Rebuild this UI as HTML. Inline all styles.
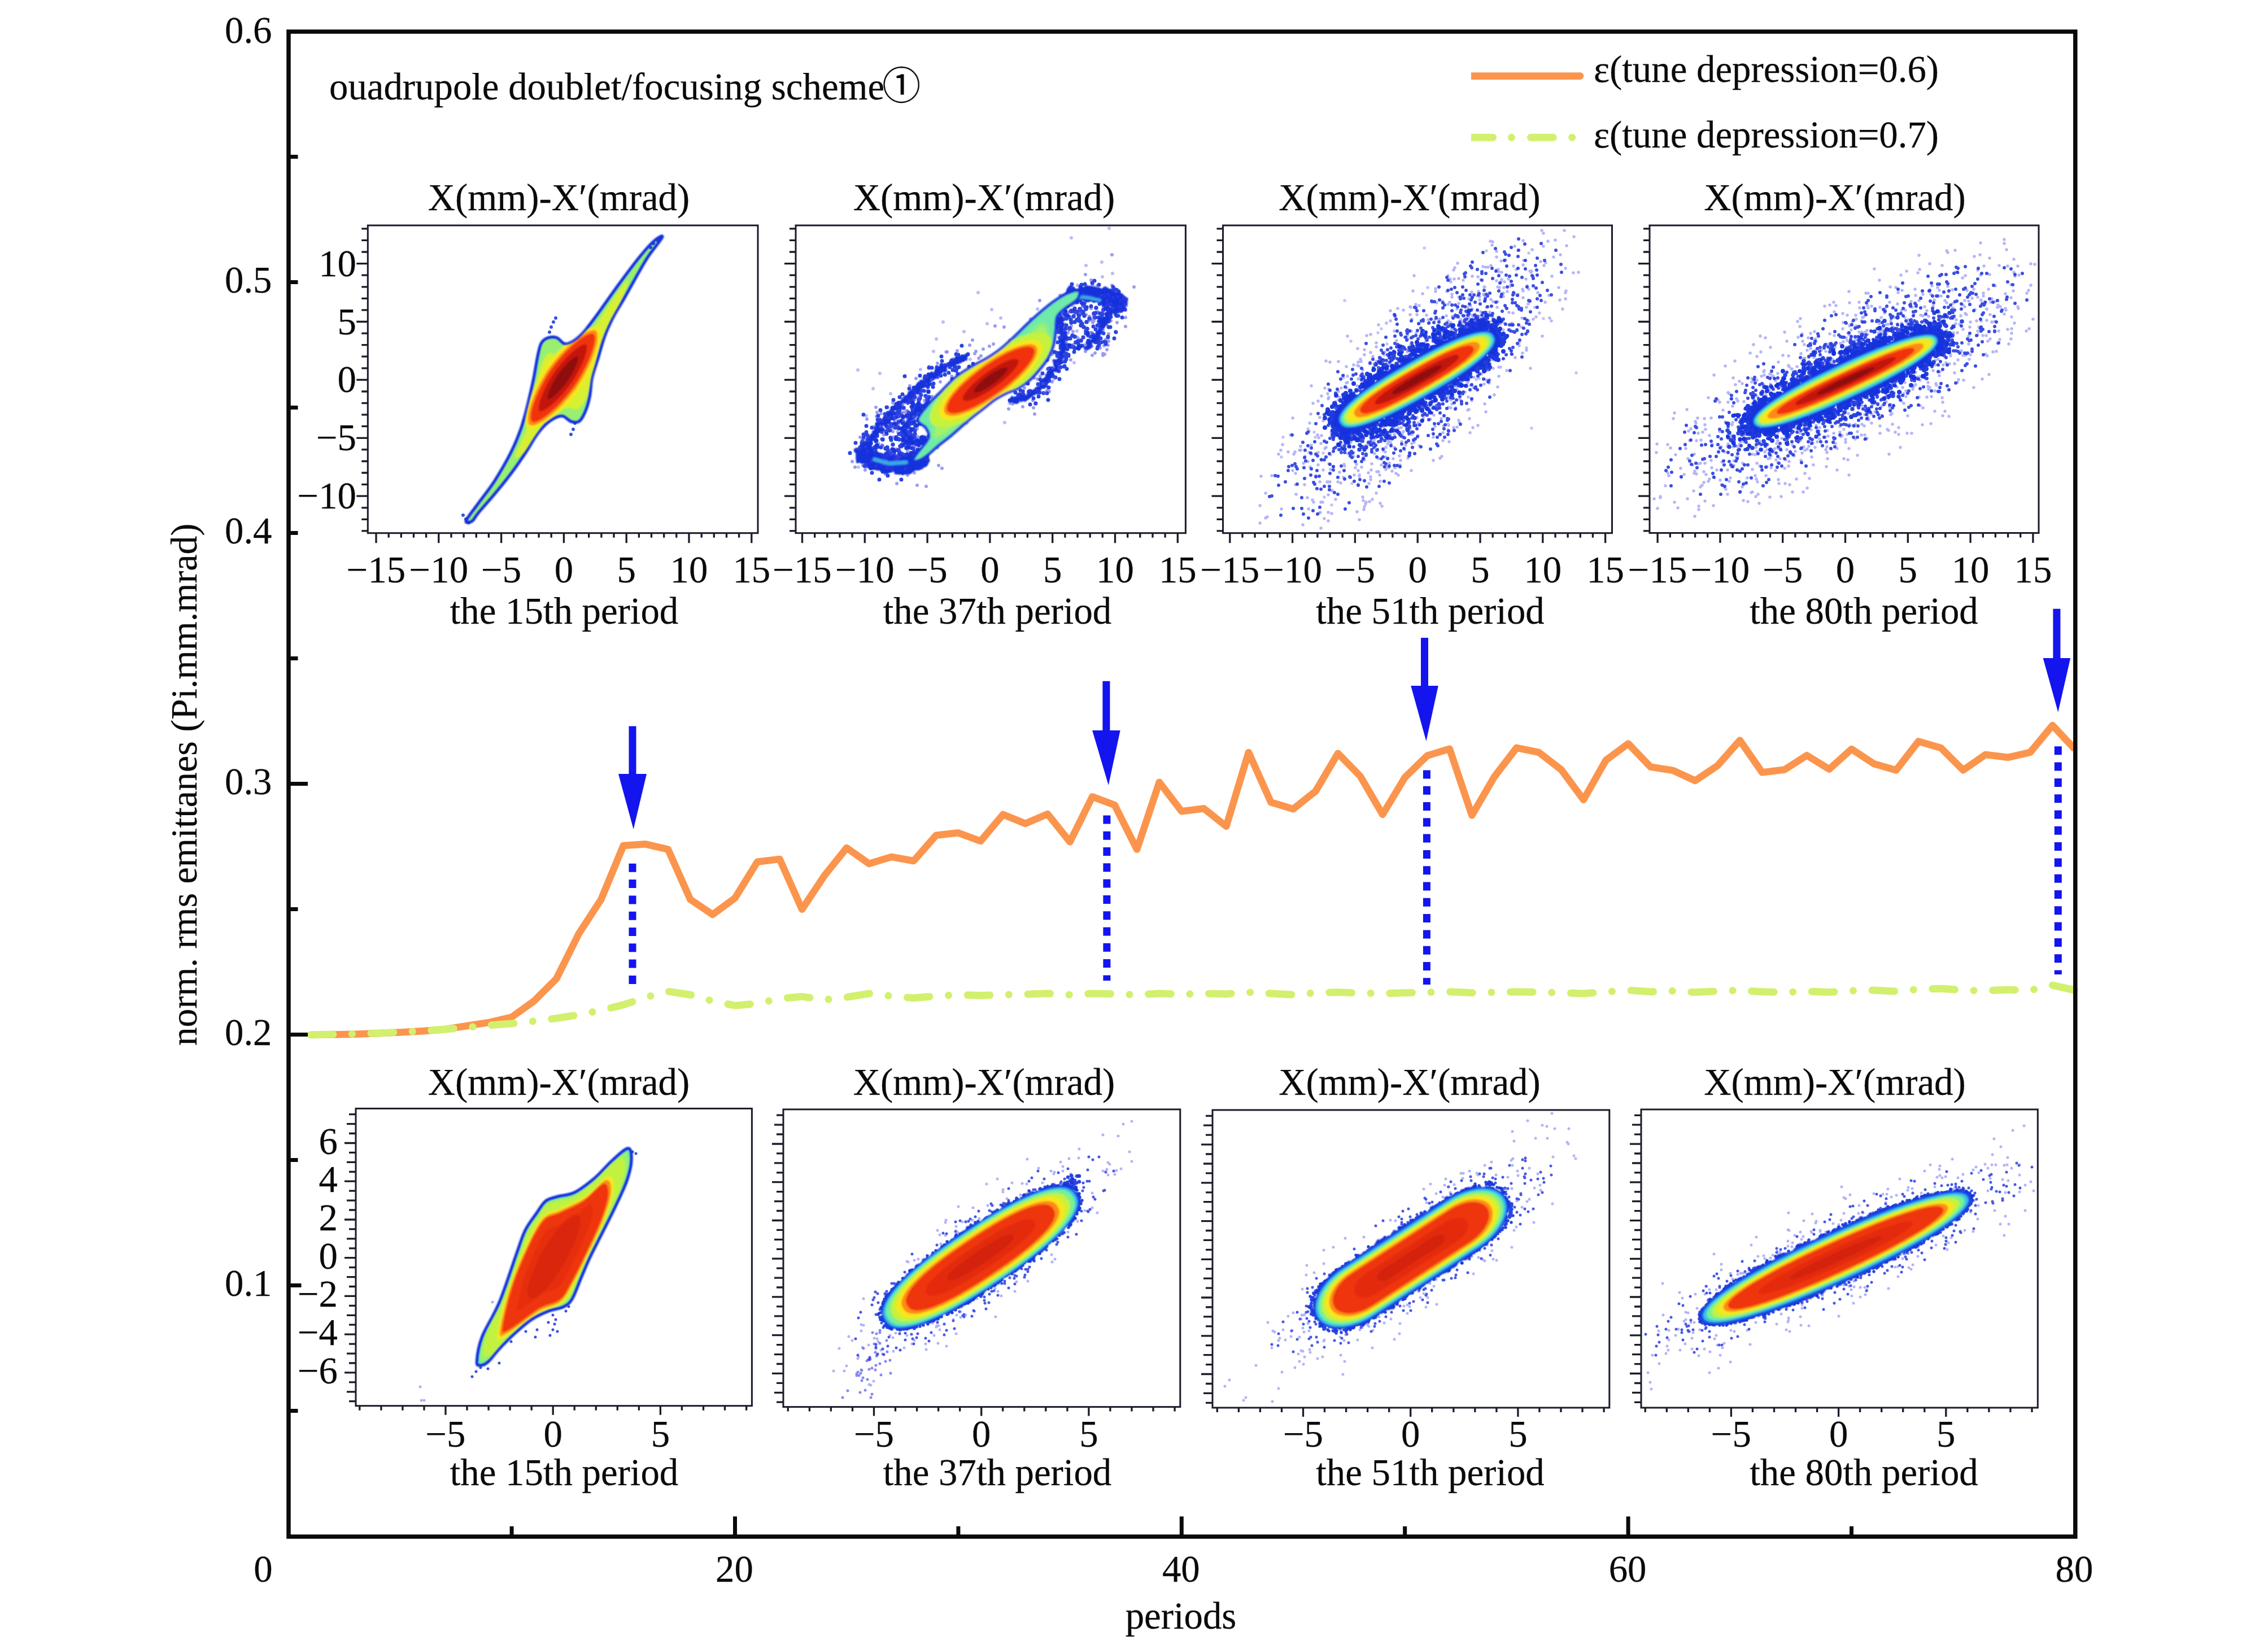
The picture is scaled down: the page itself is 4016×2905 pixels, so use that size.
<!DOCTYPE html>
<html><head><meta charset="utf-8"><title>emittance</title><style>html,body{margin:0;padding:0;background:#fff}svg{display:block}</style></head><body>
<svg width="4016" height="2905" viewBox="0 0 4016 2905" font-family="'Liberation Serif','Noto Sans CJK SC',serif" font-size="66.8" fill="#0a0a0a"><style>text{stroke:#0a0a0a;stroke-width:0.25px;stroke-linejoin:round}</style>
<defs>
<filter id="b1" x="-10%" y="-10%" width="120%" height="120%"><feGaussianBlur stdDeviation="1.5"/></filter>
<filter id="b0" x="-10%" y="-10%" width="120%" height="120%"><feGaussianBlur stdDeviation="1.1"/></filter>
<filter id="rg" x="-10%" y="-10%" width="120%" height="120%"><feTurbulence type="fractalNoise" baseFrequency="0.09" numOctaves="2" seed="3" result="n"/><feDisplacementMap in="SourceGraphic" in2="n" scale="14" xChannelSelector="R" yChannelSelector="G"/><feGaussianBlur stdDeviation="0.9"/></filter>
<filter id="rg2" x="-10%" y="-10%" width="120%" height="120%"><feTurbulence type="fractalNoise" baseFrequency="0.07" numOctaves="2" seed="5" result="n"/><feDisplacementMap in="SourceGraphic" in2="n" scale="30" xChannelSelector="R" yChannelSelector="G"/><feGaussianBlur stdDeviation="0.9"/></filter>
</defs>
<rect width="4016" height="2905" fill="#fff"/>
<polyline points="550.2,1832.0 589.8,1831.6 629.3,1830.7 668.9,1829.3 708.4,1827.6 747.9,1825.3 787.5,1822.2 827.0,1816.0 866.6,1809.8 906.1,1800.5 945.6,1772.1 985.2,1732.6 1024.7,1653.2 1064.3,1592.4 1103.8,1497.0 1143.3,1494.3 1182.9,1503.6 1222.4,1592.4 1262.0,1619.0 1301.5,1589.7 1341.0,1525.8 1380.6,1520.9 1420.1,1609.7 1459.7,1550.2 1499.2,1501.0 1538.7,1528.9 1578.3,1516.9 1617.8,1524.0 1657.4,1478.8 1696.9,1474.3 1736.4,1489.0 1776.0,1441.9 1815.5,1457.9 1855.1,1441.1 1894.6,1490.3 1934.1,1410.4 1973.7,1425.1 2013.2,1503.6 2052.8,1384.7 2092.3,1436.2 2131.8,1431.3 2171.4,1462.8 2210.9,1331.9 2250.5,1420.2 2290.0,1432.2 2329.5,1400.7 2369.1,1333.7 2408.6,1374.0 2448.2,1441.9 2487.7,1376.3 2527.2,1337.7 2566.8,1325.7 2606.3,1443.3 2645.9,1375.4 2685.4,1323.9 2724.9,1331.9 2764.5,1362.5 2804.0,1415.8 2843.6,1345.7 2883.1,1316.4 2922.6,1357.6 2962.2,1363.8 3001.7,1382.0 3041.3,1355.4 3080.8,1310.6 3120.3,1367.4 3159.9,1362.5 3199.4,1337.2 3239.0,1361.6 3278.5,1326.1 3318.0,1351.9 3357.6,1363.4 3397.1,1312.4 3436.7,1323.9 3476.2,1363.4 3515.7,1335.9 3555.3,1340.8 3594.8,1331.9 3634.4,1284.0 3673.9,1326.1" fill="none" stroke="#fb954d" stroke-width="12.5" stroke-linejoin="round" stroke-linecap="butt"/>
<polyline points="550.2,1832.0 589.8,1831.1 629.3,1830.2 668.9,1828.9 708.4,1827.1 747.9,1824.9 787.5,1822.2 827.0,1818.7 866.6,1815.1 906.1,1812.0 945.6,1807.6 985.2,1802.7 1024.7,1796.5 1064.3,1788.5 1103.8,1778.8 1143.3,1765.4 1182.9,1755.2 1222.4,1761.0 1262.0,1772.1 1301.5,1780.1 1341.0,1776.5 1380.6,1767.7 1420.1,1764.1 1459.7,1769.9 1499.2,1765.4 1538.7,1758.8 1578.3,1763.2 1617.8,1766.8 1657.4,1763.2 1696.9,1761.0 1736.4,1762.3 1776.0,1761.0 1815.5,1760.1 1855.1,1758.8 1894.6,1761.0 1934.1,1758.8 1973.7,1759.7 2013.2,1761.0 2052.8,1758.8 2092.3,1760.1 2131.8,1758.8 2171.4,1759.7 2210.9,1756.6 2250.5,1758.8 2290.0,1761.0 2329.5,1757.5 2369.1,1756.6 2408.6,1757.9 2448.2,1758.8 2487.7,1757.5 2527.2,1756.6 2566.8,1755.7 2606.3,1757.5 2645.9,1756.6 2685.4,1755.7 2724.9,1756.6 2764.5,1757.5 2804.0,1758.8 2843.6,1755.7 2883.1,1753.0 2922.6,1755.7 2962.2,1754.3 3001.7,1756.6 3041.3,1754.8 3080.8,1753.0 3120.3,1755.7 3159.9,1756.6 3199.4,1754.8 3239.0,1756.6 3278.5,1753.9 3318.0,1753.0 3357.6,1754.8 3397.1,1751.2 3436.7,1749.9 3476.2,1753.0 3515.7,1753.9 3555.3,1752.1 3594.8,1753.0 3634.4,1744.1 3673.9,1753.0" fill="none" stroke="#d2f06e" stroke-width="13" stroke-linejoin="round" stroke-linecap="round" stroke-dasharray="39.7 33.6 0.01 33.6"/>
<rect x="511.0" y="56.0" width="3163.8" height="2664.2" fill="none" stroke="#0a0a0a" stroke-width="7.5"/>
<path d="M511.0 277.5H527.5M511.0 499.5H527.5M511.0 721.5H527.5M511.0 943.5H527.5M511.0 1165.5H527.5M511.0 1609.5H527.5M511.0 2053.5H527.5M511.0 2497.5H527.5M511.0 1387.5H545M511.0 1831.5H545M511.0 2275.5H533.5M906.1 2720.2V2702M1696.9 2720.2V2702M2487.7 2720.2V2702M3278.5 2720.2V2702M1301.5 2720.2V2684.5M2092.3 2720.2V2684.5M2883.1 2720.2V2684.5" stroke="#0a0a0a" stroke-width="7" fill="none"/>
<text x="481.5" y="75.8" text-anchor="end">0.6</text>
<text x="481.5" y="518.3" text-anchor="end">0.5</text>
<text x="481.5" y="962.3" text-anchor="end">0.4</text>
<text x="481.5" y="1406.3" text-anchor="end">0.3</text>
<text x="481.5" y="1850.3" text-anchor="end">0.2</text>
<text x="481.5" y="2294.3" text-anchor="end">0.1</text>
<text x="466" y="2800" text-anchor="middle">0</text>
<text x="1300.5" y="2800" text-anchor="middle">20</text>
<text x="2091.3" y="2800" text-anchor="middle">40</text>
<text x="2882.1" y="2800" text-anchor="middle">60</text>
<text x="3672.9" y="2800" text-anchor="middle">80</text>
<text x="2091" y="2882.5" text-anchor="middle">periods</text>
<text transform="translate(348,1389) rotate(-90)" text-anchor="middle" font-size="65.8">norm. rms emittanes (Pi.mm.mrad)</text>
<text x="583" y="176">ouadrupole doublet/focusing scheme<tspan font-size="68" dx="-4" dy="0">①</tspan></text>
<path d="M2605 134.6H2798" stroke="#fb954d" stroke-width="12.7" fill="none"/><circle cx="2798" cy="134.6" r="6.35" fill="#fb954d"/>
<g fill="#d2f06e"><path d="M2605 236.8h38.5a6.5 6.5 0 0 1 0 13h-38.5z"/><circle cx="2676.5" cy="243.3" r="6.5"/><rect x="2704" y="236.8" width="52.7" height="13" rx="6.5"/><circle cx="2783.7" cy="243.3" r="6.5"/></g>
<text x="2822" y="145">ε(tune depression=0.6)</text>
<text x="2822" y="261">ε(tune depression=0.7)</text>
<path d="M1113.5 1285.5H1126.5V1370H1145.0L1121.7 1468L1095.0 1370H1113.5Z" fill="#1414ee"/>
<path d="M1952.4 1205.7H1965.4V1293H1983.65L1962.8 1390L1934.15 1293H1952.4Z" fill="#1414ee"/>
<path d="M2516.0 1129H2529.0V1214H2546.75L2525.4 1312L2498.25 1214H2516.0Z" fill="#1414ee"/>
<path d="M3635.4 1077.8H3648.4V1165H3666.15L3644.3 1260.7L3617.65 1165H3635.4Z" fill="#1414ee"/>
<path d="M1120 1528.8V1744" stroke="#1414ee" stroke-width="13" stroke-dasharray="15 13.3" fill="none"/>
<path d="M1959.9 1443.4V1736" stroke="#1414ee" stroke-width="13" stroke-dasharray="15 13.3" fill="none"/>
<path d="M2526.4 1363.4V1743" stroke="#1414ee" stroke-width="13" stroke-dasharray="15 13.3" fill="none"/>
<path d="M3644.3 1321.3V1725" stroke="#1414ee" stroke-width="13" stroke-dasharray="15 13.3" fill="none"/>
<rect x="649.3" y="397" width="694.7" height="548.7" fill="#fff"/>
<rect x="651.3" y="399" width="690.7" height="544.7" fill="none" stroke="#1b1b2b" stroke-width="3"/>
<path d="M666.0 943.7v17.5M688.2 943.7v8M710.3 943.7v8M732.5 943.7v8M754.6 943.7v8M776.8 943.7v17.5M799.0 943.7v8M821.1 943.7v8M843.3 943.7v8M865.4 943.7v8M887.6 943.7v17.5M909.8 943.7v8M931.9 943.7v8M954.1 943.7v8M976.2 943.7v8M998.4 943.7v17.5M1020.6 943.7v8M1042.7 943.7v8M1064.9 943.7v8M1087.0 943.7v8M1109.2 943.7v17.5M1131.4 943.7v8M1153.5 943.7v8M1175.7 943.7v8M1197.8 943.7v8M1220.0 943.7v17.5M1242.2 943.7v8M1264.3 943.7v8M1286.5 943.7v8M1308.6 943.7v8M1330.8 943.7v17.5M651.3 939.9h-11M651.3 919.4h-11M651.3 898.8h-11M651.3 878.2h-20M651.3 857.6h-11M651.3 837.0h-11M651.3 816.5h-11M651.3 795.9h-11M651.3 775.3h-20M651.3 754.7h-11M651.3 734.1h-11M651.3 713.6h-11M651.3 693.0h-11M651.3 672.4h-20M651.3 651.8h-11M651.3 631.2h-11M651.3 610.7h-11M651.3 590.1h-11M651.3 569.5h-20M651.3 548.9h-11M651.3 528.3h-11M651.3 507.8h-11M651.3 487.2h-11M651.3 466.6h-20M651.3 446.0h-11M651.3 425.4h-11M651.3 404.9h-11" stroke="#1b1b2b" stroke-width="3.3" fill="none"/>
<text x="666.0" y="1030.5" text-anchor="middle">−15</text>
<text x="776.8" y="1030.5" text-anchor="middle">−10</text>
<text x="887.6" y="1030.5" text-anchor="middle">−5</text>
<text x="998.4" y="1030.5" text-anchor="middle">0</text>
<text x="1109.2" y="1030.5" text-anchor="middle">5</text>
<text x="1220.0" y="1030.5" text-anchor="middle">10</text>
<text x="1330.8" y="1030.5" text-anchor="middle">15</text>
<text x="631" y="488.6" text-anchor="end">10</text>
<text x="631" y="591.5" text-anchor="end">5</text>
<text x="631" y="694.4" text-anchor="end">0</text>
<text x="631" y="797.3" text-anchor="end">−5</text>
<text x="631" y="900.2" text-anchor="end">−10</text>
<text x="989.5" y="371.5" text-anchor="middle">X(mm)-X′(mrad)</text>
<text x="999" y="1104" text-anchor="middle">the 15th period</text>
<rect x="1407" y="397" width="694.4000000000001" height="548.7" fill="#fff"/>
<rect x="1409" y="399" width="690.4" height="544.7" fill="none" stroke="#1b1b2b" stroke-width="3"/>
<path d="M1420.5 943.7v17.5M1442.7 943.7v8M1464.8 943.7v8M1487.0 943.7v8M1509.1 943.7v8M1531.3 943.7v17.5M1553.5 943.7v8M1575.6 943.7v8M1597.8 943.7v8M1619.9 943.7v8M1642.1 943.7v17.5M1664.3 943.7v8M1686.4 943.7v8M1708.6 943.7v8M1730.7 943.7v8M1752.9 943.7v17.5M1775.1 943.7v8M1797.2 943.7v8M1819.4 943.7v8M1841.5 943.7v8M1863.7 943.7v17.5M1885.9 943.7v8M1908.0 943.7v8M1930.2 943.7v8M1952.3 943.7v8M1974.5 943.7v17.5M1996.7 943.7v8M2018.8 943.7v8M2041.0 943.7v8M2063.1 943.7v8M2085.3 943.7v17.5M1409 939.9h-11M1409 919.4h-11M1409 898.8h-11M1409 878.2h-20M1409 857.6h-11M1409 837.0h-11M1409 816.5h-11M1409 795.9h-11M1409 775.3h-20M1409 754.7h-11M1409 734.1h-11M1409 713.6h-11M1409 693.0h-11M1409 672.4h-20M1409 651.8h-11M1409 631.2h-11M1409 610.7h-11M1409 590.1h-11M1409 569.5h-20M1409 548.9h-11M1409 528.3h-11M1409 507.8h-11M1409 487.2h-11M1409 466.6h-20M1409 446.0h-11M1409 425.4h-11M1409 404.9h-11" stroke="#1b1b2b" stroke-width="3.3" fill="none"/>
<text x="1420.5" y="1030.5" text-anchor="middle">−15</text>
<text x="1531.3" y="1030.5" text-anchor="middle">−10</text>
<text x="1642.1" y="1030.5" text-anchor="middle">−5</text>
<text x="1752.9" y="1030.5" text-anchor="middle">0</text>
<text x="1863.7" y="1030.5" text-anchor="middle">5</text>
<text x="1974.5" y="1030.5" text-anchor="middle">10</text>
<text x="2085.3" y="1030.5" text-anchor="middle">15</text>
<text x="1742.5" y="371.5" text-anchor="middle">X(mm)-X′(mrad)</text>
<text x="1766" y="1104" text-anchor="middle">the 37th period</text>
<rect x="2163.5" y="397" width="693.0" height="548.7" fill="#fff"/>
<rect x="2165.5" y="399" width="689.0" height="544.7" fill="none" stroke="#1b1b2b" stroke-width="3"/>
<path d="M2177.8 943.7v17.5M2200.0 943.7v8M2222.1 943.7v8M2244.3 943.7v8M2266.4 943.7v8M2288.6 943.7v17.5M2310.8 943.7v8M2332.9 943.7v8M2355.1 943.7v8M2377.2 943.7v8M2399.4 943.7v17.5M2421.6 943.7v8M2443.7 943.7v8M2465.9 943.7v8M2488.0 943.7v8M2510.2 943.7v17.5M2532.4 943.7v8M2554.5 943.7v8M2576.7 943.7v8M2598.8 943.7v8M2621.0 943.7v17.5M2643.2 943.7v8M2665.3 943.7v8M2687.5 943.7v8M2709.6 943.7v8M2731.8 943.7v17.5M2754.0 943.7v8M2776.1 943.7v8M2798.3 943.7v8M2820.4 943.7v8M2842.6 943.7v17.5M2165.5 939.9h-11M2165.5 919.4h-11M2165.5 898.8h-11M2165.5 878.2h-20M2165.5 857.6h-11M2165.5 837.0h-11M2165.5 816.5h-11M2165.5 795.9h-11M2165.5 775.3h-20M2165.5 754.7h-11M2165.5 734.1h-11M2165.5 713.6h-11M2165.5 693.0h-11M2165.5 672.4h-20M2165.5 651.8h-11M2165.5 631.2h-11M2165.5 610.7h-11M2165.5 590.1h-11M2165.5 569.5h-20M2165.5 548.9h-11M2165.5 528.3h-11M2165.5 507.8h-11M2165.5 487.2h-11M2165.5 466.6h-20M2165.5 446.0h-11M2165.5 425.4h-11M2165.5 404.9h-11" stroke="#1b1b2b" stroke-width="3.3" fill="none"/>
<text x="2177.8" y="1030.5" text-anchor="middle">−15</text>
<text x="2288.6" y="1030.5" text-anchor="middle">−10</text>
<text x="2399.4" y="1030.5" text-anchor="middle">−5</text>
<text x="2510.2" y="1030.5" text-anchor="middle">0</text>
<text x="2621.0" y="1030.5" text-anchor="middle">5</text>
<text x="2731.8" y="1030.5" text-anchor="middle">10</text>
<text x="2842.6" y="1030.5" text-anchor="middle">15</text>
<text x="2496" y="371.5" text-anchor="middle">X(mm)-X′(mrad)</text>
<text x="2532.5" y="1104" text-anchor="middle">the 51th period</text>
<rect x="2919" y="397" width="693" height="548.5" fill="#fff"/>
<rect x="2921" y="399" width="689.0" height="544.5" fill="none" stroke="#1b1b2b" stroke-width="3"/>
<path d="M2935.1 943.5v17.5M2957.3 943.5v8M2979.4 943.5v8M3001.6 943.5v8M3023.7 943.5v8M3045.9 943.5v17.5M3068.1 943.5v8M3090.2 943.5v8M3112.4 943.5v8M3134.5 943.5v8M3156.7 943.5v17.5M3178.9 943.5v8M3201.0 943.5v8M3223.2 943.5v8M3245.3 943.5v8M3267.5 943.5v17.5M3289.7 943.5v8M3311.8 943.5v8M3334.0 943.5v8M3356.1 943.5v8M3378.3 943.5v17.5M3400.5 943.5v8M3422.6 943.5v8M3444.8 943.5v8M3466.9 943.5v8M3489.1 943.5v17.5M3511.3 943.5v8M3533.4 943.5v8M3555.6 943.5v8M3577.7 943.5v8M3599.9 943.5v17.5M2921 939.9h-11M2921 919.4h-11M2921 898.8h-11M2921 878.2h-20M2921 857.6h-11M2921 837.0h-11M2921 816.5h-11M2921 795.9h-11M2921 775.3h-20M2921 754.7h-11M2921 734.1h-11M2921 713.6h-11M2921 693.0h-11M2921 672.4h-20M2921 651.8h-11M2921 631.2h-11M2921 610.7h-11M2921 590.1h-11M2921 569.5h-20M2921 548.9h-11M2921 528.3h-11M2921 507.8h-11M2921 487.2h-11M2921 466.6h-20M2921 446.0h-11M2921 425.4h-11M2921 404.9h-11" stroke="#1b1b2b" stroke-width="3.3" fill="none"/>
<text x="2935.1" y="1030.5" text-anchor="middle">−15</text>
<text x="3045.9" y="1030.5" text-anchor="middle">−10</text>
<text x="3156.7" y="1030.5" text-anchor="middle">−5</text>
<text x="3267.5" y="1030.5" text-anchor="middle">0</text>
<text x="3378.3" y="1030.5" text-anchor="middle">5</text>
<text x="3489.1" y="1030.5" text-anchor="middle">10</text>
<text x="3599.9" y="1030.5" text-anchor="middle">15</text>
<text x="3249" y="371.5" text-anchor="middle">X(mm)-X′(mrad)</text>
<text x="3300.5" y="1104" text-anchor="middle">the 80th period</text>
<rect x="628" y="1960.4" width="705.4000000000001" height="530.2999999999997" fill="#fff"/>
<rect x="630" y="1962.4" width="701.4" height="526.3" fill="none" stroke="#1b1b2b" stroke-width="3"/>
<path d="M636.8 2488.7v8M674.9 2488.7v8M712.9 2488.7v8M751.0 2488.7v8M789.0 2488.7v16M827.0 2488.7v8M865.1 2488.7v8M903.1 2488.7v8M941.2 2488.7v8M979.2 2488.7v16M1017.2 2488.7v8M1055.3 2488.7v8M1093.3 2488.7v8M1131.4 2488.7v8M1169.4 2488.7v16M1207.4 2488.7v8M1245.5 2488.7v8M1283.5 2488.7v8M1321.6 2488.7v8M630 2480.7h-12M630 2463.8h-16M630 2446.9h-12M630 2429.9h-20M630 2413.0h-12M630 2396.1h-16M630 2379.1h-12M630 2362.2h-20M630 2345.2h-12M630 2328.3h-16M630 2311.4h-12M630 2294.4h-20M630 2277.5h-12M630 2260.6h-16M630 2243.6h-12M630 2226.7h-20M630 2209.8h-12M630 2192.8h-16M630 2175.9h-12M630 2159.0h-20M630 2142.0h-12M630 2125.1h-16M630 2108.2h-12M630 2091.2h-20M630 2074.3h-12M630 2057.4h-16M630 2040.4h-12M630 2023.5h-20M630 2006.5h-12M630 1989.6h-16M630 1972.7h-12" stroke="#1b1b2b" stroke-width="3.3" fill="none"/>
<text x="789.0" y="2560.5" text-anchor="middle">−5</text>
<text x="979.2" y="2560.5" text-anchor="middle">0</text>
<text x="1169.4" y="2560.5" text-anchor="middle">5</text>
<text x="598" y="2042.5" text-anchor="end">6</text>
<text x="598" y="2110.2" text-anchor="end">4</text>
<text x="598" y="2178.0" text-anchor="end">2</text>
<text x="598" y="2245.7" text-anchor="end">0</text>
<text x="598" y="2313.4" text-anchor="end">−2</text>
<text x="598" y="2381.2" text-anchor="end">−4</text>
<text x="598" y="2448.9" text-anchor="end">−6</text>
<text x="989.5" y="1938" text-anchor="middle">X(mm)-X′(mrad)</text>
<text x="999" y="2629" text-anchor="middle">the 15th period</text>
<rect x="1385" y="1961.9" width="706.8000000000002" height="530.6999999999998" fill="#fff"/>
<rect x="1387" y="1963.9" width="702.8" height="526.7" fill="none" stroke="#1b1b2b" stroke-width="3"/>
<path d="M1395.3 2490.6v8M1433.4 2490.6v8M1471.4 2490.6v8M1509.5 2490.6v8M1547.5 2490.6v16M1585.5 2490.6v8M1623.6 2490.6v8M1661.6 2490.6v8M1699.7 2490.6v8M1737.7 2490.6v16M1775.7 2490.6v8M1813.8 2490.6v8M1851.8 2490.6v8M1889.9 2490.6v8M1927.9 2490.6v16M1965.9 2490.6v8M2004.0 2490.6v8M2042.0 2490.6v8M2080.1 2490.6v8M1387 2482.2h-12M1387 2465.3h-16M1387 2448.4h-12M1387 2431.4h-20M1387 2414.5h-12M1387 2397.6h-16M1387 2380.6h-12M1387 2363.7h-20M1387 2346.7h-12M1387 2329.8h-16M1387 2312.9h-12M1387 2295.9h-20M1387 2279.0h-12M1387 2262.1h-16M1387 2245.1h-12M1387 2228.2h-20M1387 2211.3h-12M1387 2194.3h-16M1387 2177.4h-12M1387 2160.5h-20M1387 2143.5h-12M1387 2126.6h-16M1387 2109.7h-12M1387 2092.7h-20M1387 2075.8h-12M1387 2058.9h-16M1387 2041.9h-12M1387 2025.0h-20M1387 2008.0h-12M1387 1991.1h-16M1387 1974.2h-12" stroke="#1b1b2b" stroke-width="3.3" fill="none"/>
<text x="1547.5" y="2560.5" text-anchor="middle">−5</text>
<text x="1737.7" y="2560.5" text-anchor="middle">0</text>
<text x="1927.9" y="2560.5" text-anchor="middle">5</text>
<text x="1742.5" y="1938" text-anchor="middle">X(mm)-X′(mrad)</text>
<text x="1766" y="2629" text-anchor="middle">the 37th period</text>
<rect x="2145" y="1963" width="706.8000000000002" height="531" fill="#fff"/>
<rect x="2147" y="1965" width="702.8" height="527.0" fill="none" stroke="#1b1b2b" stroke-width="3"/>
<path d="M2155.3 2492v8M2193.4 2492v8M2231.4 2492v8M2269.5 2492v8M2307.5 2492v16M2345.5 2492v8M2383.6 2492v8M2421.6 2492v8M2459.7 2492v8M2497.7 2492v16M2535.7 2492v8M2573.8 2492v8M2611.8 2492v8M2649.9 2492v8M2687.9 2492v16M2725.9 2492v8M2764.0 2492v8M2802.0 2492v8M2840.1 2492v8M2147 2483.3h-12M2147 2466.4h-16M2147 2449.5h-12M2147 2432.5h-20M2147 2415.6h-12M2147 2398.7h-16M2147 2381.7h-12M2147 2364.8h-20M2147 2347.8h-12M2147 2330.9h-16M2147 2314.0h-12M2147 2297.0h-20M2147 2280.1h-12M2147 2263.2h-16M2147 2246.2h-12M2147 2229.3h-20M2147 2212.4h-12M2147 2195.4h-16M2147 2178.5h-12M2147 2161.6h-20M2147 2144.6h-12M2147 2127.7h-16M2147 2110.8h-12M2147 2093.8h-20M2147 2076.9h-12M2147 2060.0h-16M2147 2043.0h-12M2147 2026.1h-20M2147 2009.1h-12M2147 1992.2h-16M2147 1975.3h-12" stroke="#1b1b2b" stroke-width="3.3" fill="none"/>
<text x="2307.5" y="2560.5" text-anchor="middle">−5</text>
<text x="2497.7" y="2560.5" text-anchor="middle">0</text>
<text x="2687.9" y="2560.5" text-anchor="middle">5</text>
<text x="2496" y="1938" text-anchor="middle">X(mm)-X′(mrad)</text>
<text x="2532.5" y="2629" text-anchor="middle">the 51th period</text>
<rect x="2904" y="1962" width="706.3000000000002" height="532" fill="#fff"/>
<rect x="2906" y="1964" width="702.3" height="528.0" fill="none" stroke="#1b1b2b" stroke-width="3"/>
<path d="M2913.2 2492v8M2951.3 2492v8M2989.3 2492v8M3027.4 2492v8M3065.4 2492v16M3103.4 2492v8M3141.5 2492v8M3179.5 2492v8M3217.6 2492v8M3255.6 2492v16M3293.6 2492v8M3331.7 2492v8M3369.7 2492v8M3407.8 2492v8M3445.8 2492v16M3483.8 2492v8M3521.9 2492v8M3559.9 2492v8M3598.0 2492v8M2906 2482.3h-12M2906 2465.4h-16M2906 2448.5h-12M2906 2431.5h-20M2906 2414.6h-12M2906 2397.7h-16M2906 2380.7h-12M2906 2363.8h-20M2906 2346.8h-12M2906 2329.9h-16M2906 2313.0h-12M2906 2296.0h-20M2906 2279.1h-12M2906 2262.2h-16M2906 2245.2h-12M2906 2228.3h-20M2906 2211.4h-12M2906 2194.4h-16M2906 2177.5h-12M2906 2160.6h-20M2906 2143.6h-12M2906 2126.7h-16M2906 2109.8h-12M2906 2092.8h-20M2906 2075.9h-12M2906 2059.0h-16M2906 2042.0h-12M2906 2025.1h-20M2906 2008.1h-12M2906 1991.2h-16M2906 1974.3h-12" stroke="#1b1b2b" stroke-width="3.3" fill="none"/>
<text x="3065.4" y="2560.5" text-anchor="middle">−5</text>
<text x="3255.6" y="2560.5" text-anchor="middle">0</text>
<text x="3445.8" y="2560.5" text-anchor="middle">5</text>
<text x="3249" y="1938" text-anchor="middle">X(mm)-X′(mrad)</text>
<text x="3300.5" y="2629" text-anchor="middle">the 80th period</text>
<clipPath id="c1"><rect x="653.3" y="401" width="686.7" height="540.7"/></clipPath><g clip-path="url(#c1)">
<g filter="url(#b1)">
<clipPath id="c1b"><path d="M825.4 921.8C827.3 916.6 838.2 903.5 846.6 891.8C855.1 880.1 866.1 866.8 875.9 851.6C885.6 836.3 897.2 816.2 905.1 800.4C913.1 784.6 918.5 770.5 923.4 756.5C928.3 742.5 930.9 730.3 934.4 716.3C937.9 702.3 941.7 686.5 944.6 672.5C947.5 658.4 949.7 642.9 951.9 632.2C954.2 621.6 955.3 614.1 958.1 608.5C961.0 602.9 964.5 600.4 969.1 598.6C973.7 596.8 980.4 596.2 985.6 597.9C990.7 599.6 995.0 608.0 1000.2 608.8C1005.4 609.7 1010.8 606.7 1016.6 603.0C1022.4 599.3 1027.9 594.5 1034.9 586.5C1041.9 578.6 1048.6 569.2 1058.7 555.5C1068.7 541.8 1083.0 520.9 1095.2 504.3C1107.4 487.7 1121.4 468.8 1131.8 456.0C1142.1 443.2 1150.6 433.6 1157.4 427.5C1164.2 421.4 1174.3 415.2 1172.7 419.5C1171.2 423.7 1155.1 442.9 1148.2 453.1C1141.4 463.3 1138.8 468.3 1131.8 480.5C1124.8 492.7 1114.0 512.5 1106.2 526.2C1098.4 539.9 1091.0 551.2 1085.0 562.8C1079.0 574.4 1074.6 584.1 1070.4 595.7C1066.1 607.3 1063.1 620.1 1059.4 632.2C1055.8 644.4 1051.0 657.2 1048.4 668.8C1045.9 680.4 1046.0 691.9 1044.1 701.7C1042.1 711.4 1039.8 720.0 1036.7 727.3C1033.7 734.6 1029.9 742.4 1025.8 745.6C1021.6 748.7 1016.8 747.8 1011.9 746.3C1007.0 744.8 1001.5 737.5 996.5 736.4C991.5 735.4 987.4 737.2 981.9 740.1C976.4 742.9 969.1 748.3 963.6 753.6C958.1 758.9 954.5 764.0 949.0 771.9C943.5 779.8 938.0 790.2 930.7 801.1C923.4 812.1 914.3 825.5 905.1 837.7C896.0 849.9 885.5 862.7 875.9 874.2C866.3 885.8 854.1 899.1 847.4 907.1C840.7 915.2 839.3 920.1 835.7 922.5C832.0 924.9 823.6 926.9 825.4 921.8Z"/></clipPath>
<path d="M825.4 921.8C827.3 916.6 838.2 903.5 846.6 891.8C855.1 880.1 866.1 866.8 875.9 851.6C885.6 836.3 897.2 816.2 905.1 800.4C913.1 784.6 918.5 770.5 923.4 756.5C928.3 742.5 930.9 730.3 934.4 716.3C937.9 702.3 941.7 686.5 944.6 672.5C947.5 658.4 949.7 642.9 951.9 632.2C954.2 621.6 955.3 614.1 958.1 608.5C961.0 602.9 964.5 600.4 969.1 598.6C973.7 596.8 980.4 596.2 985.6 597.9C990.7 599.6 995.0 608.0 1000.2 608.8C1005.4 609.7 1010.8 606.7 1016.6 603.0C1022.4 599.3 1027.9 594.5 1034.9 586.5C1041.9 578.6 1048.6 569.2 1058.7 555.5C1068.7 541.8 1083.0 520.9 1095.2 504.3C1107.4 487.7 1121.4 468.8 1131.8 456.0C1142.1 443.2 1150.6 433.6 1157.4 427.5C1164.2 421.4 1174.3 415.2 1172.7 419.5C1171.2 423.7 1155.1 442.9 1148.2 453.1C1141.4 463.3 1138.8 468.3 1131.8 480.5C1124.8 492.7 1114.0 512.5 1106.2 526.2C1098.4 539.9 1091.0 551.2 1085.0 562.8C1079.0 574.4 1074.6 584.1 1070.4 595.7C1066.1 607.3 1063.1 620.1 1059.4 632.2C1055.8 644.4 1051.0 657.2 1048.4 668.8C1045.9 680.4 1046.0 691.9 1044.1 701.7C1042.1 711.4 1039.8 720.0 1036.7 727.3C1033.7 734.6 1029.9 742.4 1025.8 745.6C1021.6 748.7 1016.8 747.8 1011.9 746.3C1007.0 744.8 1001.5 737.5 996.5 736.4C991.5 735.4 987.4 737.2 981.9 740.1C976.4 742.9 969.1 748.3 963.6 753.6C958.1 758.9 954.5 764.0 949.0 771.9C943.5 779.8 938.0 790.2 930.7 801.1C923.4 812.1 914.3 825.5 905.1 837.7C896.0 849.9 885.5 862.7 875.9 874.2C866.3 885.8 854.1 899.1 847.4 907.1C840.7 915.2 839.3 920.1 835.7 922.5C832.0 924.9 823.6 926.9 825.4 921.8Z" fill="#98f070" stroke="#1432dc" stroke-width="5"/>
<g clip-path="url(#c1b)">
<path d="M912.5 807.7C913.1 801.0 928.0 774.2 932.9 760.2C937.8 746.2 938.9 736.4 941.7 723.6C944.5 710.8 946.8 696.5 949.7 683.4C952.7 670.3 955.4 654.8 959.2 645.0C963.1 635.3 967.8 627.1 972.8 624.9C977.8 622.8 983.4 633.2 989.2 632.2C995.0 631.3 1000.2 624.9 1007.5 619.4C1014.8 614.0 1024.6 607.6 1033.1 599.3C1041.6 591.1 1049.5 582.3 1058.7 570.1C1067.8 557.9 1079.1 538.4 1087.9 526.2C1096.8 514.0 1109.7 495.8 1111.7 497.0C1113.6 498.2 1105.4 520.1 1099.6 533.5C1093.8 546.9 1083.2 564.0 1077.0 577.4C1070.7 590.8 1066.6 600.6 1062.3 614.0C1058.1 627.4 1055.0 643.5 1051.4 657.8C1047.7 672.1 1045.0 688.9 1040.4 699.9C1035.8 710.8 1029.4 720.0 1023.9 723.6C1018.5 727.3 1013.3 721.2 1007.5 721.8C1001.7 722.4 995.9 723.3 989.2 727.3C982.5 731.2 974.0 738.3 967.3 745.6C960.6 752.9 955.4 762.0 949.0 771.2C942.6 780.3 935.0 794.3 928.9 800.4C922.8 806.5 911.8 814.4 912.5 807.7Z" fill="#d8f032"/>
<path d="M1058.4 580.3L1060.0 582.0L1061.4 584.7L1062.3 588.2L1062.8 592.5L1062.9 597.5L1062.4 603.1L1061.4 609.3L1060.0 616.0L1058.0 623.2L1055.6 630.6L1052.8 638.4L1049.6 646.2L1046.0 654.2L1042.1 662.1L1038.1 669.8L1033.8 677.1L1029.7 683.9L1026.0 689.4L1022.0 694.8L1017.1 701.0L1011.6 707.5L1005.8 714.0L999.7 720.3L993.5 726.4L987.2 732.1L980.9 737.4L974.7 742.2L968.6 746.5L962.8 750.2L957.3 753.2L952.2 755.6L947.5 757.3L943.3 758.2L939.6 758.5L936.6 758.2L934.6 757.3L933.0 755.6L931.6 752.9L930.7 749.4L930.2 745.1L930.1 740.1L930.6 734.5L931.6 728.3L933.0 721.6L935.0 714.4L937.4 707.0L940.2 699.2L943.4 691.4L947.0 683.4L950.9 675.5L954.9 667.8L959.2 660.5L963.3 653.7L967.0 648.2L971.0 642.8L975.9 636.6L981.4 630.1L987.2 623.6L993.3 617.3L999.5 611.2L1005.8 605.5L1012.1 600.2L1018.3 595.4L1024.4 591.1L1030.2 587.4L1035.7 584.4L1040.8 582.0L1045.5 580.3L1049.7 579.4L1053.4 579.1L1056.4 579.4Z" fill="#f8e61e" />
<path d="M1055.0 585.2L1056.2 586.7L1057.3 589.0L1057.9 592.1L1058.1 595.9L1057.8 600.5L1057.1 605.6L1055.9 611.2L1054.2 617.4L1052.1 624.0L1049.6 630.9L1046.7 638.0L1043.5 645.3L1040.0 652.7L1036.2 660.0L1032.2 667.2L1028.2 674.1L1024.2 680.5L1020.7 685.7L1017.0 690.8L1012.3 696.7L1007.2 702.9L1001.8 709.1L996.2 715.1L990.5 721.0L984.7 726.5L979.0 731.7L973.4 736.4L967.9 740.6L962.7 744.3L957.8 747.4L953.2 749.8L949.1 751.6L945.4 752.7L942.3 753.2L939.7 753.0L938.0 752.4L936.8 750.9L935.7 748.6L935.1 745.5L934.9 741.7L935.2 737.1L935.9 732.0L937.1 726.4L938.8 720.2L940.9 713.6L943.4 706.7L946.3 699.6L949.5 692.3L953.0 684.9L956.8 677.6L960.8 670.4L964.8 663.5L968.8 657.1L972.3 651.9L976.0 646.8L980.7 640.9L985.8 634.7L991.2 628.5L996.8 622.5L1002.5 616.6L1008.3 611.1L1014.0 605.9L1019.6 601.2L1025.1 597.0L1030.3 593.3L1035.2 590.2L1039.8 587.8L1043.9 586.0L1047.6 584.9L1050.7 584.4L1053.3 584.6Z" fill="#ff8a14" />
<path d="M1051.0 591.0L1052.0 592.2L1052.9 594.3L1053.3 597.1L1053.3 600.6L1053.0 604.7L1052.1 609.4L1050.9 614.6L1049.2 620.2L1047.2 626.2L1044.7 632.6L1041.9 639.2L1038.8 645.9L1035.4 652.7L1031.8 659.5L1028.1 666.2L1024.3 672.6L1020.5 678.5L1017.3 683.4L1013.8 688.1L1009.6 693.6L1004.8 699.4L999.9 705.2L994.7 710.9L989.5 716.4L984.2 721.6L978.9 726.5L973.8 731.0L968.9 735.0L964.1 738.5L959.7 741.4L955.6 743.8L951.8 745.5L948.6 746.7L945.8 747.2L943.5 747.2L942.0 746.6L941.0 745.4L940.1 743.3L939.7 740.5L939.7 737.0L940.0 732.9L940.9 728.2L942.1 723.0L943.8 717.4L945.8 711.4L948.3 705.0L951.1 698.4L954.2 691.7L957.6 684.9L961.2 678.1L964.9 671.4L968.7 665.0L972.5 659.1L975.7 654.2L979.2 649.5L983.4 644.0L988.2 638.2L993.1 632.4L998.3 626.7L1003.5 621.2L1008.8 616.0L1014.1 611.1L1019.2 606.6L1024.1 602.6L1028.9 599.1L1033.3 596.2L1037.4 593.8L1041.2 592.1L1044.4 590.9L1047.2 590.4L1049.5 590.4Z" fill="#f2300e" />
<path d="M1037.8 609.8L1038.5 610.7L1039.0 612.2L1039.3 614.3L1039.2 616.8L1038.8 619.9L1038.1 623.4L1037.1 627.2L1035.7 631.4L1034.0 635.9L1032.1 640.7L1029.9 645.6L1027.5 650.7L1024.9 655.8L1022.1 661.0L1019.2 666.0L1016.3 670.8L1013.5 675.3L1011.0 679.0L1008.4 682.5L1005.2 686.8L1001.6 691.1L997.9 695.6L994.0 699.9L990.1 704.1L986.2 708.1L982.3 711.9L978.5 715.3L974.8 718.4L971.3 721.1L968.0 723.4L965.0 725.3L962.3 726.7L959.9 727.7L957.9 728.1L956.3 728.1L955.2 727.8L954.5 726.9L954.0 725.4L953.7 723.3L953.8 720.8L954.2 717.7L954.9 714.2L955.9 710.4L957.3 706.2L959.0 701.7L960.9 696.9L963.1 692.0L965.5 686.9L968.1 681.8L970.9 676.6L973.8 671.6L976.7 666.8L979.5 662.3L982.0 658.6L984.6 655.1L987.8 650.8L991.4 646.5L995.1 642.0L999.0 637.7L1002.9 633.5L1006.8 629.5L1010.7 625.7L1014.5 622.3L1018.2 619.2L1021.7 616.5L1025.0 614.2L1028.0 612.3L1030.7 610.9L1033.1 609.9L1035.1 609.5L1036.7 609.5Z" fill="#c21408" />
<path d="M1022.9 631.1L1023.3 631.6L1023.5 632.6L1023.6 633.8L1023.5 635.4L1023.1 637.3L1022.6 639.4L1021.9 641.8L1020.9 644.5L1019.8 647.3L1018.5 650.3L1017.0 653.4L1015.4 656.6L1013.7 659.9L1011.9 663.1L1010.0 666.3L1008.1 669.4L1006.3 672.2L1004.7 674.6L1003.1 676.8L1001.0 679.5L998.8 682.4L996.4 685.2L994.0 688.0L991.5 690.7L989.1 693.3L986.6 695.8L984.3 698.0L982.0 700.1L979.8 701.8L977.8 703.4L976.0 704.6L974.3 705.6L972.9 706.2L971.7 706.6L970.7 706.7L970.1 706.5L969.7 706.0L969.5 705.0L969.4 703.8L969.5 702.2L969.9 700.3L970.4 698.2L971.1 695.8L972.1 693.1L973.2 690.3L974.5 687.3L976.0 684.2L977.6 681.0L979.3 677.7L981.1 674.5L983.0 671.3L984.9 668.2L986.7 665.4L988.3 663.0L989.9 660.8L992.0 658.1L994.2 655.2L996.6 652.4L999.0 649.6L1001.5 646.9L1003.9 644.3L1006.4 641.8L1008.7 639.6L1011.0 637.5L1013.2 635.8L1015.2 634.2L1017.0 633.0L1018.7 632.0L1020.1 631.4L1021.3 631.0L1022.3 630.9Z" fill="#8e0c0a" />
</g>
</g>
<path d="M825.4 921.8C827.3 916.6 838.2 903.5 846.6 891.8C855.1 880.1 866.1 866.8 875.9 851.6C885.6 836.3 897.2 816.2 905.1 800.4C913.1 784.6 918.5 770.5 923.4 756.5C928.3 742.5 930.9 730.3 934.4 716.3C937.9 702.3 941.7 686.5 944.6 672.5C947.5 658.4 949.7 642.9 951.9 632.2C954.2 621.6 955.3 614.1 958.1 608.5C961.0 602.9 964.5 600.4 969.1 598.6C973.7 596.8 980.4 596.2 985.6 597.9C990.7 599.6 995.0 608.0 1000.2 608.8C1005.4 609.7 1010.8 606.7 1016.6 603.0C1022.4 599.3 1027.9 594.5 1034.9 586.5C1041.9 578.6 1048.6 569.2 1058.7 555.5C1068.7 541.8 1083.0 520.9 1095.2 504.3C1107.4 487.7 1121.4 468.8 1131.8 456.0C1142.1 443.2 1150.6 433.6 1157.4 427.5C1164.2 421.4 1174.3 415.2 1172.7 419.5C1171.2 423.7 1155.1 442.9 1148.2 453.1C1141.4 463.3 1138.8 468.3 1131.8 480.5C1124.8 492.7 1114.0 512.5 1106.2 526.2C1098.4 539.9 1091.0 551.2 1085.0 562.8C1079.0 574.4 1074.6 584.1 1070.4 595.7C1066.1 607.3 1063.1 620.1 1059.4 632.2C1055.8 644.4 1051.0 657.2 1048.4 668.8C1045.9 680.4 1046.0 691.9 1044.1 701.7C1042.1 711.4 1039.8 720.0 1036.7 727.3C1033.7 734.6 1029.9 742.4 1025.8 745.6C1021.6 748.7 1016.8 747.8 1011.9 746.3C1007.0 744.8 1001.5 737.5 996.5 736.4C991.5 735.4 987.4 737.2 981.9 740.1C976.4 742.9 969.1 748.3 963.6 753.6C958.1 758.9 954.5 764.0 949.0 771.9C943.5 779.8 938.0 790.2 930.7 801.1C923.4 812.1 914.3 825.5 905.1 837.7C896.0 849.9 885.5 862.7 875.9 874.2C866.3 885.8 854.1 899.1 847.4 907.1C840.7 915.2 839.3 920.1 835.7 922.5C832.0 924.9 823.6 926.9 825.4 921.8Z" fill="none" stroke="#1432dc" stroke-width="3" filter="url(#b0)"/>
<path d="M820 912h0M825 919h0M830 925h0M1157 431h0M1165 426h0M1152 438h0M980 570h0M984 563h0M976 579h0M973 588h0M1018 749h0M1015 760h0M1011 769h0" stroke="#1432dc" stroke-width="6" stroke-linecap="round" fill="none" opacity="0.85"/>
</g>
<clipPath id="c2"><rect x="1411" y="401" width="686.4" height="540.7"/></clipPath><g clip-path="url(#c2)">
<g filter="url(#rg)" fill="none" stroke="#1432dc" stroke-linecap="round" stroke-linejoin="round">
<path d="M1893.6 525.1L1916.8 520.5L1944.5 521.2L1967.7 525.8L1982.8 533.7" stroke-width="28"/><path d="M1982.8 533.7L1978.1 547.1L1963.1 556.4L1953.8 574.9L1939.9 600.4L1924.9 615.4" stroke-width="11" stroke-dasharray="14 5"/>
<path d="M1875.1 556.4L1879.7 584.2L1884.3 607.3L1879.7 630.5L1863.5 658.3L1842.7 683.8L1819.5 702.3L1791.7 709.2" stroke-width="12" stroke-dasharray="16 6"/>
<path d="M1629.7 813.4L1601.9 822.2L1569.5 820.8L1544.0 813.4L1528.9 803.0" stroke-width="32"/><path d="M1528.9 803.0L1533.6 789.1L1548.6 768.3L1574.1 734.7L1604.2 706.9L1629.7 683.8L1662.1 657.1L1687.5 642.1L1708.4 632.8" stroke-width="12" stroke-dasharray="15 6"/>
<path d="M1638.9 778.7L1620.4 785.6L1604.2 778.7L1601.9 757.8L1615.8 734.7L1643.6 711.5" stroke-width="11" stroke-dasharray="14 6"/>
</g>
<path d="M1594 735h0M1582 796h0M1605 812h0M1599 739h0M1644 693h0M1631 725h0M1568 794h0M1554 764h0M1606 736h0M1611 743h0M1569 764h0M1624 779h0M1561 763h0M1593 802h0M1616 725h0M1645 703h0M1581 787h0M1620 762h0M1633 728h0M1612 765h0M1599 747h0M1587 774h0M1540 779h0M1627 725h0M1577 775h0M1540 788h0M1578 802h0M1596 803h0M1574 803h0M1642 707h0M1600 722h0M1575 762h0M1592 768h0M1578 740h0M1586 751h0M1627 708h0M1631 779h0M1552 789h0M1594 790h0M1626 784h0M1559 755h0M1563 778h0M1604 806h0M1629 750h0M1608 792h0M1619 750h0M1554 791h0M1571 792h0M1579 812h0M1616 709h0M1550 796h0M1573 759h0M1593 810h0M1583 802h0M1627 715h0M1561 764h0M1548 807h0M1574 747h0M1600 806h0M1581 808h0M1590 757h0M1616 760h0M1570 755h0M1596 790h0M1621 754h0M1597 787h0M1637 745h0M1603 754h0M1592 778h0M1585 757h0M1588 811h0M1613 802h0M1640 721h0M1597 811h0M1629 705h0M1551 781h0M1558 812h0M1579 751h0M1592 732h0M1596 745h0M1604 754h0M1538 790h0M1581 807h0M1626 721h0M1550 808h0M1598 779h0M1612 743h0M1605 793h0M1543 800h0M1541 801h0M1585 732h0M1596 809h0M1620 725h0M1617 760h0M1639 701h0M1626 744h0M1590 797h0M1578 754h0M1572 797h0M1614 771h0M1579 733h0M1542 785h0M1543 798h0M1632 775h0M1567 748h0M1563 814h0M1561 814h0M1587 753h0M1600 757h0M1619 774h0M1615 803h0M1616 772h0M1538 797h0M1617 794h0M1591 797h0M1625 796h0M1600 805h0M1611 778h0M1545 797h0M1597 770h0M1605 777h0M1624 786h0M1591 758h0M1617 720h0M1616 714h0M1590 737h0M1588 777h0M1620 768h0M1618 727h0M1610 778h0M1940 554h0M1924 570h0M1920 537h0M1962 545h0M1875 570h0M1918 552h0M1894 581h0M1888 576h0M1968 539h0M1954 575h0M1896 612h0M1921 529h0M1918 555h0M1887 559h0M1905 606h0M1956 538h0M1962 554h0M1910 564h0M1909 567h0M1902 615h0M1898 551h0M1924 544h0M1910 617h0M1945 531h0M1946 569h0M1965 538h0M1920 559h0M1903 596h0M1938 555h0M1929 564h0M1890 542h0M1894 612h0M1923 547h0M1918 539h0M1907 535h0M1897 551h0M1948 565h0M1914 576h0M1911 558h0M1923 586h0M1959 547h0M1900 550h0M1913 569h0M1912 614h0M1925 591h0M1919 579h0M1896 614h0M1937 555h0M1886 550h0M1936 593h0M1925 582h0M1912 547h0M1903 570h0M1897 550h0M1923 590h0M1915 551h0M1907 566h0M1941 545h0M1923 546h0M1954 548h0M1895 599h0M1903 617h0M1922 544h0M1896 566h0M1888 564h0M1879 564h0M1965 558h0M1939 562h0M1910 558h0M1901 560h0M1969 546h0M1909 604h0M1955 567h0M1878 571h0M1910 614h0M1893 561h0M1914 603h0M1949 530h0M1964 551h0M1907 552h0M1899 594h0M1905 552h0M1897 571h0M1912 550h0M1916 573h0" stroke="#1432dc" stroke-width="7.5" stroke-linecap="round" fill="none" opacity="0.9"/>
<path d="M1639 711h0M1624 784h0M1627 789h0M1602 730h0M1556 786h0M1570 816h0M1614 746h0M1604 776h0M1618 799h0M1629 726h0M1598 736h0M1617 713h0M1551 803h0M1599 730h0M1625 773h0M1587 795h0M1639 736h0M1632 746h0M1563 789h0M1641 701h0M1601 769h0M1562 766h0M1607 714h0M1610 711h0M1624 759h0M1578 759h0M1552 779h0M1568 813h0M1569 762h0M1574 742h0M1616 714h0M1582 795h0M1580 803h0M1606 807h0M1576 753h0M1593 809h0M1638 738h0M1627 708h0M1623 716h0M1579 798h0M1628 711h0M1592 738h0M1616 805h0M1629 703h0M1601 759h0M1605 727h0M1581 764h0M1582 774h0M1584 745h0M1620 790h0M1617 789h0M1591 737h0M1641 705h0M1617 794h0M1589 813h0M1637 709h0M1619 708h0M1635 723h0M1626 706h0M1590 808h0M1894 551h0M1923 557h0M1890 601h0M1885 577h0M1936 560h0M1936 564h0M1952 551h0M1909 599h0M1917 543h0M1947 531h0M1954 550h0M1931 589h0M1934 567h0M1887 548h0M1884 560h0M1896 582h0M1932 546h0M1935 571h0M1898 540h0M1883 587h0M1913 551h0M1929 560h0M1937 568h0M1898 612h0M1878 577h0M1914 549h0M1966 540h0M1893 584h0M1924 587h0M1954 543h0M1904 555h0M1947 570h0M1947 569h0M1896 536h0M1907 597h0M1944 552h0M1928 568h0M1951 576h0M1900 587h0M1969 547h0" stroke="#4a4ae8" stroke-width="6" stroke-linecap="round" fill="none" opacity="0.55"/>
<path d="M1949 599h0M1938 497h0M1944 594h0M1958 545h0M1959 542h0M1909 616h0M1964 559h0M1948 568h0M1932 518h0M1939 605h0M1922 517h0M1924 521h0M1948 555h0M1966 579h0M1971 508h0M1958 609h0M1941 602h0M1935 523h0M1949 580h0M1940 583h0M1926 531h0M1929 530h0M1897 532h0M1950 577h0M1910 610h0M1976 557h0M1978 521h0M1950 567h0M1958 606h0M1933 521h0M1953 578h0M1964 538h0M1920 521h0M1944 614h0M1952 537h0M1992 548h0M1913 507h0M1943 576h0M1954 540h0M1912 520h0M1932 542h0M1966 553h0M1927 524h0M1953 563h0M1958 530h0M1936 578h0M1910 527h0M1980 559h0M1941 606h0M1946 504h0M1927 527h0M1951 523h0M1967 549h0M1976 588h0M1892 540h0M1948 573h0M1928 517h0M1931 523h0M1974 512h0M1973 531h0M1913 514h0M1963 569h0M1973 540h0M1934 501h0M1945 562h0M1952 556h0M1951 520h0M1977 513h0M1964 566h0M1972 525h0M1965 561h0M1963 550h0M1984 537h0M1987 562h0M1928 607h0M1958 546h0M1968 527h0M1959 556h0M1930 512h0M1973 599h0M1970 528h0M1981 528h0M1971 520h0M1947 538h0M1926 606h0M1943 589h0M1921 503h0M1951 559h0M1946 519h0M1971 540h0M1979 545h0M1922 512h0M1943 603h0M1937 524h0M1893 517h0M1937 532h0M1966 519h0M1981 516h0M1915 504h0M1962 597h0M1965 556h0M1927 603h0M1918 527h0M1947 586h0M1940 596h0M1926 589h0M1974 551h0M1950 606h0M1978 534h0M1933 596h0M1946 530h0M1899 524h0M1969 537h0M1962 596h0M1968 528h0M1937 599h0M1943 617h0M1977 559h0M1967 561h0M1916 612h0M1955 605h0M1954 572h0M1952 527h0M1954 590h0M1957 523h0M1955 513h0M1979 551h0M1918 597h0M1954 531h0M1960 538h0M1898 503h0M1986 550h0M1903 546h0M1958 539h0M1927 594h0M1960 543h0M1963 579h0M1981 528h0M1945 525h0M1931 596h0M1949 576h0M1940 531h0M1942 529h0M1946 611h0M1915 536h0M1983 545h0M1886 533h0M1945 605h0M1984 537h0M1936 522h0M1626 809h0M1716 649h0M1602 823h0M1544 807h0M1615 802h0M1662 652h0M1598 698h0M1686 671h0M1626 689h0M1609 700h0M1530 792h0M1660 656h0M1529 775h0M1626 714h0M1529 769h0M1536 778h0M1693 627h0M1558 815h0M1625 683h0M1615 713h0M1590 727h0M1661 663h0M1610 704h0M1541 806h0M1534 754h0M1693 656h0M1660 656h0M1548 792h0M1624 691h0M1582 816h0M1560 792h0M1535 804h0M1563 760h0M1637 669h0M1606 804h0M1528 803h0M1659 650h0M1593 726h0M1563 810h0M1573 733h0M1614 832h0M1553 788h0M1652 685h0M1533 787h0M1640 816h0M1558 743h0M1618 686h0M1650 651h0M1549 813h0M1569 822h0M1591 718h0M1694 638h0M1588 721h0M1694 653h0M1620 703h0M1539 775h0M1705 637h0M1616 828h0M1694 636h0M1617 802h0M1609 705h0M1580 795h0M1609 712h0M1643 685h0M1550 820h0M1571 827h0M1631 699h0M1586 824h0M1573 807h0M1680 660h0M1615 813h0M1591 713h0M1638 666h0M1581 825h0M1618 687h0M1666 665h0M1572 842h0M1540 801h0M1536 793h0M1723 644h0M1614 712h0M1532 813h0M1578 779h0M1691 649h0M1692 656h0M1532 803h0M1646 673h0M1636 802h0M1542 829h0M1548 814h0M1569 803h0M1565 821h0M1587 715h0M1545 806h0M1644 663h0M1606 809h0M1644 694h0M1545 771h0M1591 747h0M1569 743h0M1570 810h0M1562 832h0M1616 812h0M1584 750h0M1658 658h0M1609 702h0M1628 800h0M1554 743h0M1605 736h0M1554 820h0M1544 810h0M1594 815h0M1612 807h0M1572 731h0M1666 651h0M1574 822h0M1542 814h0M1564 809h0M1562 813h0M1584 798h0M1526 784h0M1553 751h0M1636 682h0M1505 802h0M1666 658h0M1673 663h0M1702 636h0M1544 757h0M1586 739h0M1575 742h0M1703 612h0M1610 688h0M1687 655h0M1534 801h0M1592 724h0M1531 811h0M1690 649h0M1617 715h0M1685 638h0M1555 751h0M1593 828h0M1546 777h0M1579 816h0M1582 708h0M1556 806h0M1570 721h0M1531 806h0M1560 749h0M1612 832h0M1534 810h0M1542 805h0M1642 679h0M1664 655h0M1527 781h0M1596 849h0M1636 692h0M1530 771h0M1667 646h0M1629 665h0M1567 733h0M1696 662h0M1630 799h0M1582 740h0M1555 744h0M1587 723h0M1558 745h0M1535 770h0M1537 774h0M1562 745h0M1539 812h0M1610 734h0M1544 776h0M1698 650h0M1683 647h0M1559 726h0M1602 666h0M1555 736h0M1535 786h0M1552 780h0M1582 741h0M1534 765h0M1682 650h0M1529 734h0M1515 784h0M1557 849h0M1649 663h0M1667 631h0M1714 627h0M1572 834h0M1572 747h0M1593 703h0M1704 631h0M1551 758h0M1627 695h0M1645 651h0M1547 819h0M1530 798h0M1697 628h0M1598 837h0M1598 826h0M1580 722h0M1651 669h0M1631 692h0M1541 792h0M1607 814h0M1526 789h0M1622 810h0M1681 644h0M1567 820h0M1653 679h0M1647 680h0M1668 639h0M1531 825h0M1544 837h0M1567 739h0M1564 826h0M1695 651h0M1579 819h0M1553 772h0M1649 670h0M1561 827h0M1613 809h0M1574 816h0M1540 804h0M1566 741h0M1563 835h0M1549 776h0M1684 640h0M1570 768h0M1551 802h0M1880 641h0M1886 595h0M1859 652h0M1823 701h0M1857 671h0M1886 589h0M1880 615h0M1854 670h0M1890 618h0M1893 611h0M1867 623h0M1845 680h0M1879 584h0M1842 672h0M1869 624h0M1889 598h0M1854 676h0M1807 691h0M1882 566h0M1879 604h0M1872 576h0M1887 582h0M1841 695h0M1845 681h0M1824 692h0M1884 555h0M1877 570h0M1834 714h0M1848 696h0M1878 616h0M1902 623h0M1888 632h0M1844 677h0M1885 648h0M1854 637h0M1879 579h0M1846 677h0M1875 657h0M1863 662h0M1875 629h0M1892 628h0M1848 685h0M1846 661h0M1875 643h0M1872 581h0M1811 693h0M1875 579h0M1873 628h0M1877 587h0M1889 600h0M1879 586h0M1874 588h0M1882 630h0M1890 558h0M1873 548h0M1869 668h0M1878 650h0M1887 552h0M1865 666h0M1884 610h0M1879 545h0M1888 626h0M1826 699h0M1838 680h0M1888 636h0M1874 627h0M1883 623h0M1865 559h0M1820 679h0M1792 707h0M1877 599h0M1876 567h0M1877 641h0M1871 566h0M1857 686h0M1822 693h0M1878 603h0M1870 646h0M1857 660h0M1878 598h0M1857 667h0M1873 582h0M1812 698h0M1809 705h0M1839 702h0M1852 680h0M1788 709h0M1872 630h0M1881 574h0M1884 649h0M1872 625h0M1856 653h0M1887 596h0M1876 671h0M1893 612h0M1873 606h0M1879 599h0M1863 652h0M1886 640h0M1805 698h0M1856 708h0M1854 696h0M1889 653h0M1862 657h0M1838 695h0M1892 630h0M1878 612h0M1885 630h0M1798 695h0M1824 716h0M1882 610h0M1830 705h0M1852 683h0M1873 562h0M1864 655h0M1803 699h0M1865 600h0M1860 666h0M1880 573h0M1858 674h0M1615 784h0M1599 737h0M1647 716h0M1603 785h0M1630 728h0M1623 718h0M1611 773h0M1612 759h0M1627 787h0M1631 718h0M1613 793h0M1602 753h0M1631 775h0M1611 786h0M1642 791h0M1607 791h0M1599 776h0M1642 715h0M1609 731h0M1614 720h0M1600 788h0M1644 716h0M1606 764h0M1598 749h0M1604 752h0M1592 799h0M1597 763h0M1610 786h0M1645 772h0M1595 759h0M1627 788h0M1603 767h0M1627 734h0M1613 750h0M1617 747h0M1606 737h0M1612 783h0M1608 782h0M1619 800h0M1609 787h0M1618 735h0M1614 761h0M1624 753h0M1629 725h0M1600 780h0M1617 738h0M1604 763h0M1599 760h0M1630 783h0M1606 752h0M1609 756h0M1648 774h0M1654 717h0M1616 737h0M1631 797h0M1632 774h0M1596 746h0M1606 735h0M1619 746h0M1623 722h0M1632 728h0M1586 777h0M1634 785h0M1614 731h0M1645 727h0M1633 783h0M1621 781h0M1626 782h0M1628 798h0M1637 720h0" stroke="#1432dc" stroke-width="7" stroke-linecap="round" fill="none" opacity="0.9"/>
<path d="M1953 629h0M1971 527h0M1934 589h0M1960 619h0M1896 509h0M1963 604h0M2008 508h0M1967 568h0M1933 526h0M1934 497h0M1963 522h0M1993 578h0M1939 625h0M1943 604h0M1990 530h0M1944 554h0M1981 543h0M1922 622h0M1956 627h0M1924 618h0M1917 521h0M1953 626h0M1925 544h0M1891 554h0M1991 538h0M1903 554h0M1978 571h0M1931 524h0M1912 524h0M1955 612h0M1910 525h0M1975 587h0M1993 549h0M1995 530h0M1970 514h0M1953 584h0M1949 523h0M1962 552h0M1989 527h0M1941 554h0M1993 562h0M1944 580h0M1990 526h0M1960 531h0M1948 616h0M1934 629h0M1967 537h0M1932 496h0M1962 611h0M1943 506h0M1955 523h0M1966 559h0M1983 552h0M1963 539h0M1940 583h0M1960 541h0M1953 552h0M1963 591h0M1979 514h0M1984 544h0M1915 602h0M1984 532h0M1935 504h0M1979 525h0M1958 601h0M1949 582h0M1923 529h0M1969 505h0M1994 541h0M1919 598h0M1572 721h0M1570 806h0M1574 753h0M1532 791h0M1554 815h0M1564 807h0M1534 826h0M1576 797h0M1532 832h0M1595 716h0M1538 779h0M1509 817h0M1640 680h0M1598 717h0M1695 621h0M1608 707h0M1620 694h0M1591 727h0M1605 806h0M1569 738h0M1577 738h0M1535 742h0M1611 683h0M1607 798h0M1640 668h0M1580 831h0M1619 837h0M1608 734h0M1617 691h0M1598 706h0M1722 602h0M1568 839h0M1641 813h0M1534 822h0M1645 649h0M1565 770h0M1677 623h0M1542 816h0M1563 746h0M1552 737h0M1659 705h0M1596 732h0M1557 745h0M1528 824h0M1523 774h0M1553 730h0M1561 754h0M1550 757h0M1685 666h0M1586 810h0M1622 670h0M1610 710h0M1681 691h0M1563 822h0M1660 668h0M1607 740h0M1619 701h0M1650 702h0M1532 826h0M1522 792h0M1665 676h0M1591 776h0M1561 777h0M1608 728h0M1571 828h0M1549 755h0M1683 690h0M1726 626h0M1514 827h0M1574 740h0M1580 729h0M1586 736h0M1562 788h0M1554 813h0M1608 714h0M1687 636h0M1521 795h0M1644 710h0M1549 812h0M1568 812h0M1588 719h0M1591 753h0M1570 814h0M1536 770h0M1584 815h0M1672 646h0M1607 841h0M1568 822h0M1579 824h0M1560 732h0M1551 825h0M1588 856h0M1571 740h0M1660 643h0M1581 713h0M1641 692h0M1603 830h0M1536 799h0M1590 745h0M1641 667h0M1849 579h0M1859 549h0M1811 720h0M1873 644h0M1790 714h0M1879 598h0M1854 691h0M1883 594h0M1933 613h0M1812 697h0M1852 679h0M1858 693h0M1823 695h0M1836 692h0M1787 686h0M1896 552h0M1809 676h0M1814 687h0M1831 669h0M1901 610h0M1832 733h0M1830 722h0M1889 618h0M1851 604h0M1842 666h0M1837 671h0M1810 693h0M1862 550h0M1858 607h0M1847 695h0M1897 577h0M1863 627h0M1885 636h0M1812 692h0M1875 597h0M1859 618h0M1877 576h0M1829 709h0M1793 715h0M1789 684h0M1841 633h0M1877 652h0M1833 715h0M1891 589h0M1876 633h0M1896 637h0M1804 701h0M1823 692h0M1866 560h0M1786 724h0M1673 689h0M1610 768h0M1825 565h0M1640 861h0M1932 543h0M1674 664h0M1621 798h0M1841 532h0M1745 652h0M1742 694h0M1922 486h0M1854 629h0M1723 677h0M1660 792h0M1689 680h0M1737 630h0M1652 729h0M1879 543h0M1762 577h0M1624 859h0M1679 644h0M1758 686h0M1577 762h0M1752 613h0M1847 629h0M1781 614h0M1732 645h0M1748 679h0M1750 711h0M1969 451h0M1803 659h0M1803 605h0M1734 725h0M1820 628h0M1696 739h0M1818 595h0M1863 676h0M1600 818h0M1614 707h0M1745 694h0M1728 622h0M1610 751h0M1733 634h0M1662 824h0M1674 718h0M1689 684h0M1748 648h0M1778 579h0M1668 829h0M1764 688h0M1871 588h0M1717 611h0M1634 809h0M1826 626h0M1551 721h0M1629 704h0M1741 618h0M1877 523h0M1723 728h0M1759 609h0" stroke="#3a3ae6" stroke-width="6" stroke-linecap="round" fill="none" opacity="0.5"/>
<path d="M1902 642h0M1600 745h0M1558 661h0M1839 610h0M1868 566h0M1520 827h0M1630 654h0M1648 775h0M1779 748h0M1732 518h0M1888 607h0M1707 587h0M1897 421h0M1670 570h0M1546 688h0M1907 586h0M1653 622h0M1751 661h0M1534 736h0M1758 678h0M1769 651h0M1519 655h0M1748 573h0M1718 636h0M1772 563h0M1908 505h0M1826 616h0M1875 559h0M1527 779h0M1970 484h0M1824 606h0M1650 672h0M1712 749h0M1847 679h0M1866 671h0M1756 548h0M1952 490h0M1886 536h0M1714 678h0M1577 697h0M1627 702h0M1589 764h0M1850 695h0M1951 464h0M1837 547h0M1788 602h0M1687 694h0M1593 798h0M1675 623h0M1724 697h0M1685 724h0M1864 651h0M1618 738h0M1855 654h0M1801 646h0M1559 755h0M1923 470h0M1964 404h0M1658 600h0M1826 591h0" stroke="#6a6af0" stroke-width="6" stroke-linecap="round" fill="none" opacity="0.45"/>
<g filter="url(#b1)" fill="none" stroke="#46cfe6" stroke-linecap="round" stroke-linejoin="round" opacity=".75"><path d="M1902.9 526.3L1923.7 526.3L1946.9 531.4" stroke-width="7"/><path d="M1548.6 813.4L1574.1 820.4L1604.2 818.5" stroke-width="8"/></g>
<g filter="url(#b1)">
<clipPath id="c2b"><path d="M1625.0 742.8C1625.8 736.0 1636.6 724.5 1643.6 716.2C1650.5 707.9 1658.6 701.0 1666.7 693.0C1674.8 685.0 1683.3 675.3 1692.2 668.0C1701.0 660.8 1710.3 655.3 1720.0 649.5C1729.6 643.6 1741.2 638.3 1750.1 632.8C1758.9 627.3 1765.5 622.8 1773.2 616.6C1780.9 610.4 1788.6 603.0 1796.4 595.8C1804.1 588.5 1811.8 580.3 1819.5 573.1C1827.2 565.8 1835.0 558.8 1842.7 552.2C1850.4 545.7 1858.1 539.1 1865.8 533.7C1873.5 528.3 1881.6 523.0 1889.0 519.8C1896.3 516.7 1906.7 513.1 1909.8 514.7C1912.9 516.4 1911.7 524.4 1907.5 529.8C1903.3 535.2 1890.3 541.9 1884.3 547.1C1878.4 552.4 1874.1 554.9 1871.6 561.0C1869.1 567.2 1870.3 576.1 1869.3 584.2C1868.3 592.3 1867.9 601.6 1865.8 609.7C1863.7 617.8 1860.4 625.8 1856.6 632.8C1852.7 639.8 1848.1 645.2 1842.7 651.8C1837.3 658.4 1831.1 666.1 1824.1 672.2C1817.2 678.3 1807.9 684.4 1801.0 688.4C1794.0 692.3 1789.0 692.6 1782.5 695.8C1775.9 699.0 1768.6 702.7 1761.6 707.4C1754.7 712.0 1747.7 718.2 1740.8 723.6C1733.9 729.0 1726.9 734.1 1720.0 739.8C1713.0 745.5 1705.7 752.1 1699.1 757.8C1692.6 763.6 1686.8 769.0 1680.6 774.0C1674.4 779.1 1668.2 783.3 1662.1 788.4C1655.9 793.5 1649.0 800.4 1643.6 804.6C1638.1 808.9 1634.1 811.9 1629.7 813.9C1625.2 815.8 1618.1 817.8 1616.9 816.2C1615.8 814.6 1618.7 810.0 1622.7 804.1C1626.8 798.3 1637.6 786.8 1641.2 781.0C1644.9 775.2 1645.1 773.5 1644.7 769.4C1644.3 765.4 1642.2 761.1 1638.9 756.7C1635.6 752.2 1624.3 749.5 1625.0 742.8Z"/></clipPath>
<path d="M1625.0 742.8C1625.8 736.0 1636.6 724.5 1643.6 716.2C1650.5 707.9 1658.6 701.0 1666.7 693.0C1674.8 685.0 1683.3 675.3 1692.2 668.0C1701.0 660.8 1710.3 655.3 1720.0 649.5C1729.6 643.6 1741.2 638.3 1750.1 632.8C1758.9 627.3 1765.5 622.8 1773.2 616.6C1780.9 610.4 1788.6 603.0 1796.4 595.8C1804.1 588.5 1811.8 580.3 1819.5 573.1C1827.2 565.8 1835.0 558.8 1842.7 552.2C1850.4 545.7 1858.1 539.1 1865.8 533.7C1873.5 528.3 1881.6 523.0 1889.0 519.8C1896.3 516.7 1906.7 513.1 1909.8 514.7C1912.9 516.4 1911.7 524.4 1907.5 529.8C1903.3 535.2 1890.3 541.9 1884.3 547.1C1878.4 552.4 1874.1 554.9 1871.6 561.0C1869.1 567.2 1870.3 576.1 1869.3 584.2C1868.3 592.3 1867.9 601.6 1865.8 609.7C1863.7 617.8 1860.4 625.8 1856.6 632.8C1852.7 639.8 1848.1 645.2 1842.7 651.8C1837.3 658.4 1831.1 666.1 1824.1 672.2C1817.2 678.3 1807.9 684.4 1801.0 688.4C1794.0 692.3 1789.0 692.6 1782.5 695.8C1775.9 699.0 1768.6 702.7 1761.6 707.4C1754.7 712.0 1747.7 718.2 1740.8 723.6C1733.9 729.0 1726.9 734.1 1720.0 739.8C1713.0 745.5 1705.7 752.1 1699.1 757.8C1692.6 763.6 1686.8 769.0 1680.6 774.0C1674.4 779.1 1668.2 783.3 1662.1 788.4C1655.9 793.5 1649.0 800.4 1643.6 804.6C1638.1 808.9 1634.1 811.9 1629.7 813.9C1625.2 815.8 1618.1 817.8 1616.9 816.2C1615.8 814.6 1618.7 810.0 1622.7 804.1C1626.8 798.3 1637.6 786.8 1641.2 781.0C1644.9 775.2 1645.1 773.5 1644.7 769.4C1644.3 765.4 1642.2 761.1 1638.9 756.7C1635.6 752.2 1624.3 749.5 1625.0 742.8Z" fill="#70eaa8" stroke="#1432dc" stroke-width="5"/>
<g clip-path="url(#c2b)">
<path d="M1652.8 774.0C1650.5 769.4 1655.9 751.3 1659.8 741.6C1663.6 732.0 1669.4 725.0 1676.0 716.2C1682.5 707.3 1690.6 696.9 1699.1 688.4C1707.6 679.9 1717.6 672.2 1726.9 665.2C1736.2 658.3 1745.4 652.9 1754.7 646.7C1763.9 640.5 1774.0 634.7 1782.5 628.2C1791.0 621.6 1797.9 614.7 1805.6 607.3C1813.3 600.0 1821.8 590.0 1828.8 584.2C1835.7 578.4 1842.7 571.8 1847.3 572.6C1851.9 573.4 1855.8 581.1 1856.6 588.8C1857.3 596.5 1855.8 609.3 1851.9 618.9C1848.1 628.6 1840.4 638.2 1833.4 646.7C1826.5 655.2 1818.7 663.3 1810.3 669.9C1801.8 676.4 1791.0 681.0 1782.5 686.1C1774.0 691.1 1767.0 694.6 1759.3 700.0C1751.6 705.4 1743.5 712.7 1736.2 718.5C1728.8 724.3 1722.3 728.9 1715.3 734.7C1708.4 740.5 1701.4 747.4 1694.5 753.2C1687.5 759.0 1680.6 765.9 1673.7 769.4C1666.7 772.9 1655.1 778.7 1652.8 774.0Z" fill="#a4f268" stroke="#84ee8c" stroke-width="6"/>
<ellipse cx="1754.2" cy="672.6" rx="130.0" ry="42.0" transform="rotate(-36 1754.2 672.6)" fill="#c6f23e" />
<ellipse cx="1754.2" cy="672.6" rx="110.0" ry="34.8" transform="rotate(-36 1754.2 672.6)" fill="#f8e61e" />
<ellipse cx="1754.2" cy="672.6" rx="100.0" ry="29.0" transform="rotate(-36 1754.2 672.6)" fill="#ff8a14" />
<ellipse cx="1754.2" cy="672.6" rx="94.0" ry="25.5" transform="rotate(-36 1754.2 672.6)" fill="#f2300e" />
<ellipse cx="1754.2" cy="672.6" rx="60.0" ry="14.5" transform="rotate(-36 1754.2 672.6)" fill="#c21408" />
<ellipse cx="1754.2" cy="672.6" rx="36.0" ry="8.1" transform="rotate(-36 1754.2 672.6)" fill="#8e0c0a" />
</g>
<path d="M1625.0 742.8C1625.8 736.0 1636.6 724.5 1643.6 716.2C1650.5 707.9 1658.6 701.0 1666.7 693.0C1674.8 685.0 1683.3 675.3 1692.2 668.0C1701.0 660.8 1710.3 655.3 1720.0 649.5C1729.6 643.6 1741.2 638.3 1750.1 632.8C1758.9 627.3 1765.5 622.8 1773.2 616.6C1780.9 610.4 1788.6 603.0 1796.4 595.8C1804.1 588.5 1811.8 580.3 1819.5 573.1C1827.2 565.8 1835.0 558.8 1842.7 552.2C1850.4 545.7 1858.1 539.1 1865.8 533.7C1873.5 528.3 1881.6 523.0 1889.0 519.8C1896.3 516.7 1906.7 513.1 1909.8 514.7C1912.9 516.4 1911.7 524.4 1907.5 529.8C1903.3 535.2 1890.3 541.9 1884.3 547.1C1878.4 552.4 1874.1 554.9 1871.6 561.0C1869.1 567.2 1870.3 576.1 1869.3 584.2C1868.3 592.3 1867.9 601.6 1865.8 609.7C1863.7 617.8 1860.4 625.8 1856.6 632.8C1852.7 639.8 1848.1 645.2 1842.7 651.8C1837.3 658.4 1831.1 666.1 1824.1 672.2C1817.2 678.3 1807.9 684.4 1801.0 688.4C1794.0 692.3 1789.0 692.6 1782.5 695.8C1775.9 699.0 1768.6 702.7 1761.6 707.4C1754.7 712.0 1747.7 718.2 1740.8 723.6C1733.9 729.0 1726.9 734.1 1720.0 739.8C1713.0 745.5 1705.7 752.1 1699.1 757.8C1692.6 763.6 1686.8 769.0 1680.6 774.0C1674.4 779.1 1668.2 783.3 1662.1 788.4C1655.9 793.5 1649.0 800.4 1643.6 804.6C1638.1 808.9 1634.1 811.9 1629.7 813.9C1625.2 815.8 1618.1 817.8 1616.9 816.2C1615.8 814.6 1618.7 810.0 1622.7 804.1C1626.8 798.3 1637.6 786.8 1641.2 781.0C1644.9 775.2 1645.1 773.5 1644.7 769.4C1644.3 765.4 1642.2 761.1 1638.9 756.7C1635.6 752.2 1624.3 749.5 1625.0 742.8Z" fill="none" stroke="#1432dc" stroke-width="4"/>
</g>
</g>
<clipPath id="c3"><rect x="2167.5" y="401" width="685.0" height="540.7"/></clipPath><g clip-path="url(#c3)">
<path d="M2737 465h0M2426 641h0M2538 720h0M2639 644h0M2602 578h0M2430 884h0M2508 589h0M2676 626h0M2640 470h0M2315 881h0M2368 771h0M2560 682h0M2763 451h0M2348 639h0M2622 552h0M2457 643h0M2519 520h0M2594 694h0M2542 516h0M2583 537h0M2285 770h0M2356 831h0M2561 680h0M2578 561h0M2660 592h0M2381 825h0M2347 733h0M2406 787h0M2370 693h0M2578 722h0M2422 671h0M2731 595h0M2564 699h0M2485 549h0M2337 739h0M2697 469h0M2617 753h0M2600 703h0M2629 508h0M2570 583h0M2671 494h0M2654 666h0M2620 647h0M2707 568h0M2643 428h0M2728 463h0M2289 833h0M2353 821h0M2303 790h0M2542 511h0M2469 728h0M2640 530h0M2494 716h0M2404 617h0M2524 627h0M2471 760h0M2491 644h0M2405 671h0M2381 784h0M2411 827h0M2289 740h0M2416 619h0M2650 455h0M2346 687h0M2336 908h0M2710 652h0M2369 853h0M2541 709h0M2481 757h0M2663 509h0M2653 477h0M2478 637h0M2551 715h0M2593 599h0M2639 427h0M2479 823h0M2462 550h0M2499 586h0M2720 561h0M2500 785h0M2453 800h0M2568 604h0M2339 813h0M2231 895h0M2352 922h0M2538 815h0M2598 591h0M2601 660h0M2386 677h0M2437 607h0M2541 703h0M2688 521h0M2561 682h0M2652 508h0M2340 771h0M2333 770h0M2486 728h0M2664 499h0M2549 770h0M2511 749h0M2424 673h0M2587 566h0M2522 609h0M2575 494h0M2550 606h0M2384 703h0M2614 562h0M2383 708h0M2734 470h0M2441 835h0M2690 606h0M2546 713h0M2583 744h0M2523 735h0M2488 635h0M2455 775h0M2394 712h0M2334 710h0M2465 729h0M2355 853h0M2444 741h0M2567 703h0M2463 786h0M2620 525h0M2452 623h0M2528 624h0M2620 531h0M2538 693h0M2539 601h0M2599 544h0M2426 773h0M2612 687h0M2488 723h0M2632 544h0M2393 705h0M2640 559h0M2451 628h0M2569 708h0M2345 758h0M2690 612h0M2659 482h0M2546 576h0M2552 601h0M2585 707h0M2460 736h0M2638 672h0M2233 843h0M2407 841h0M2787 419h0M2568 706h0M2231 926h0M2523 611h0M2632 553h0M2496 758h0M2467 812h0M2621 575h0M2683 633h0M2662 525h0M2547 724h0M2322 804h0M2356 805h0M2540 691h0M2358 909h0M2325 714h0M2586 581h0M2601 554h0M2772 475h0M2519 727h0M2713 442h0M2413 813h0M2567 497h0M2393 705h0M2383 704h0M2502 515h0M2574 597h0M2760 509h0M2450 671h0M2556 703h0M2334 823h0M2703 544h0M2351 697h0M2638 553h0M2375 687h0M2680 471h0M2564 704h0M2575 594h0M2557 591h0M2461 642h0M2352 706h0M2559 686h0M2436 790h0M2664 572h0M2627 521h0M2451 827h0M2455 744h0M2455 572h0M2365 722h0M2637 678h0M2511 728h0M2526 558h0M2576 474h0M2651 544h0M2464 652h0M2644 652h0M2590 595h0M2556 754h0M2767 547h0M2567 608h0M2482 782h0M2497 759h0M2428 759h0M2343 745h0M2564 761h0M2459 647h0M2438 743h0M2616 524h0M2433 671h0M2464 659h0M2498 544h0M2662 584h0M2631 672h0M2507 539h0M2390 698h0M2545 722h0M2320 827h0M2697 515h0M2559 690h0M2352 728h0M2271 787h0M2569 680h0M2462 568h0M2502 612h0M2497 802h0M2672 553h0M2682 436h0M2443 748h0M2399 768h0M2432 650h0M2428 757h0M2498 766h0M2397 646h0M2457 786h0M2372 836h0M2741 427h0M2706 538h0M2482 613h0M2494 643h0M2622 648h0M2522 617h0M2657 650h0M2435 776h0M2564 751h0M2642 434h0M2350 853h0M2715 565h0M2490 742h0M2550 723h0M2541 585h0M2654 650h0M2492 732h0M2365 884h0M2564 539h0M2702 494h0M2268 797h0M2593 569h0M2568 494h0M2537 722h0M2462 770h0M2484 724h0M2631 729h0M2405 833h0M2607 489h0M2608 757h0M2416 628h0M2513 611h0M2523 622h0M2402 757h0M2520 595h0M2564 488h0M2538 614h0M2654 481h0M2385 687h0M2748 489h0M2378 772h0M2465 834h0M2475 546h0M2568 687h0M2504 621h0M2478 648h0M2409 788h0M2504 488h0M2504 783h0M2580 547h0M2617 490h0M2499 833h0M2291 804h0M2376 789h0M2352 907h0M2469 769h0M2659 495h0M2747 568h0M2666 544h0M2374 855h0M2294 858h0M2498 610h0M2606 709h0M2507 620h0M2425 785h0M2355 641h0M2570 678h0M2480 815h0M2610 668h0M2343 832h0M2652 534h0M2504 627h0M2601 529h0M2441 575h0M2415 902h0M2269 901h0M2244 915h0M2319 749h0M2400 828h0M2536 710h0M2415 809h0M2612 575h0M2405 641h0M2547 697h0M2264 804h0M2604 682h0M2409 636h0M2406 648h0M2555 780h0M2607 547h0M2500 565h0M2621 633h0M2470 828h0M2538 698h0M2605 650h0M2500 769h0M2603 666h0M2441 747h0M2445 777h0M2433 779h0M2431 672h0M2703 616h0M2562 516h0M2458 811h0M2588 556h0M2437 769h0M2334 801h0M2386 595h0M2569 499h0M2335 775h0M2447 896h0M2389 763h0M2626 472h0M2612 584h0M2386 803h0M2419 889h0M2469 792h0M2628 508h0M2415 773h0M2429 821h0M2498 622h0M2462 775h0M2416 897h0M2472 838h0M2652 638h0M2723 518h0M2427 624h0M2241 873h0M2773 515h0M2453 748h0M2427 592h0M2591 496h0M2413 655h0M2623 662h0M2423 787h0M2537 704h0M2454 831h0M2655 567h0M2352 876h0M2380 756h0M2583 526h0M2485 764h0M2688 443h0M2606 526h0M2423 837h0M2712 480h0M2492 594h0M2711 482h0M2398 841h0M2318 801h0M2730 408h0M2468 756h0M2631 473h0M2485 549h0M2675 504h0M2493 811h0M2552 741h0M2696 625h0M2422 761h0M2650 478h0M2676 621h0M2252 842h0M2561 559h0M2466 652h0M2431 631h0M2468 657h0M2403 906h0M2402 822h0M2513 541h0M2317 901h0M2486 649h0M2644 534h0M2584 748h0M2643 562h0M2736 535h0M2397 801h0M2410 640h0M2444 891h0M2513 631h0M2604 668h0M2495 727h0M2604 541h0M2498 623h0M2561 592h0M2606 517h0M2685 477h0M2379 725h0M2548 565h0M2762 531h0M2509 557h0M2477 644h0M2324 885h0M2733 413h0M2651 638h0M2388 761h0M2390 804h0M2535 723h0M2308 820h0M2564 568h0M2644 624h0M2608 560h0M2373 728h0M2650 497h0M2407 920h0M2378 723h0M2571 521h0M2454 809h0M2544 536h0M2322 683h0M2674 507h0M2634 577h0M2597 573h0M2345 918h0M2293 800h0M2668 656h0M2772 529h0M2566 782h0M2407 763h0M2612 556h0M2694 579h0M2524 703h0M2446 823h0M2662 519h0M2437 640h0M2425 888h0M2529 697h0M2301 797h0M2620 645h0M2358 771h0M2416 814h0M2450 756h0M2483 638h0M2519 608h0M2456 771h0M2488 635h0M2340 701h0M2397 808h0M2618 516h0M2677 572h0M2440 771h0M2241 917h0M2535 694h0M2509 739h0M2622 495h0M2459 741h0M2554 533h0M2643 637h0M2650 570h0M2499 714h0M2437 614h0M2414 689h0M2568 695h0M2492 743h0M2407 843h0M2460 739h0M2657 573h0M2754 425h0M2438 745h0M2405 690h0M2511 607h0M2666 460h0M2384 678h0M2697 527h0M2507 636h0M2322 788h0M2460 820h0M2438 835h0M2695 563h0M2571 526h0M2703 620h0M2428 832h0M2437 873h0M2606 577h0M2635 473h0M2567 535h0M2655 509h0M2629 523h0M2599 677h0M2412 773h0M2450 798h0M2533 742h0M2392 783h0M2415 750h0M2469 586h0M2487 597h0M2603 766h0M2398 773h0M2520 740h0M2384 649h0M2337 853h0M2580 689h0M2476 758h0M2443 841h0M2474 651h0M2599 726h0M2365 711h0M2349 733h0M2630 532h0M2509 618h0M2498 716h0M2497 557h0M2405 778h0M2539 735h0M2370 640h0M2574 478h0M2416 793h0M2550 811h0M2540 584h0M2581 466h0M2455 747h0M2486 617h0M2744 563h0M2420 788h0M2624 571h0M2427 849h0M2478 807h0M2682 520h0M2652 685h0M2562 590h0M2357 765h0M2487 796h0M2504 754h0M2418 892h0M2602 741h0M2569 722h0M2497 543h0M2555 766h0M2625 586h0M2587 709h0M2470 557h0M2392 761h0M2565 753h0M2460 782h0M2415 759h0M2423 663h0M2574 604h0M2376 794h0M2413 880h0M2646 699h0M2474 762h0M2367 741h0M2601 562h0M2670 594h0M2404 759h0M2476 841h0M2483 768h0M2600 563h0M2469 739h0M2372 703h0M2415 790h0M2601 725h0M2326 889h0M2427 844h0M2658 498h0M2408 685h0M2441 747h0M2635 653h0M2450 670h0M2410 763h0M2361 826h0M2403 683h0M2318 763h0M2339 889h0M2311 808h0M2462 783h0M2698 461h0M2465 651h0M2528 612h0M2529 566h0M2751 455h0M2342 889h0M2411 674h0M2537 604h0M2569 571h0M2615 582h0M2553 808h0M2650 445h0M2626 553h0M2503 615h0M2658 462h0M2471 651h0M2772 518h0M2346 794h0M2532 616h0M2427 665h0M2493 600h0M2538 774h0M2524 605h0M2433 669h0M2549 689h0M2600 562h0M2375 796h0M2704 506h0M2420 594h0M2483 740h0M2459 828h0M2412 696h0M2597 543h0M2310 858h0M2628 680h0M2444 852h0M2390 717h0M2441 812h0M2575 693h0M2709 480h0M2580 756h0M2348 792h0M2492 623h0M2583 493h0M2353 689h0M2379 845h0M2570 597h0M2629 715h0M2476 734h0M2617 664h0M2598 671h0M2382 774h0M2295 875h0M2774 435h0M2473 603h0M2494 619h0M2469 653h0M2339 785h0M2454 792h0M2679 554h0M2316 817h0M2726 554h0M2427 756h0M2513 753h0M2424 856h0M2500 714h0M2379 664h0M2585 598h0M2707 512h0M2339 935h0M2456 767h0M2795 482h0M2386 784h0M2359 869h0M2531 571h0M2596 662h0M2572 560h0M2389 700h0M2380 822h0M2565 721h0M2414 886h0M2358 736h0M2541 566h0M2404 647h0M2609 686h0M2370 708h0M2634 563h0M2489 788h0M2497 720h0M2500 614h0M2294 838h0M2687 586h0M2786 483h0M2696 512h0M2480 737h0M2434 803h0M2470 730h0M2411 757h0M2608 560h0M2447 755h0M2598 572h0M2321 733h0M2405 857h0M2638 570h0M2542 601h0M2358 868h0M2521 706h0M2387 779h0M2697 426h0M2571 715h0M2307 929h0M2511 771h0M2548 617h0M2513 789h0M2621 573h0M2521 585h0M2538 704h0M2602 554h0M2281 800h0M2407 670h0M2461 655h0M2438 742h0M2438 766h0M2541 755h0M2718 544h0M2429 750h0M2330 842h0M2458 781h0M2558 584h0M2733 436h0M2770 408h0M2574 757h0M2669 516h0M2513 572h0M2743 523h0M2352 853h0M2678 576h0M2359 718h0M2607 558h0M2431 783h0M2386 666h0M2367 768h0" stroke="#5a5aee" stroke-width="5.5" stroke-linecap="round" fill="none" opacity="0.45"/>
<path d="M2673 489h0M2624 558h0M2529 611h0M2449 625h0M2668 471h0M2551 596h0M2500 607h0M2500 740h0M2509 550h0M2555 545h0M2646 627h0M2606 706h0M2469 824h0M2507 724h0M2428 776h0M2721 478h0M2576 596h0M2673 575h0M2382 756h0M2538 698h0M2602 570h0M2722 457h0M2698 581h0M2679 522h0M2520 566h0M2309 828h0M2617 637h0M2532 717h0M2617 666h0M2321 802h0M2649 480h0M2585 570h0M2369 658h0M2376 722h0M2654 488h0M2412 791h0M2485 637h0M2650 595h0M2514 620h0M2355 691h0M2416 764h0M2354 861h0M2569 607h0M2632 562h0M2369 875h0M2491 602h0M2544 695h0M2406 775h0M2487 775h0M2579 604h0M2363 872h0M2543 563h0M2466 748h0M2403 758h0M2405 776h0M2677 575h0M2510 585h0M2586 529h0M2544 786h0M2548 508h0M2555 715h0M2465 753h0M2473 614h0M2481 772h0M2612 535h0M2602 538h0M2391 807h0M2603 586h0M2349 730h0M2549 698h0M2585 702h0M2361 799h0M2485 774h0M2667 487h0M2577 592h0M2403 768h0M2452 826h0M2608 653h0M2469 557h0M2594 596h0M2268 912h0M2667 628h0M2429 800h0M2497 718h0M2425 669h0M2686 584h0M2536 534h0M2638 703h0M2515 622h0M2719 470h0M2470 595h0M2330 750h0M2599 580h0M2562 491h0M2494 780h0M2368 689h0M2549 717h0M2695 592h0M2553 598h0M2411 672h0M2680 587h0M2490 634h0M2488 618h0M2516 630h0M2541 614h0M2690 547h0M2666 574h0M2341 718h0M2433 785h0M2608 588h0M2577 724h0M2411 652h0M2340 814h0M2513 721h0M2494 734h0M2571 540h0M2412 774h0M2689 423h0M2394 810h0M2542 601h0M2330 844h0M2626 554h0M2405 859h0M2568 575h0M2648 604h0M2419 608h0M2421 752h0M2411 792h0M2664 446h0M2598 552h0M2618 522h0M2559 574h0M2570 512h0M2416 851h0M2603 690h0M2411 781h0M2627 671h0M2579 598h0M2457 771h0M2282 826h0M2632 521h0M2640 579h0M2612 565h0M2473 763h0M2695 632h0M2377 755h0M2450 752h0M2496 756h0M2454 821h0M2552 599h0M2495 615h0M2374 783h0M2386 702h0M2389 890h0M2521 609h0M2647 573h0M2635 571h0M2687 523h0M2446 750h0M2521 593h0M2458 661h0M2516 581h0M2654 515h0M2354 803h0M2597 714h0M2625 566h0M2590 508h0M2464 660h0M2579 708h0M2510 773h0M2451 819h0M2310 810h0M2607 571h0M2400 758h0M2492 631h0M2613 685h0M2325 815h0M2496 639h0M2550 731h0M2475 610h0M2369 845h0M2362 794h0M2502 736h0M2448 644h0M2636 646h0M2675 586h0M2548 715h0M2550 769h0M2578 585h0M2457 619h0M2605 585h0M2499 722h0M2337 898h0M2715 493h0M2561 591h0M2504 753h0M2481 593h0M2442 861h0M2502 596h0M2421 766h0M2705 586h0M2672 452h0M2678 530h0M2560 705h0M2531 597h0M2355 822h0M2605 667h0M2620 662h0M2314 767h0M2483 623h0M2583 576h0M2549 605h0M2248 879h0M2703 572h0M2480 590h0M2492 584h0M2490 783h0M2391 845h0M2764 468h0M2408 849h0M2332 865h0M2507 753h0M2634 563h0M2722 529h0M2429 686h0M2410 665h0M2592 559h0M2316 789h0M2570 588h0M2678 505h0M2603 522h0M2618 568h0M2555 536h0M2678 536h0M2390 791h0M2562 572h0M2526 705h0M2375 825h0M2281 833h0M2381 789h0M2580 600h0M2605 586h0M2596 551h0M2590 522h0M2431 636h0M2506 777h0M2586 679h0M2328 782h0M2540 534h0M2426 643h0M2354 728h0M2371 796h0M2619 520h0M2395 709h0M2336 843h0M2427 782h0M2405 808h0M2467 763h0M2433 774h0M2680 518h0M2441 782h0M2626 447h0M2519 735h0M2624 481h0M2539 694h0M2393 671h0M2414 776h0M2588 715h0M2594 490h0M2669 508h0M2686 541h0M2707 532h0M2648 440h0M2586 751h0M2552 691h0M2354 867h0M2627 655h0M2589 577h0M2411 817h0M2502 765h0M2587 549h0M2549 722h0M2537 760h0M2325 904h0M2486 752h0M2482 631h0M2411 777h0M2472 565h0M2333 910h0M2345 814h0M2466 750h0M2705 587h0M2446 812h0M2395 802h0M2471 795h0M2447 663h0M2616 690h0M2537 700h0M2521 721h0M2499 568h0M2374 671h0M2543 721h0M2530 572h0M2449 751h0M2676 498h0M2586 592h0M2558 589h0M2371 726h0M2518 715h0M2660 551h0M2487 728h0M2317 917h0M2369 737h0M2388 783h0M2333 807h0M2578 559h0M2715 506h0M2603 588h0M2633 624h0M2516 791h0M2382 685h0M2469 732h0M2475 725h0M2438 797h0M2398 758h0M2460 855h0M2607 464h0M2480 617h0M2499 598h0M2722 544h0M2493 749h0M2401 662h0M2505 544h0M2502 713h0M2470 608h0M2465 759h0M2673 617h0M2339 866h0M2485 745h0M2332 833h0M2560 581h0M2440 675h0M2580 518h0M2545 774h0M2510 617h0M2518 587h0M2373 776h0M2419 804h0M2747 522h0M2397 696h0M2517 568h0M2587 600h0M2322 830h0M2614 639h0M2617 503h0M2436 788h0M2492 590h0M2503 779h0M2328 857h0M2420 862h0M2430 681h0M2312 816h0M2735 461h0M2444 659h0M2528 623h0M2468 802h0M2525 599h0M2658 525h0M2649 577h0M2497 730h0M2642 475h0M2390 760h0M2500 765h0M2656 501h0M2701 476h0M2574 597h0M2417 751h0M2409 692h0M2443 634h0M2446 659h0M2432 759h0M2631 572h0M2593 485h0M2576 509h0M2540 750h0M2608 579h0M2463 789h0M2704 567h0M2451 852h0M2491 739h0M2311 797h0M2646 572h0M2577 589h0M2258 842h0M2688 454h0M2563 744h0M2621 572h0M2575 590h0M2449 795h0M2575 713h0M2448 673h0M2695 491h0M2345 861h0M2729 431h0M2441 640h0M2539 586h0M2297 830h0M2636 674h0M2643 555h0M2591 559h0M2583 663h0M2563 741h0M2595 483h0M2468 622h0M2449 750h0M2563 690h0M2598 580h0M2496 754h0M2508 632h0M2655 587h0M2308 910h0M2679 575h0M2641 610h0M2477 627h0M2361 832h0M2589 664h0M2276 853h0M2641 542h0M2495 727h0M2353 743h0M2562 723h0M2613 571h0M2599 558h0M2334 732h0M2566 676h0M2504 748h0M2457 628h0M2628 514h0M2625 576h0M2642 558h0M2549 580h0M2596 572h0M2552 746h0M2589 596h0M2479 826h0M2509 759h0M2495 620h0M2396 771h0M2676 438h0M2443 633h0M2541 554h0M2558 774h0M2483 749h0M2631 484h0M2618 568h0M2672 584h0M2521 550h0M2564 514h0M2613 564h0M2474 586h0M2470 559h0M2485 647h0M2493 742h0M2630 553h0M2433 668h0M2489 631h0M2390 844h0M2378 665h0M2496 806h0M2455 638h0M2419 806h0M2683 536h0M2446 641h0M2606 681h0M2534 565h0M2571 698h0M2460 752h0M2687 608h0M2288 770h0M2506 753h0M2290 900h0M2355 776h0M2322 793h0M2685 487h0M2584 696h0M2536 711h0M2529 702h0M2491 751h0M2473 752h0M2714 489h0M2461 641h0M2585 599h0M2581 559h0M2622 682h0M2540 621h0M2375 801h0M2360 748h0M2375 734h0M2713 488h0M2604 471h0M2694 546h0M2635 676h0M2535 533h0M2382 901h0M2544 725h0M2508 632h0M2378 725h0M2297 857h0M2487 647h0M2592 528h0M2361 778h0M2694 549h0M2562 710h0M2410 756h0M2597 565h0M2413 803h0M2484 614h0M2432 654h0M2490 644h0M2392 755h0M2588 711h0M2590 697h0M2402 780h0M2412 662h0M2509 622h0M2416 694h0M2601 556h0M2390 802h0M2470 774h0M2401 764h0M2520 722h0M2486 794h0M2326 854h0M2567 678h0M2445 772h0M2611 558h0M2386 721h0M2527 602h0M2365 792h0M2689 543h0M2438 809h0M2533 795h0M2472 747h0M2553 601h0M2531 727h0M2612 687h0M2491 586h0M2564 578h0M2521 591h0M2577 558h0M2677 627h0M2293 821h0M2564 769h0M2449 651h0M2307 783h0M2630 529h0M2731 500h0M2443 655h0M2496 802h0M2700 432h0M2445 781h0M2557 736h0M2546 616h0M2573 563h0M2321 841h0M2474 635h0M2564 597h0M2546 603h0M2600 574h0M2376 793h0M2646 590h0M2431 767h0M2542 551h0M2701 461h0M2682 588h0M2480 624h0M2649 535h0M2641 612h0M2316 765h0M2585 590h0M2557 759h0M2689 575h0M2590 542h0M2368 751h0M2486 615h0M2507 594h0M2295 826h0M2460 772h0M2355 838h0M2637 558h0M2495 768h0M2525 588h0M2544 718h0M2482 620h0M2480 740h0M2564 496h0M2572 592h0M2662 565h0M2722 487h0M2380 833h0M2496 586h0M2665 541h0M2263 843h0M2264 859h0M2393 799h0M2523 732h0M2605 549h0M2607 578h0M2600 672h0M2388 784h0M2643 493h0M2423 669h0M2629 573h0M2543 562h0M2594 543h0M2637 638h0M2664 461h0M2345 734h0M2516 609h0M2691 602h0M2648 571h0M2634 524h0M2496 717h0M2386 711h0M2624 496h0M2727 523h0M2252 878h0M2634 543h0M2586 553h0M2482 786h0M2444 663h0M2526 724h0M2547 750h0M2305 881h0M2423 666h0M2361 826h0M2495 807h0M2379 764h0M2441 662h0M2439 796h0M2609 584h0M2610 522h0M2676 621h0M2529 771h0M2389 714h0M2478 649h0M2539 571h0M2454 597h0M2540 710h0M2586 526h0M2381 801h0M2449 809h0M2381 779h0M2529 700h0M2689 443h0M2586 587h0M2485 632h0M2546 789h0M2720 510h0M2638 519h0M2447 777h0M2606 474h0M2489 597h0M2740 514h0M2460 776h0M2573 603h0M2330 804h0M2653 627h0M2688 475h0M2441 656h0M2540 534h0M2366 738h0M2474 824h0M2499 628h0M2469 762h0M2555 562h0M2527 735h0M2509 605h0M2765 482h0M2702 591h0M2668 546h0M2381 848h0M2423 783h0M2429 796h0M2407 752h0M2576 583h0M2438 765h0M2392 808h0M2432 652h0M2559 597h0M2646 619h0M2520 568h0M2400 817h0M2593 569h0M2474 574h0M2462 764h0M2428 746h0M2424 680h0M2577 540h0M2465 731h0M2708 574h0M2288 824h0M2514 752h0M2538 768h0M2594 683h0M2633 589h0M2310 847h0M2501 792h0M2573 705h0M2440 664h0M2594 566h0M2395 758h0M2581 543h0M2482 742h0M2674 656h0M2537 591h0M2389 712h0M2659 521h0M2616 549h0M2537 580h0M2564 685h0M2652 574h0M2591 694h0M2628 648h0M2352 753h0M2584 583h0M2435 682h0M2624 484h0M2476 614h0M2565 763h0M2460 825h0M2365 696h0M2511 600h0M2398 852h0M2401 707h0M2628 563h0M2710 552h0M2729 532h0M2463 616h0M2414 812h0M2377 795h0M2413 781h0M2352 680h0M2477 620h0M2640 591h0M2616 477h0M2630 656h0M2515 595h0M2535 614h0M2479 770h0M2456 651h0M2505 803h0M2446 776h0M2567 692h0M2452 666h0M2519 744h0M2572 600h0M2679 615h0M2532 729h0M2582 561h0M2569 704h0M2458 629h0M2605 531h0M2396 664h0M2622 589h0M2522 733h0M2571 550h0M2446 620h0M2530 743h0M2452 780h0M2348 809h0M2662 635h0M2457 812h0M2527 620h0M2666 450h0M2376 768h0M2481 613h0M2548 570h0M2441 673h0M2441 651h0M2459 662h0M2397 791h0M2427 748h0M2568 576h0M2596 514h0M2535 731h0M2755 443h0M2383 784h0M2607 527h0M2709 533h0M2557 588h0M2395 654h0M2528 610h0M2512 573h0M2305 900h0M2629 533h0M2445 635h0M2433 792h0M2559 752h0M2558 540h0M2425 679h0M2349 783h0M2623 565h0M2574 600h0M2565 742h0M2704 508h0M2507 545h0M2575 762h0M2456 776h0M2621 538h0M2592 594h0M2700 564h0M2458 664h0M2549 531h0M2345 781h0M2495 715h0M2480 798h0M2554 704h0M2540 620h0M2449 611h0" stroke="#1a30dc" stroke-width="6" stroke-linecap="round" fill="none" opacity="0.85"/>
<path d="M2496 732h0M2611 589h0M2501 721h0M2493 742h0M2572 578h0M2469 652h0M2381 729h0M2497 618h0M2525 718h0M2457 741h0M2646 619h0M2531 704h0M2639 617h0M2519 586h0M2601 651h0M2561 588h0M2444 667h0M2501 627h0M2486 636h0M2518 716h0M2393 759h0M2558 598h0M2502 614h0M2500 716h0M2630 576h0M2452 765h0M2513 633h0M2622 645h0M2399 774h0M2656 569h0M2609 581h0M2514 712h0M2625 569h0M2524 594h0M2506 622h0M2511 633h0M2470 652h0M2552 584h0M2605 655h0M2539 722h0M2456 649h0M2411 698h0M2654 563h0M2554 612h0M2592 579h0M2378 767h0M2489 725h0M2381 795h0M2468 629h0M2602 585h0M2414 684h0M2443 657h0M2384 775h0M2427 767h0M2374 773h0M2545 688h0M2424 766h0M2505 725h0M2620 575h0M2435 751h0M2458 750h0M2382 768h0M2524 595h0M2445 768h0M2569 682h0M2375 722h0M2577 602h0M2500 618h0M2575 671h0M2447 744h0M2555 612h0M2558 594h0M2467 659h0M2540 704h0M2492 760h0M2486 728h0M2587 683h0M2386 775h0M2587 582h0M2452 665h0M2630 583h0M2475 741h0M2465 776h0M2524 589h0M2450 746h0M2561 677h0M2532 730h0M2493 762h0M2473 644h0M2488 640h0M2574 678h0M2497 629h0M2494 743h0M2485 645h0M2542 592h0M2597 589h0M2513 632h0M2597 577h0M2597 585h0M2478 638h0M2483 645h0M2563 588h0M2469 624h0M2442 742h0M2505 740h0M2424 670h0M2478 613h0M2461 746h0M2454 650h0M2416 796h0M2360 769h0M2639 624h0M2491 643h0M2374 766h0M2477 746h0M2482 651h0M2465 745h0M2371 788h0M2443 763h0M2387 766h0M2454 752h0M2478 749h0M2523 716h0M2451 669h0M2480 635h0M2387 775h0M2526 617h0M2432 747h0M2444 666h0M2509 727h0M2456 766h0M2429 764h0M2585 574h0M2461 633h0M2477 766h0M2446 742h0M2495 747h0M2539 614h0M2408 788h0M2626 567h0M2432 655h0M2454 773h0M2429 677h0M2540 584h0M2417 751h0M2515 620h0M2464 637h0M2474 763h0M2452 762h0M2616 561h0M2471 729h0M2427 760h0M2567 591h0M2628 578h0M2450 647h0M2470 740h0M2498 638h0M2503 628h0M2566 596h0M2392 699h0M2553 611h0M2449 638h0M2475 733h0M2477 726h0M2407 796h0M2507 620h0M2461 744h0M2549 591h0M2418 764h0M2469 747h0M2570 674h0M2485 650h0M2468 632h0M2539 603h0M2365 748h0M2636 634h0M2524 713h0M2511 711h0M2481 632h0M2419 792h0M2505 717h0M2483 731h0M2457 773h0M2515 723h0M2416 693h0M2505 712h0M2508 631h0M2596 683h0M2504 723h0M2372 772h0M2453 646h0M2606 569h0M2386 783h0M2542 619h0M2389 790h0M2433 654h0M2532 705h0M2649 571h0M2546 599h0M2467 634h0M2589 662h0M2601 660h0M2543 619h0M2489 638h0M2601 550h0M2436 749h0M2535 617h0M2506 618h0M2518 745h0M2434 666h0M2428 668h0M2648 615h0M2479 650h0M2367 730h0M2440 669h0M2518 591h0M2383 713h0M2588 664h0M2517 715h0M2466 650h0M2482 639h0M2428 787h0M2547 582h0M2430 751h0M2583 682h0M2513 622h0M2451 766h0M2570 682h0M2538 598h0M2423 746h0M2647 616h0M2651 601h0M2495 731h0M2486 639h0M2451 769h0M2501 613h0M2472 749h0M2361 773h0M2490 753h0M2471 658h0" stroke="#1432dc" stroke-width="7.5" stroke-linecap="round" fill="none" opacity="0.9"/>
<path d="M2614 649h0M2353 733h0M2480 638h0M2429 676h0M2550 607h0M2464 762h0M2655 565h0M2610 573h0M2526 612h0M2367 722h0M2546 589h0M2572 690h0M2364 746h0M2483 733h0M2663 605h0M2404 764h0M2540 597h0M2647 621h0M2449 750h0M2583 594h0M2630 644h0M2414 683h0M2601 576h0M2658 568h0M2397 776h0M2494 723h0M2450 764h0M2641 626h0M2612 580h0M2394 771h0M2410 770h0M2379 768h0M2449 662h0M2653 598h0M2637 578h0M2393 777h0M2564 695h0M2380 718h0M2658 608h0M2604 588h0M2491 640h0M2390 770h0M2445 666h0M2360 754h0M2554 707h0M2362 753h0M2657 609h0M2557 699h0M2407 767h0M2595 666h0M2606 567h0M2649 625h0M2358 736h0M2389 706h0M2605 586h0M2581 675h0M2606 574h0M2406 768h0M2454 746h0M2627 572h0M2616 657h0M2624 572h0M2376 759h0M2394 699h0M2450 746h0M2596 671h0M2504 719h0M2629 568h0M2388 777h0M2521 716h0M2447 653h0M2651 602h0M2555 687h0M2608 576h0M2547 578h0M2655 591h0M2402 762h0M2598 589h0M2621 651h0M2413 760h0M2376 759h0M2409 685h0M2366 700h0M2650 631h0M2559 687h0M2363 760h0M2621 574h0M2382 706h0M2519 716h0M2610 578h0M2522 619h0M2429 752h0M2558 595h0M2394 700h0M2660 603h0M2646 634h0M2393 765h0M2361 744h0M2436 759h0M2438 751h0M2634 571h0M2367 769h0M2419 770h0M2419 679h0M2507 729h0M2630 568h0M2351 731h0M2439 772h0M2428 670h0M2564 588h0M2625 645h0M2571 590h0M2472 746h0M2505 622h0M2648 589h0M2515 617h0M2421 662h0M2405 779h0M2412 683h0M2386 763h0M2608 587h0M2570 590h0M2547 604h0M2657 597h0M2379 714h0M2429 769h0M2392 773h0M2653 637h0M2376 759h0M2382 764h0M2649 593h0M2616 577h0M2373 759h0M2370 728h0M2383 696h0M2651 584h0M2641 628h0M2483 728h0M2550 607h0M2497 721h0M2538 593h0M2668 595h0M2384 701h0M2363 714h0M2359 743h0M2431 762h0M2589 666h0M2412 681h0M2662 591h0M2401 759h0M2364 752h0M2418 675h0M2652 597h0M2437 665h0M2355 748h0M2444 642h0M2478 626h0M2600 583h0M2411 772h0M2437 669h0M2642 576h0M2376 775h0M2616 650h0M2616 575h0M2636 653h0M2634 638h0M2383 764h0M2580 674h0M2414 668h0M2636 645h0M2647 619h0M2436 645h0M2559 597h0M2402 691h0M2484 739h0M2652 611h0M2379 699h0M2346 757h0M2415 762h0M2637 649h0M2614 581h0M2650 585h0M2369 755h0M2360 762h0M2533 714h0M2643 585h0M2569 592h0M2548 693h0M2395 767h0M2376 758h0M2645 567h0M2627 583h0M2384 762h0M2462 626h0M2652 585h0M2426 680h0M2658 612h0M2407 758h0M2598 670h0M2355 742h0M2643 632h0M2388 762h0M2385 778h0M2380 765h0M2379 765h0M2648 585h0M2391 692h0M2445 753h0M2570 592h0M2368 734h0M2426 664h0M2407 763h0M2453 750h0M2652 597h0M2364 765h0M2439 666h0M2453 661h0M2659 603h0M2648 579h0M2591 584h0M2385 765h0M2510 611h0M2650 588h0M2480 626h0M2370 754h0M2351 725h0M2656 582h0M2367 730h0M2369 731h0M2628 583h0M2528 724h0M2449 662h0M2517 610h0M2657 601h0M2542 708h0M2469 752h0M2600 664h0M2648 615h0M2396 774h0M2508 630h0M2367 721h0M2628 650h0M2551 701h0M2397 679h0M2346 740h0M2627 581h0M2465 648h0M2374 709h0M2501 622h0M2419 679h0M2632 558h0M2370 787h0M2437 764h0M2586 668h0M2629 650h0M2544 694h0M2383 713h0M2399 761h0M2368 762h0M2584 695h0M2423 755h0M2480 739h0M2364 740h0M2638 650h0M2564 590h0M2559 598h0M2653 608h0M2632 641h0M2419 765h0M2448 663h0M2388 773h0M2620 643h0M2543 605h0M2502 622h0M2578 678h0M2623 644h0M2360 733h0M2422 754h0M2505 625h0M2381 771h0M2628 657h0M2557 695h0M2520 611h0M2665 598h0M2570 592h0M2391 764h0M2511 714h0M2599 585h0M2573 576h0M2628 577h0M2572 590h0M2464 736h0M2365 742h0M2367 736h0M2387 702h0M2603 661h0M2383 780h0M2632 641h0M2639 629h0M2441 661h0M2533 703h0M2455 652h0M2371 723h0M2570 694h0M2470 737h0M2380 716h0M2630 634h0M2393 767h0M2367 720h0M2380 704h0M2514 617h0M2649 636h0M2359 720h0M2567 590h0M2610 654h0M2370 759h0M2618 568h0M2358 749h0M2654 597h0M2381 776h0M2551 695h0M2652 600h0M2586 587h0M2362 731h0M2515 616h0M2560 688h0M2615 647h0M2372 720h0M2632 572h0M2588 682h0M2433 753h0M2399 776h0M2490 739h0M2427 671h0M2622 581h0M2519 710h0M2435 667h0M2431 673h0M2375 719h0M2443 761h0M2653 591h0M2659 605h0M2662 622h0M2571 699h0M2467 745h0M2651 569h0M2661 609h0M2364 715h0M2623 582h0M2430 773h0M2500 726h0M2515 620h0M2407 761h0M2509 606h0M2382 770h0M2380 763h0M2602 582h0M2518 727h0M2360 730h0M2473 738h0M2567 602h0M2644 579h0M2632 582h0M2376 774h0M2560 586h0M2422 682h0M2596 666h0M2511 718h0M2462 751h0M2571 686h0M2655 591h0M2652 595h0M2369 734h0M2665 596h0M2365 740h0M2576 692h0M2554 581h0M2635 575h0M2366 738h0M2396 761h0" stroke="#1432dc" stroke-width="8" stroke-linecap="round" fill="none" opacity="0.95"/>
<path d="M2438 752h0M2394 771h0M2446 582h0M2733 564h0M2528 509h0M2329 774h0M2791 660h0M2365 723h0M2416 666h0M2304 797h0M2272 774h0M2629 523h0M2635 655h0M2591 571h0M2522 439h0M2632 444h0M2433 644h0M2316 759h0M2626 631h0M2614 672h0M2523 618h0M2327 765h0M2429 783h0M2358 894h0M2618 559h0M2707 448h0M2712 758h0M2449 641h0M2550 565h0M2338 907h0M2518 720h0M2593 671h0M2440 589h0M2345 880h0M2619 670h0M2380 758h0M2570 679h0M2392 604h0M2543 719h0M2456 609h0M2598 579h0M2269 809h0M2521 588h0M2455 825h0M2379 669h0M2353 703h0M2493 620h0M2394 856h0M2381 532h0M2343 802h0" stroke="#7a7af0" stroke-width="5.5" stroke-linecap="round" fill="none" opacity="0.45"/>
<g filter="url(#rg2)"><path d="M2651.6 591.0L2653.8 595.9L2654.4 600.2L2654.0 604.7L2652.6 609.5L2650.1 614.5L2646.7 619.9L2642.3 625.6L2637.0 631.5L2630.8 637.7L2623.7 644.2L2615.7 650.8L2606.8 657.8L2597.0 664.9L2586.3 672.3L2574.7 679.9L2561.9 687.9L2547.6 696.5L2529.0 707.2L2510.3 717.7L2495.6 725.6L2482.2 732.5L2469.7 738.6L2457.9 744.0L2446.7 748.7L2436.2 752.8L2426.4 756.3L2417.2 759.1L2408.6 761.2L2400.8 762.8L2393.7 763.6L2387.4 763.8L2381.8 763.3L2376.9 762.1L2372.9 760.2L2369.5 757.4L2366.4 753.0L2364.2 748.1L2363.6 743.8L2364.0 739.3L2365.4 734.5L2367.9 729.5L2371.3 724.1L2375.7 718.4L2381.0 712.5L2387.2 706.3L2394.3 699.8L2402.3 693.2L2411.2 686.2L2421.0 679.1L2431.7 671.7L2443.3 664.1L2456.1 656.1L2470.4 647.5L2489.0 636.8L2507.7 626.3L2522.4 618.4L2535.8 611.5L2548.3 605.4L2560.1 600.0L2571.3 595.3L2581.8 591.2L2591.6 587.7L2600.8 584.9L2609.4 582.8L2617.2 581.2L2624.3 580.4L2630.6 580.2L2636.2 580.7L2641.1 581.9L2645.1 583.8L2648.5 586.6Z" fill="#1432dc" /></g>
<g filter="url(#b1)">
<path d="M2646.4 594.0L2648.1 598.0L2648.5 601.7L2647.8 605.6L2646.2 609.8L2643.6 614.3L2640.1 619.1L2635.8 624.2L2630.5 629.7L2624.3 635.4L2617.3 641.3L2609.5 647.6L2600.8 654.0L2591.3 660.8L2580.9 667.7L2569.6 675.0L2557.3 682.6L2543.5 690.8L2525.5 701.1L2507.5 711.3L2493.4 718.9L2480.5 725.6L2468.5 731.6L2457.2 736.9L2446.6 741.6L2436.6 745.8L2427.2 749.3L2418.5 752.3L2410.4 754.7L2403.1 756.4L2396.4 757.6L2390.5 758.1L2385.3 758.0L2380.9 757.3L2377.2 755.8L2374.2 753.6L2371.6 750.0L2369.9 746.0L2369.5 742.3L2370.2 738.4L2371.8 734.2L2374.4 729.7L2377.9 724.9L2382.2 719.8L2387.5 714.3L2393.7 708.6L2400.7 702.7L2408.5 696.4L2417.2 690.0L2426.7 683.2L2437.1 676.3L2448.4 669.0L2460.7 661.4L2474.5 653.2L2492.5 642.9L2510.5 632.7L2524.6 625.1L2537.5 618.4L2549.5 612.4L2560.8 607.1L2571.4 602.4L2581.4 598.2L2590.8 594.7L2599.5 591.7L2607.6 589.3L2614.9 587.6L2621.6 586.4L2627.5 585.9L2632.7 586.0L2637.1 586.7L2640.8 588.2L2643.8 590.4Z" fill="#1e50e0" />
<path d="M2644.2 595.2L2645.8 599.0L2646.1 602.5L2645.4 606.3L2643.7 610.3L2641.2 614.6L2637.7 619.2L2633.3 624.2L2628.0 629.4L2621.9 635.0L2615.0 640.8L2607.3 646.9L2598.7 653.2L2589.3 659.8L2579.1 666.6L2568.0 673.7L2555.8 681.2L2542.2 689.2L2524.6 699.4L2506.8 709.4L2492.9 716.9L2480.3 723.5L2468.5 729.4L2457.4 734.7L2446.9 739.4L2437.1 743.5L2427.9 747.1L2419.4 750.1L2411.5 752.5L2404.3 754.3L2397.8 755.5L2392.0 756.1L2387.0 756.1L2382.7 755.5L2379.1 754.2L2376.3 752.1L2373.8 748.8L2372.2 745.0L2371.9 741.5L2372.6 737.7L2374.3 733.7L2376.8 729.4L2380.3 724.8L2384.7 719.8L2390.0 714.6L2396.1 709.0L2403.0 703.2L2410.7 697.1L2419.3 690.8L2428.7 684.2L2438.9 677.4L2450.0 670.3L2462.2 662.8L2475.8 654.8L2493.4 644.6L2511.2 634.6L2525.1 627.1L2537.7 620.5L2549.5 614.6L2560.6 609.3L2571.1 604.6L2580.9 600.5L2590.1 596.9L2598.6 593.9L2606.5 591.5L2613.7 589.7L2620.2 588.5L2626.0 587.9L2631.0 587.9L2635.3 588.5L2638.9 589.8L2641.7 591.9Z" fill="#35c4ea" />
<path d="M2640.3 597.4L2641.7 600.8L2641.8 603.9L2641.0 607.3L2639.2 611.0L2636.6 615.0L2633.1 619.3L2628.7 623.9L2623.5 628.8L2617.5 634.0L2610.7 639.5L2603.1 645.3L2594.7 651.4L2585.6 657.6L2575.6 664.2L2564.8 671.0L2552.9 678.3L2539.7 686.1L2522.6 695.9L2505.4 705.6L2491.9 712.9L2479.6 719.4L2468.2 725.2L2457.5 730.4L2447.4 735.1L2437.9 739.2L2429.0 742.8L2420.8 745.8L2413.3 748.3L2406.4 750.2L2400.2 751.6L2394.7 752.4L2389.9 752.6L2385.8 752.2L2382.5 751.2L2379.9 749.5L2377.7 746.6L2376.3 743.2L2376.2 740.1L2377.0 736.7L2378.8 733.0L2381.4 729.0L2384.9 724.7L2389.3 720.1L2394.5 715.2L2400.5 710.0L2407.3 704.5L2414.9 698.7L2423.3 692.6L2432.4 686.4L2442.4 679.8L2453.2 673.0L2465.1 665.7L2478.3 657.9L2495.4 648.1L2512.6 638.4L2526.1 631.1L2538.4 624.6L2549.8 618.8L2560.5 613.6L2570.6 608.9L2580.1 604.8L2589.0 601.2L2597.2 598.2L2604.7 595.7L2611.6 593.8L2617.8 592.4L2623.3 591.6L2628.1 591.4L2632.2 591.8L2635.5 592.8L2638.1 594.5Z" fill="#7af090" />
<path d="M2635.9 599.9L2637.2 603.0L2637.2 605.9L2636.4 609.0L2634.6 612.5L2632.0 616.3L2628.6 620.3L2624.3 624.7L2619.3 629.4L2613.4 634.4L2606.8 639.6L2599.4 645.2L2591.3 651.0L2582.4 657.0L2572.7 663.3L2562.3 669.9L2550.8 676.9L2538.0 684.4L2521.4 693.9L2504.8 703.3L2491.8 710.4L2479.9 716.7L2468.9 722.3L2458.5 727.4L2448.8 731.9L2439.7 735.9L2431.1 739.4L2423.2 742.4L2415.9 744.9L2409.3 746.9L2403.4 748.3L2398.1 749.1L2393.6 749.4L2389.7 749.2L2386.6 748.3L2384.1 746.8L2382.1 744.1L2380.8 741.0L2380.8 738.1L2381.6 735.0L2383.4 731.5L2386.0 727.7L2389.4 723.7L2393.7 719.3L2398.7 714.6L2404.6 709.6L2411.2 704.4L2418.6 698.8L2426.7 693.0L2435.6 687.0L2445.3 680.7L2455.7 674.1L2467.2 667.1L2480.0 659.6L2496.6 650.1L2513.2 640.7L2526.2 633.6L2538.1 627.3L2549.1 621.7L2559.5 616.6L2569.2 612.1L2578.3 608.1L2586.9 604.6L2594.8 601.6L2602.1 599.1L2608.7 597.1L2614.6 595.7L2619.9 594.9L2624.4 594.6L2628.3 594.8L2631.4 595.7L2633.9 597.2Z" fill="#c6f23e" />
<path d="M2630.7 602.8L2631.9 605.7L2631.9 608.5L2631.0 611.4L2629.3 614.7L2626.8 618.3L2623.5 622.1L2619.4 626.3L2614.5 630.8L2608.9 635.5L2602.5 640.5L2595.4 645.8L2587.6 651.3L2579.1 657.1L2569.8 663.1L2559.7 669.4L2548.8 676.1L2536.5 683.3L2520.6 692.4L2504.6 701.4L2492.2 708.3L2480.8 714.3L2470.2 719.7L2460.3 724.6L2451.0 728.9L2442.2 732.8L2434.1 736.2L2426.5 739.1L2419.5 741.5L2413.2 743.4L2407.5 744.8L2402.5 745.7L2398.2 746.0L2394.5 745.8L2391.5 745.0L2389.2 743.6L2387.3 741.2L2386.1 738.3L2386.1 735.5L2387.0 732.6L2388.7 729.3L2391.2 725.7L2394.5 721.9L2398.6 717.7L2403.5 713.2L2409.1 708.5L2415.5 703.5L2422.6 698.2L2430.4 692.7L2438.9 686.9L2448.2 680.9L2458.3 674.6L2469.2 667.9L2481.5 660.7L2497.4 651.6L2513.4 642.6L2525.8 635.7L2537.2 629.7L2547.8 624.3L2557.7 619.4L2567.0 615.1L2575.8 611.2L2583.9 607.8L2591.5 604.9L2598.5 602.5L2604.8 600.6L2610.5 599.2L2615.5 598.3L2619.8 598.0L2623.5 598.2L2626.5 599.0L2628.8 600.4Z" fill="#f8e61e" />
<path d="M2619.4 609.3L2620.4 611.8L2620.4 614.2L2619.5 616.8L2617.9 619.7L2615.6 622.8L2612.6 626.3L2608.8 630.0L2604.4 634.0L2599.2 638.2L2593.4 642.7L2587.0 647.5L2579.9 652.5L2572.1 657.7L2563.7 663.1L2554.5 668.8L2544.6 674.8L2533.4 681.4L2519.0 689.7L2504.5 697.8L2493.2 704.0L2482.9 709.5L2473.4 714.4L2464.4 718.9L2455.9 722.9L2448.0 726.4L2440.6 729.5L2433.8 732.2L2427.5 734.5L2421.8 736.2L2416.7 737.6L2412.2 738.4L2408.3 738.8L2405.0 738.7L2402.3 738.0L2400.2 736.8L2398.6 734.7L2397.6 732.2L2397.6 729.8L2398.5 727.2L2400.1 724.3L2402.4 721.2L2405.4 717.7L2409.2 714.0L2413.6 710.0L2418.8 705.8L2424.6 701.3L2431.0 696.5L2438.1 691.5L2445.9 686.3L2454.3 680.9L2463.5 675.2L2473.4 669.2L2484.6 662.6L2499.0 654.3L2513.5 646.2L2524.8 640.0L2535.1 634.5L2544.6 629.6L2553.6 625.1L2562.1 621.1L2570.0 617.6L2577.4 614.5L2584.2 611.8L2590.5 609.5L2596.2 607.8L2601.3 606.4L2605.8 605.6L2609.7 605.2L2613.0 605.3L2615.7 606.0L2617.8 607.2Z" fill="#ff8a14" />
<path d="M2609.0 615.2L2609.8 617.4L2609.7 619.5L2609.0 621.8L2607.5 624.3L2605.4 627.1L2602.6 630.2L2599.1 633.5L2595.1 637.1L2590.4 640.9L2585.1 645.0L2579.3 649.2L2572.8 653.7L2565.8 658.4L2558.1 663.3L2549.9 668.5L2540.8 673.9L2530.8 679.8L2517.7 687.3L2504.6 694.7L2494.3 700.3L2485.0 705.3L2476.4 709.8L2468.2 713.8L2460.6 717.5L2453.4 720.7L2446.8 723.6L2440.6 726.0L2434.9 728.1L2429.8 729.7L2425.2 731.0L2421.1 731.8L2417.6 732.2L2414.7 732.1L2412.3 731.6L2410.5 730.6L2409.0 728.8L2408.2 726.6L2408.3 724.5L2409.0 722.2L2410.5 719.7L2412.6 716.9L2415.4 713.8L2418.9 710.5L2422.9 706.9L2427.6 703.1L2432.9 699.0L2438.7 694.8L2445.2 690.3L2452.2 685.6L2459.9 680.7L2468.1 675.5L2477.2 670.1L2487.2 664.2L2500.3 656.7L2513.4 649.3L2523.7 643.7L2533.0 638.7L2541.6 634.2L2549.8 630.2L2557.4 626.5L2564.6 623.3L2571.2 620.4L2577.4 618.0L2583.1 615.9L2588.2 614.3L2592.8 613.0L2596.9 612.2L2600.4 611.8L2603.3 611.9L2605.7 612.4L2607.5 613.4Z" fill="#f2300e" />
<path d="M2582.9 630.0L2583.4 631.4L2583.2 632.8L2582.6 634.3L2581.4 636.0L2579.7 638.0L2577.6 640.1L2575.0 642.5L2571.9 645.0L2568.4 647.7L2564.5 650.6L2560.1 653.7L2555.3 656.9L2550.1 660.3L2544.4 663.9L2538.2 667.7L2531.5 671.7L2524.1 676.0L2514.4 681.6L2504.7 687.0L2497.2 691.2L2490.3 694.9L2483.9 698.3L2477.9 701.3L2472.3 704.0L2467.1 706.5L2462.2 708.7L2457.7 710.6L2453.6 712.2L2449.8 713.6L2446.5 714.6L2443.6 715.3L2441.0 715.8L2439.0 715.9L2437.3 715.7L2436.0 715.1L2435.1 714.0L2434.6 712.6L2434.8 711.2L2435.4 709.7L2436.6 708.0L2438.3 706.0L2440.4 703.9L2443.0 701.5L2446.1 699.0L2449.6 696.3L2453.5 693.4L2457.9 690.3L2462.7 687.1L2467.9 683.7L2473.6 680.1L2479.8 676.3L2486.5 672.3L2493.9 668.0L2503.6 662.4L2513.3 657.0L2520.8 652.8L2527.7 649.1L2534.1 645.7L2540.1 642.7L2545.7 640.0L2550.9 637.5L2555.8 635.3L2560.3 633.4L2564.4 631.8L2568.2 630.4L2571.5 629.4L2574.4 628.7L2577.0 628.2L2579.0 628.1L2580.7 628.3L2582.0 628.9Z" fill="#c21408" />
<path d="M2552.5 647.3L2552.7 648.1L2552.6 648.8L2552.2 649.7L2551.5 650.7L2550.5 651.8L2549.2 653.0L2547.7 654.4L2545.9 655.8L2543.8 657.4L2541.5 659.1L2538.9 660.9L2536.0 662.8L2532.9 664.8L2529.6 666.9L2526.0 669.1L2522.0 671.4L2517.6 674.0L2512.0 677.2L2506.3 680.4L2501.8 682.9L2497.8 685.1L2494.0 687.1L2490.5 688.9L2487.2 690.5L2484.2 692.0L2481.3 693.3L2478.7 694.4L2476.2 695.4L2474.0 696.2L2472.1 696.8L2470.4 697.3L2468.9 697.6L2467.7 697.7L2466.8 697.6L2466.1 697.3L2465.5 696.7L2465.3 695.9L2465.4 695.2L2465.8 694.3L2466.5 693.3L2467.5 692.2L2468.8 691.0L2470.3 689.6L2472.1 688.2L2474.2 686.6L2476.5 684.9L2479.1 683.1L2482.0 681.2L2485.1 679.2L2488.4 677.1L2492.0 674.9L2496.0 672.6L2500.4 670.0L2506.0 666.8L2511.7 663.6L2516.2 661.1L2520.2 658.9L2524.0 656.9L2527.5 655.1L2530.8 653.5L2533.8 652.0L2536.7 650.7L2539.3 649.6L2541.8 648.6L2544.0 647.8L2545.9 647.2L2547.6 646.7L2549.1 646.4L2550.3 646.3L2551.2 646.4L2551.9 646.7Z" fill="#8e0c0a" />
</g>
</g>
<clipPath id="c4"><rect x="2923" y="401" width="685.0" height="540.5"/></clipPath><g clip-path="url(#c4)">
<path d="M3328 573h0M3326 590h0M3275 577h0M3329 723h0M3395 588h0M3264 571h0M3272 590h0M3366 599h0M3275 751h0M3371 714h0M3137 699h0M3338 704h0M3431 585h0M3140 800h0M3316 614h0M2965 731h0M3447 557h0M3308 694h0M3568 489h0M3408 576h0M3306 730h0M3240 540h0M3104 743h0M3008 902h0M3134 811h0M3285 599h0M3354 695h0M3090 755h0M3442 600h0M3235 801h0M3145 814h0M3193 655h0M3215 600h0M3207 780h0M3136 668h0M3120 692h0M3459 591h0M2999 869h0M3105 768h0M3003 749h0M3332 599h0M3373 584h0M3589 519h0M2929 883h0M3111 631h0M3124 664h0M3314 701h0M3006 740h0M3303 588h0M3289 764h0M3116 781h0M2967 805h0M3021 840h0M3291 735h0M3059 875h0M3428 679h0M3382 570h0M3384 587h0M3523 486h0M3185 755h0M3078 796h0M3109 879h0M3206 617h0M3290 608h0M3198 671h0M3555 583h0M3065 706h0M3368 514h0M2977 845h0M3118 759h0M3103 753h0M3231 542h0M3516 535h0M3027 771h0M3184 680h0M3127 842h0M3189 626h0M3507 487h0M3222 757h0M3438 584h0M3513 471h0M3486 533h0M3307 592h0M3408 663h0M3188 564h0M3492 528h0M3086 741h0M3353 671h0M3398 576h0M3194 674h0M3259 627h0M3158 676h0M3015 765h0M3371 658h0M3276 575h0M3134 880h0M3149 641h0M3388 589h0M3060 712h0M3369 675h0M3376 599h0M3307 541h0M3196 634h0M3152 793h0M3297 751h0M3105 717h0M3551 546h0M3144 674h0M3237 772h0M3234 826h0M3092 776h0M3274 794h0M3392 523h0M3306 776h0M3475 492h0M3370 594h0M3360 602h0M3406 648h0M3523 457h0M3419 626h0M3101 872h0M3120 697h0M3512 519h0M3203 633h0M3182 759h0M3019 887h0M3172 653h0M3309 743h0M3521 512h0M3236 633h0M3603 468h0M3328 496h0M3265 740h0M3314 621h0M3265 812h0M3447 536h0M3137 687h0M3285 708h0M3201 670h0M3212 654h0M3274 592h0M3113 875h0M3305 617h0M3296 770h0M3335 592h0M3446 559h0M3480 488h0M3329 767h0M3486 609h0M3252 729h0M3258 755h0M3194 634h0M3194 791h0M2997 823h0M3064 846h0M3370 594h0M3176 677h0M3262 771h0M3549 424h0M3068 719h0M3155 759h0M3315 587h0M3202 759h0M3596 467h0M3075 706h0M3473 622h0M3470 574h0M3422 594h0M3280 753h0M3561 527h0M3167 764h0M3080 787h0M3483 514h0M3340 700h0M3076 790h0M3415 560h0M3466 589h0M3268 778h0M3371 670h0M3207 607h0M3502 526h0M3233 742h0M3214 744h0M3288 733h0M3142 703h0M3206 590h0M3055 648h0M3232 774h0M3399 477h0M3067 752h0M3119 666h0M3457 513h0M3181 848h0M3273 626h0M3312 619h0M3352 694h0M3087 886h0M3237 732h0M3366 597h0M3252 735h0M3156 756h0M3301 589h0M3245 636h0M3441 646h0M3380 660h0M3129 826h0M3438 609h0M3348 716h0M3426 692h0M3517 594h0M3459 589h0M3089 724h0M3221 748h0M3103 871h0M3401 648h0M3416 621h0M3398 532h0M3060 786h0M3247 535h0M3329 544h0M3011 862h0M3350 603h0M3110 848h0M3060 775h0M3340 613h0M3182 668h0M3235 609h0M3367 550h0M3174 871h0M3367 572h0M3167 825h0M3101 759h0M3285 777h0M3322 684h0M3154 761h0M3454 630h0M3070 824h0M3508 532h0M3566 459h0M3305 619h0M3219 643h0M3363 668h0M3356 765h0M3191 591h0M3466 677h0M3100 760h0M3025 704h0M3183 569h0M3055 865h0M3561 504h0M3120 796h0M3135 680h0M3416 640h0M3273 732h0M3111 820h0M3173 653h0M3034 895h0M3136 807h0M3068 748h0M3124 656h0M3401 577h0M3561 600h0M3286 558h0M3019 820h0M3141 796h0M3555 471h0M3189 815h0M3385 655h0M3327 682h0M3174 788h0M3273 707h0M3007 767h0M3144 833h0M3520 604h0M3371 595h0M3011 820h0M3349 733h0M3108 773h0M3208 809h0M3210 784h0M3549 556h0M3314 733h0M3388 685h0M3417 467h0M3419 750h0M3070 816h0M3164 796h0M3199 676h0M3102 670h0M3205 735h0M3032 787h0M3004 839h0M3473 621h0M3253 639h0M3123 658h0M3479 532h0M3332 719h0M3424 631h0M3094 846h0M3109 792h0M2953 787h0M3175 757h0M3285 618h0M3292 535h0M3596 505h0M3165 695h0M3235 741h0M3342 760h0M3353 719h0M3049 818h0M3302 698h0M3126 695h0M3434 514h0M3312 612h0M2971 899h0M3269 618h0M3212 622h0M3293 545h0M3427 638h0M3426 616h0M3045 712h0M3573 543h0M3376 480h0M3328 573h0M3072 639h0M3440 736h0M3449 447h0M3140 666h0M3553 442h0M3001 914h0M3213 587h0M3379 566h0M3287 602h0M3502 478h0M3435 565h0M3000 804h0M3086 820h0M3454 628h0M3002 746h0M3158 751h0M3405 559h0M3095 888h0M3007 821h0M3401 642h0M3426 728h0M3467 483h0M3253 832h0M3533 534h0M3408 650h0M3401 576h0M3455 553h0M3188 780h0M3374 549h0M3352 596h0M3371 697h0M3405 521h0M3072 734h0M3153 795h0M3549 431h0M3446 642h0M3174 683h0M3360 538h0M3347 508h0M3467 637h0M3462 443h0M3353 581h0M3375 692h0M3068 748h0M3415 689h0M3103 831h0M3099 625h0M3463 573h0M3354 562h0M3258 634h0M3452 644h0M3364 705h0M3204 847h0M3308 739h0M3191 802h0M3421 506h0M3255 746h0M3361 518h0M3172 754h0M3247 718h0M3127 700h0M3148 819h0M3319 711h0M3314 749h0M3146 785h0M3048 791h0M3308 545h0M3001 834h0M3267 722h0M3504 579h0M3352 579h0M3311 621h0M3429 591h0M3160 588h0M3288 616h0M3156 678h0M3433 657h0M3426 552h0M3099 767h0M2985 794h0M3348 734h0M3312 609h0M3378 649h0M3343 693h0M3196 797h0M3030 815h0M3393 641h0M3135 615h0M3030 740h0M3362 757h0M3233 796h0M3385 767h0M3251 541h0M3207 761h0M3264 734h0M3451 737h0M3236 644h0M3432 636h0M3048 858h0M3487 636h0M3199 748h0M3126 598h0M3202 598h0M3165 763h0M3098 734h0M3018 741h0M3360 675h0M3008 896h0M3238 651h0M3111 799h0M3155 687h0M3308 688h0M3059 832h0M3297 718h0M3429 590h0M3168 817h0M3339 575h0M3506 451h0M3408 543h0M3535 622h0M3027 848h0M3287 577h0M3461 644h0M3185 766h0M3331 562h0M3200 742h0M3410 671h0M3116 713h0M3557 609h0M3332 735h0M3134 662h0M3359 594h0M3129 691h0M2933 801h0M3273 614h0M2958 793h0M2965 889h0M3497 548h0M3300 561h0M3566 482h0M3080 788h0M3133 766h0M3230 723h0M3386 654h0M3163 786h0M3108 723h0M3400 673h0M3159 768h0M3184 597h0M3040 832h0M3248 649h0M3017 835h0M3378 736h0M3253 725h0M3332 706h0M3304 519h0M3220 770h0M3307 733h0M3429 682h0M3205 663h0M3103 804h0M3500 568h0M3271 708h0M3164 767h0M3489 570h0M3207 738h0M3447 593h0M3447 585h0M3247 644h0M3333 684h0M3476 629h0M3167 630h0M3236 812h0M2953 837h0M3387 689h0M3178 757h0M3205 736h0M3303 605h0M3346 535h0M2934 786h0M3327 580h0M3524 557h0M3019 752h0M3414 684h0M3233 622h0M3348 568h0M3245 622h0M3400 718h0M3071 772h0M3443 602h0M3433 657h0M3296 707h0M3386 544h0M3315 707h0M3308 610h0M3157 629h0M3258 765h0M3240 591h0M3004 780h0M2989 812h0M3197 763h0M3362 769h0M3343 574h0M3345 804h0M3477 673h0M3435 578h0M3458 537h0M3055 747h0M3283 719h0M3522 663h0M3295 599h0M3150 856h0M3020 760h0M3540 470h0M3502 593h0M3416 515h0M3155 776h0M3085 862h0M3378 574h0M3285 751h0M3171 690h0M3204 748h0M3399 645h0M3259 608h0M3195 741h0M3434 553h0M3151 753h0M3323 596h0M3133 690h0M3480 555h0M3377 767h0M3360 573h0M2955 842h0M3160 829h0M2988 883h0M3516 627h0M3118 759h0M3177 807h0M3369 686h0M3369 672h0M3108 764h0M3337 554h0M3220 739h0M3182 649h0M3288 629h0M3306 585h0M3319 476h0M3179 661h0M3320 729h0M3287 565h0M3271 603h0M3458 545h0M3265 760h0M3292 588h0M3154 750h0M3399 583h0M3097 724h0M3224 644h0M3196 838h0M3303 723h0M3161 682h0M3296 568h0M3124 764h0M3194 746h0M3519 630h0M3537 608h0M3464 566h0M3105 713h0M3149 849h0M3107 725h0M3136 828h0M3179 799h0M3573 471h0M3329 583h0M3250 785h0M3282 716h0M3373 677h0M3355 562h0M3229 661h0M3143 794h0M3059 790h0M3574 546h0M3365 792h0M3275 536h0M3218 736h0M3233 656h0M2963 741h0M3482 557h0M3088 772h0M3390 682h0M3335 589h0M3503 587h0M3461 660h0M3518 567h0M3067 771h0M3437 568h0M3280 570h0M3565 515h0M3140 754h0M3218 636h0M3289 806h0M3366 487h0M3131 812h0M3423 656h0M3129 705h0M3014 859h0M3507 430h0M3472 559h0M3373 562h0M3532 569h0M3111 673h0M3248 552h0M3077 710h0M3318 708h0M3592 514h0M3199 644h0M3202 771h0M3278 595h0M3212 633h0M3148 780h0M3510 671h0M3112 702h0M3094 758h0M3080 675h0M3148 661h0M3142 699h0M3342 587h0M3104 706h0M3310 624h0M3488 579h0M3176 676h0M3088 711h0M3095 768h0M3256 625h0M3357 509h0M2992 780h0M3051 726h0M3529 623h0M3462 482h0M3108 805h0M3305 742h0M3414 677h0M3439 704h0M3575 487h0M3193 871h0M3538 540h0M3252 746h0M3162 814h0M3255 635h0M3233 733h0M3216 753h0M3194 758h0M3082 870h0M3215 620h0M3292 721h0M3476 583h0M3539 586h0M3533 506h0M3369 657h0M3395 668h0M3200 620h0M3436 603h0M3316 690h0M3179 748h0M3389 556h0M3562 561h0M3271 769h0M3205 752h0M3551 520h0M3214 792h0M3412 703h0M3445 603h0M3188 774h0M3411 590h0M3365 695h0M3338 585h0M3085 679h0M3234 654h0M3384 534h0M3164 604h0M3420 702h0M3268 713h0M3188 767h0M3263 555h0M2940 879h0M3177 806h0M3296 588h0M3567 572h0M3171 749h0M2994 759h0M3302 778h0M3108 842h0M3449 507h0M3256 748h0M3424 613h0M3274 841h0M3017 854h0M3419 521h0M3299 698h0M3405 722h0M3200 795h0M3231 611h0M3250 733h0M3077 809h0M3412 550h0M3279 618h0M3211 668h0M3062 852h0M3392 681h0M3495 686h0M3351 751h0M3423 542h0M2935 900h0M3129 796h0M3116 825h0M3600 565h0M3410 584h0M3347 697h0M3562 590h0M3593 582h0M3588 586h0M3298 562h0M3245 734h0M3260 773h0M3211 823h0M3242 640h0M3316 713h0M3200 864h0M3056 866h0M3512 524h0M3215 736h0M3525 535h0M2987 725h0M3542 543h0M3334 584h0M2982 840h0M3111 712h0M3168 649h0M3247 767h0M3527 570h0M3046 850h0M3012 779h0M3290 601h0M3248 594h0M3425 531h0M3476 540h0M3187 578h0M3211 624h0M3323 681h0M3495 512h0M3479 543h0M3224 652h0M3470 522h0M3272 814h0M3444 728h0M3161 856h0M3225 620h0M3117 595h0M3222 777h0M3396 483h0M3434 665h0M3203 790h0M3387 666h0M3423 628h0M3045 764h0M3344 762h0M3107 713h0M3328 588h0M3073 681h0M3355 581h0M3437 524h0M3082 782h0M3131 765h0M3069 791h0M3303 556h0M3115 891h0M3202 756h0M3088 782h0M3411 628h0M3136 662h0M3294 699h0M3527 529h0M3253 794h0M3447 444h0M3109 766h0M3352 604h0M3391 512h0M3268 728h0M3152 812h0M3407 570h0M3034 844h0M3417 686h0M3243 728h0M3458 563h0M3236 762h0M3455 591h0M3329 754h0M3283 613h0M3362 666h0M3562 582h0M3427 646h0M3455 597h0M3365 674h0M3216 604h0M3375 702h0M3302 734h0M3401 558h0M3042 708h0M3489 628h0M3274 516h0M3127 686h0M3396 580h0M3340 711h0M3404 752h0M3325 700h0M3468 672h0M3159 689h0M3175 669h0M3031 828h0M3337 552h0M3408 666h0M3518 547h0M3367 710h0M3249 615h0M3169 689h0M3431 509h0M3399 667h0M3347 597h0M3351 681h0M3285 579h0M3398 452h0M3143 671h0M3069 669h0M3378 572h0M3552 549h0M3269 598h0M3060 695h0M3278 584h0M3397 671h0M3346 721h0M3212 653h0M3480 629h0M3192 604h0M3123 681h0M3439 470h0M3316 697h0M3440 712h0M3359 685h0M3335 588h0M3398 703h0M3537 544h0M3086 764h0M2976 829h0M3167 647h0M2990 763h0M3508 568h0M3246 644h0M3133 796h0M3273 634h0M3506 581h0M3338 546h0M3154 879h0M3275 704h0M3417 515h0M3124 701h0M3524 600h0M3062 697h0M2949 860h0M3486 595h0M3112 853h0M3105 610h0M3496 454h0M3271 558h0M3035 664h0M3348 607h0M3101 727h0M3218 782h0M3349 685h0M3350 732h0M2940 881h0M3333 589h0M3435 658h0M3502 586h0M3418 571h0M3511 594h0M3347 683h0M3079 794h0M3417 574h0M3074 809h0M3317 715h0M3235 791h0M3353 673h0M3148 766h0M3025 852h0M3169 858h0M3195 610h0M3299 570h0M3184 775h0M3541 601h0M3069 826h0M3314 542h0M3102 676h0M3367 585h0M3391 572h0M3154 797h0M3268 783h0M3263 582h0M3444 532h0M3102 715h0M3065 772h0M3332 584h0M3125 800h0M3264 605h0M3508 531h0M3000 838h0M3363 594h0M3308 519h0M3054 800h0M3418 636h0M3140 796h0M3149 794h0M3344 671h0M3392 659h0M3118 623h0M3302 770h0M3301 754h0" stroke="#5a5aee" stroke-width="5.5" stroke-linecap="round" fill="none" opacity="0.45"/>
<path d="M3447 499h0M3060 801h0M3282 622h0M3186 657h0M3488 521h0M3090 695h0M3318 691h0M3395 573h0M3474 607h0M3048 777h0M3011 875h0M3302 570h0M3219 734h0M3480 472h0M3147 827h0M3085 758h0M3204 658h0M3039 706h0M3270 616h0M3352 545h0M3328 600h0M3148 752h0M3205 609h0M3114 706h0M3554 526h0M3338 551h0M3345 597h0M3420 574h0M3215 664h0M3348 674h0M3274 589h0M3432 646h0M3137 713h0M2959 860h0M3518 484h0M3399 641h0M3389 670h0M3484 526h0M3460 607h0M3066 700h0M3249 610h0M3262 735h0M3383 567h0M3031 789h0M2994 779h0M3050 764h0M3467 622h0M3084 770h0M3207 738h0M3335 548h0M3219 742h0M3278 767h0M3361 512h0M3099 766h0M3323 598h0M3337 714h0M3081 871h0M3278 767h0M3028 808h0M3108 699h0M3081 747h0M3190 793h0M3333 571h0M3335 705h0M3107 710h0M3316 622h0M3479 625h0M3215 743h0M3189 762h0M3078 797h0M3092 777h0M3213 608h0M3256 721h0M3369 584h0M3456 581h0M3204 658h0M3223 743h0M3266 722h0M3203 631h0M3553 530h0M3303 605h0M3275 638h0M3459 621h0M3247 740h0M3320 681h0M3168 773h0M3380 574h0M3454 563h0M3255 747h0M3503 611h0M3113 803h0M3492 622h0M3544 551h0M3126 716h0M3314 720h0M3365 583h0M3330 684h0M3204 647h0M3260 752h0M2959 814h0M3097 788h0M3203 660h0M3402 595h0M3198 825h0M3441 619h0M3487 522h0M3000 766h0M3423 625h0M3098 804h0M3383 542h0M3360 584h0M3228 744h0M3171 746h0M3079 853h0M3211 623h0M3071 788h0M3035 845h0M3186 754h0M3262 597h0M3247 719h0M3091 781h0M3433 566h0M3436 571h0M3190 775h0M3507 581h0M3165 782h0M3237 614h0M3388 559h0M3426 576h0M3254 715h0M3178 687h0M3120 708h0M3291 722h0M3228 643h0M3490 518h0M3493 519h0M3282 625h0M3240 743h0M3221 732h0M3071 778h0M3323 610h0M3090 796h0M3532 587h0M3263 739h0M3267 739h0M3251 607h0M3231 725h0M3430 618h0M3258 770h0M3242 794h0M3190 819h0M3130 668h0M3231 755h0M3394 570h0M3079 853h0M3309 723h0M3325 715h0M3561 476h0M3417 579h0M3460 484h0M3461 549h0M3321 620h0M3302 695h0M3390 568h0M3238 722h0M3393 540h0M3074 816h0M3350 581h0M3291 609h0M3170 751h0M3265 597h0M3287 609h0M3329 580h0M3101 755h0M3153 796h0M3531 560h0M3433 560h0M3191 644h0M3334 680h0M3119 787h0M3134 797h0M3314 691h0M3225 637h0M3182 675h0M3051 798h0M3248 624h0M3446 633h0M3214 658h0M3303 777h0M3092 783h0M3338 587h0M3387 647h0M3564 504h0M3351 560h0M3268 571h0M3464 473h0M3102 699h0M3271 626h0M3136 765h0M3432 595h0M3193 680h0M3386 591h0M3126 808h0M3073 735h0M3341 542h0M3443 561h0M3072 789h0M3463 678h0M3062 817h0M3422 524h0M3351 722h0M3176 683h0M3421 573h0M3202 673h0M3113 649h0M3511 583h0M3150 762h0M3529 535h0M3149 687h0M3111 724h0M3473 538h0M3147 707h0M3406 637h0M3318 615h0M3313 525h0M3181 741h0M3344 704h0M3110 757h0M2954 827h0M3339 683h0M3404 515h0M2992 816h0M3293 714h0M3329 518h0M3338 609h0M3297 712h0M3480 647h0M3370 559h0M3397 717h0M3181 661h0M3356 676h0M3109 773h0M3410 556h0M3190 594h0M3402 592h0M3230 774h0M3231 567h0M3431 524h0M3145 683h0M3115 725h0M3498 648h0M3126 708h0M3202 612h0M3369 501h0M3053 823h0M3269 572h0M3316 702h0M3132 763h0M3066 706h0M3091 691h0M3539 607h0M3348 559h0M3432 693h0M3241 718h0M3388 672h0M3320 698h0M3443 544h0M3310 708h0M3152 785h0M3108 678h0M3424 536h0M3251 648h0M3180 775h0M3256 734h0M3432 584h0M3502 494h0M3268 640h0M3357 549h0M3290 579h0M3180 676h0M3174 748h0M3333 737h0M3075 693h0M3165 776h0M3436 640h0M3249 587h0M3438 486h0M3435 686h0M3068 783h0M3088 736h0M3087 857h0M3403 596h0M3437 679h0M3271 632h0M3357 549h0M3104 686h0M3320 550h0M3057 849h0M3323 724h0M3470 625h0M3530 505h0M3167 692h0M3360 575h0M3121 707h0M3092 855h0M3202 652h0M3313 586h0M3446 486h0M3223 738h0M3095 823h0M3151 702h0M3367 661h0M3160 812h0M3221 738h0M3408 579h0M3132 849h0M3329 616h0M3184 782h0M3470 522h0M3069 785h0M3374 587h0M3412 670h0M3448 609h0M3306 699h0M3200 760h0M3198 645h0M3467 475h0M3388 552h0M3294 733h0M3070 713h0M3409 629h0M3415 625h0M3537 532h0M3139 765h0M3089 754h0M3089 823h0M3230 614h0M3404 590h0M3512 554h0M3045 738h0M3203 758h0M3109 691h0M3067 805h0M3418 585h0M3220 646h0M3349 563h0M3181 780h0M3365 663h0M3383 539h0M3175 805h0M3456 549h0M3278 596h0M3324 582h0M3422 546h0M3187 777h0M3299 601h0M3254 713h0M3449 596h0M3492 507h0M3119 826h0M3126 790h0M3305 734h0M3346 717h0M3358 594h0M3201 759h0M3163 677h0M3121 718h0M3374 601h0M3234 782h0M3568 486h0M3250 749h0M3030 781h0M3241 618h0M3256 593h0M3515 535h0M3366 555h0M3189 794h0M3305 536h0M3417 514h0M3170 801h0M3300 620h0M3005 828h0M3122 758h0M3499 521h0M3467 614h0M3145 802h0M2977 844h0M3232 638h0M3568 537h0M3230 723h0M3164 659h0M3220 595h0M3207 798h0M3334 679h0M3138 759h0M3497 502h0M3048 832h0M3129 767h0M3205 776h0M3219 591h0M3391 586h0M3274 754h0M3342 690h0M3142 670h0M3390 674h0M3353 593h0M3402 652h0M3300 545h0M3581 484h0M3208 785h0M2975 794h0M3463 512h0M3171 802h0M3116 681h0M2996 806h0M3326 734h0M3228 582h0M3340 676h0M3451 595h0M3295 702h0M3305 618h0M3285 628h0M3068 826h0M3118 764h0M3018 812h0M3106 672h0M3432 658h0M3301 702h0M3349 667h0M3227 789h0M3184 666h0M3158 676h0M3076 812h0M3427 578h0M3532 578h0M3416 642h0M3120 679h0M3379 591h0M3422 550h0M3232 763h0M3318 737h0M3237 739h0M2995 822h0M3370 546h0M3383 666h0M3384 718h0M3425 569h0M3206 611h0M3458 553h0M3074 743h0M3384 577h0M3039 808h0M3130 776h0M3459 611h0M3330 682h0M3419 620h0M3535 570h0M3500 594h0M3201 744h0M3438 561h0M3324 703h0M3431 503h0M3422 582h0M3242 647h0M3425 585h0M3364 670h0M3253 649h0M3160 778h0M3296 740h0M3291 623h0M3033 838h0M3303 608h0M3349 687h0M3325 716h0M3375 580h0M3178 610h0M3440 606h0M3271 620h0M3328 740h0M3062 730h0M3324 567h0M3248 640h0M3480 510h0M3218 617h0M3124 707h0M3232 610h0M3232 745h0M3509 484h0M3304 557h0M3421 649h0M3460 560h0M3231 612h0M3371 668h0M3266 630h0M3093 682h0M3228 750h0M3085 830h0M3440 654h0M3060 755h0M3335 577h0M3289 774h0M3462 534h0M3330 592h0M3202 752h0M3285 581h0M3439 598h0M3052 816h0M3488 590h0M3477 512h0M3193 769h0M3140 650h0M3310 611h0M3037 710h0M3057 749h0M3341 524h0M3340 613h0M3327 568h0M3457 563h0M3209 778h0M3465 533h0M3088 778h0M3289 697h0M3198 765h0M3050 859h0M3085 764h0M3173 766h0M3194 740h0M3259 726h0M3343 701h0M3510 557h0M3256 725h0M3391 537h0M3107 668h0M3440 569h0M3052 816h0M3111 725h0M3155 825h0M3216 757h0M3182 681h0M3420 501h0M3207 645h0M3354 591h0M3382 540h0M3292 578h0M3042 773h0M3418 533h0M3175 687h0M3107 739h0M3387 655h0M3203 659h0M3183 685h0M3106 741h0M3291 744h0M3331 708h0M3488 539h0M3349 573h0M3127 827h0M2960 836h0M3304 593h0M3361 556h0M3078 756h0M3341 604h0M3134 670h0M3302 552h0M3437 589h0M3081 834h0M3510 605h0M3050 738h0M3473 547h0M3360 586h0M3513 540h0M3078 738h0M3289 614h0M3215 741h0M3188 633h0M3177 791h0M3448 646h0M3150 820h0M3106 747h0M3184 747h0M3336 707h0M3368 575h0M3385 673h0M3083 789h0M3290 719h0M3137 657h0M3474 656h0M3323 569h0M3510 538h0M3187 776h0M3218 730h0M3302 695h0M3393 575h0M3306 724h0M3150 697h0M3208 599h0M3393 542h0M3366 670h0M3365 708h0M3077 803h0M3134 805h0M3408 668h0M3304 727h0M3249 776h0M3312 730h0M3157 764h0M3435 560h0M3589 531h0M3258 635h0M3183 773h0M3514 538h0M3454 540h0M3170 800h0M3243 722h0M3303 719h0M3015 813h0M3375 568h0M3424 563h0M3403 570h0M3201 769h0M3418 585h0M3214 604h0M3347 557h0M3169 770h0M3343 693h0M3184 782h0M3103 721h0M3448 561h0M3401 528h0M3097 776h0M3466 482h0M3241 748h0M3393 670h0M3104 695h0M3149 791h0M3087 768h0M3080 796h0M3208 657h0M3213 629h0M3216 742h0M3414 489h0M3512 628h0M3339 684h0M3155 683h0M3399 584h0M3397 671h0M3138 686h0M3046 793h0M3378 594h0M3389 653h0M3147 696h0M3265 751h0M3232 737h0M3123 644h0M3013 788h0M3205 667h0M3125 769h0M3251 557h0M3201 674h0M3483 644h0M3457 602h0M3407 640h0M3336 716h0M3441 572h0M3152 704h0M3105 714h0M3179 658h0M3406 637h0M3443 591h0M3157 690h0M3353 718h0M3336 597h0M3237 635h0M3435 488h0M2984 787h0M3451 515h0M3163 784h0M3324 730h0M3443 630h0M3422 550h0M3317 601h0M3324 702h0M3244 755h0M3452 617h0M3473 577h0M3087 777h0M3100 697h0M3484 600h0M3248 777h0M3370 590h0M3128 761h0M3199 748h0M3442 629h0M3503 475h0M3307 729h0M3200 738h0M3223 628h0M3043 800h0M3437 627h0M3406 685h0M3235 645h0M3404 580h0M3401 545h0M3185 673h0M3160 670h0M3299 724h0M2986 753h0M2950 833h0M3221 769h0M3430 552h0M3275 767h0M3188 749h0M3222 660h0M3400 577h0M3532 586h0M3282 774h0M3165 764h0M3188 657h0M3422 627h0M3054 861h0M3432 629h0M3315 713h0M3347 688h0M3375 525h0M3372 536h0M3277 601h0M3320 547h0M3362 598h0M3148 669h0M3410 567h0M3274 631h0M3283 610h0M3369 700h0M3296 554h0M3545 549h0M3071 735h0M3401 653h0M3152 679h0M3246 783h0M3347 727h0M3482 626h0M3449 502h0M3137 823h0M3285 633h0M3304 604h0M3290 754h0M3341 526h0M3360 663h0M3380 692h0M3416 515h0M3356 683h0M3285 596h0M3392 551h0M3059 772h0M3404 647h0M3405 634h0M3138 799h0M3306 741h0M3362 606h0M2983 765h0M3484 625h0M3386 580h0M3080 735h0M3140 689h0M3298 570h0M3083 743h0M3408 567h0M3258 727h0M3449 525h0M3277 636h0M3182 765h0M3269 752h0M3409 627h0M3004 757h0M3420 692h0M3202 782h0M3095 669h0M3457 561h0M3434 693h0M3133 803h0M3003 820h0M3508 586h0M3389 666h0M3384 566h0M3128 854h0M3042 787h0M3368 578h0M3344 687h0M3045 760h0M3091 764h0M3221 734h0M3507 565h0M3253 747h0M3229 749h0M3434 503h0M3122 860h0M3117 719h0M3101 846h0M3293 697h0M3429 524h0M3210 669h0M3240 623h0M3065 823h0M3282 567h0M3495 550h0M3211 747h0M3148 808h0M3230 650h0M3279 575h0M3450 544h0M3508 579h0M3419 585h0M3378 696h0M3549 474h0M3283 754h0M3128 765h0M3487 603h0M3081 777h0M3200 667h0M3259 596h0M3356 582h0M3308 532h0M3047 875h0M3129 787h0M3182 747h0M3356 605h0M3247 775h0M3433 585h0M3206 754h0M3379 524h0M3315 568h0M3507 542h0M3249 791h0M3166 807h0M3241 634h0M3260 630h0M3175 764h0M3095 705h0M3522 587h0M3268 707h0M3400 688h0M3445 560h0M3121 693h0M3067 826h0M3230 616h0M3290 596h0M3303 597h0M3284 614h0M3171 689h0M3223 615h0M3555 499h0M3115 785h0M3324 688h0M3243 559h0M3490 602h0M3138 709h0M3110 787h0M3359 582h0M3453 596h0M3002 755h0M3296 607h0M3076 832h0M3342 598h0M3523 529h0M3203 750h0M3271 722h0M3451 690h0M3173 782h0M3465 608h0M3311 696h0M3380 721h0M3222 622h0M3176 659h0M3120 832h0M3243 731h0M3263 741h0M3448 683h0M3395 704h0M3463 621h0M3199 744h0M3363 589h0M3297 615h0M3126 718h0M3224 782h0M3109 713h0M3238 729h0M3121 694h0M3385 671h0M3373 726h0M3426 591h0M3442 517h0M3309 690h0M3328 682h0M3020 787h0M3320 690h0M3262 713h0M3364 604h0M3341 612h0M3329 723h0M3492 618h0" stroke="#1a30dc" stroke-width="6" stroke-linecap="round" fill="none" opacity="0.85"/>
<path d="M3446 577h0M3108 726h0M3367 592h0M3346 584h0M3176 743h0M3095 741h0M3365 596h0M3379 650h0M3303 691h0M3104 703h0M3164 772h0M3203 642h0M3380 651h0M3124 723h0M3202 643h0M3305 703h0M3266 730h0M3350 695h0M3390 651h0M3323 620h0M3247 738h0M3433 583h0M3209 660h0M3382 651h0M3426 571h0M3060 774h0M3182 775h0M3208 628h0M3309 617h0M3334 693h0M3227 649h0M3449 621h0M3078 767h0M3387 650h0M3187 657h0M3313 688h0M3081 778h0M3204 752h0M3118 720h0M3117 729h0M3433 621h0M3288 627h0M3201 768h0M3238 746h0M3279 609h0M3136 684h0M3352 697h0M3288 714h0M3175 676h0M3417 573h0M3312 686h0M3088 736h0M3070 784h0M3085 766h0M3428 616h0M3148 707h0M3352 608h0M3246 650h0M3451 619h0M3218 665h0M3418 645h0M3368 601h0M3065 779h0M3410 631h0M3297 593h0M3184 743h0M3431 551h0M3118 796h0M3337 682h0M3408 590h0M3319 587h0M3294 698h0M3403 584h0M3338 592h0M3268 714h0M3060 750h0M3101 748h0M3239 636h0M3282 606h0M3244 613h0M3358 604h0M3259 743h0M3216 740h0M3225 648h0M3297 609h0M3288 623h0M3323 689h0M3148 700h0M3196 752h0M3094 768h0M3124 685h0M3261 634h0M3307 612h0M3135 796h0M3390 583h0M3404 645h0M3313 688h0M3196 741h0M3387 598h0M3277 606h0M3113 718h0M3282 701h0M3271 621h0M3447 609h0M3360 562h0M3249 651h0M3272 717h0M3376 602h0M3282 713h0M3341 677h0M3069 736h0M3214 624h0M3276 615h0M3144 762h0M3363 673h0M3350 675h0M3140 711h0M3310 689h0M3444 558h0M3457 594h0M3131 760h0M3165 786h0M3346 701h0M3405 636h0M3194 661h0M3283 716h0M3369 595h0M3385 572h0M3194 639h0M3223 640h0M3161 756h0M3254 638h0M3211 665h0M3292 716h0M3185 758h0M3193 674h0M3126 704h0M3378 581h0M3350 670h0M3323 680h0M3286 735h0M3356 663h0M3290 732h0M3378 659h0M3268 742h0M3106 730h0M3438 599h0M3112 755h0M3326 607h0M3219 764h0M3121 717h0M3271 625h0M3088 777h0M3216 647h0M3450 623h0M3309 727h0M3459 578h0M3442 569h0M3351 586h0M3084 750h0M3119 696h0M3262 637h0M3318 608h0M3123 781h0M3319 621h0M3110 758h0M3161 749h0M3241 736h0M3059 762h0M3210 671h0M3295 597h0M3299 699h0M3312 609h0M3400 583h0M3162 757h0M3098 790h0M3457 607h0M3438 616h0M3246 652h0M3231 726h0M3444 575h0M3094 795h0M3161 664h0M3337 609h0M3258 647h0M3212 661h0M3243 719h0M3319 712h0M3452 554h0M3103 793h0M3234 657h0M3196 760h0M3211 655h0M3337 568h0M3250 649h0M3375 665h0M3228 634h0M3354 682h0M3205 746h0M3241 741h0M3125 786h0M3297 695h0M3318 616h0M3375 586h0M3275 620h0M3295 695h0M3319 608h0M3179 750h0M3424 641h0M3186 743h0M3386 583h0M3162 754h0M3430 580h0M3320 608h0M3412 570h0M3283 611h0M3111 780h0M3474 569h0M3319 619h0M3216 773h0M3334 599h0M3215 737h0M3425 554h0M3234 735h0M3062 766h0M3405 666h0M3454 610h0M3327 614h0M3249 737h0M3259 634h0M3323 695h0M3269 635h0M3198 668h0M3119 697h0M3217 639h0M3226 742h0M3292 701h0M3362 702h0M3062 791h0M3411 594h0M3149 697h0M3378 653h0M3283 735h0M3368 577h0M3070 773h0M3238 741h0M3269 620h0M3197 739h0M3104 727h0M3222 727h0M3261 623h0M3178 682h0M3280 724h0M3337 705h0M3292 603h0M3110 719h0M3107 738h0M3175 664h0M3391 577h0M3146 683h0M3157 758h0M3222 637h0M3374 580h0M3297 694h0M3247 734h0M3340 692h0M3370 599h0M3247 625h0M3280 627h0M3210 734h0M3284 713h0M3305 690h0M3102 744h0M3274 632h0M3106 746h0M3352 701h0M3091 741h0M3294 598h0M3242 609h0M3155 678h0" stroke="#1432dc" stroke-width="7.5" stroke-linecap="round" fill="none" opacity="0.9"/>
<path d="M3443 623h0M3430 592h0M3437 604h0M3137 759h0M3424 584h0M3273 621h0M3339 694h0M3194 652h0M3175 754h0M3175 671h0M3146 761h0M3411 662h0M3447 606h0M3433 584h0M3328 595h0M3092 723h0M3104 774h0M3322 604h0M3433 596h0M3407 655h0M3368 667h0M3396 577h0M3428 588h0M3268 621h0M3221 650h0M3405 582h0M3369 666h0M3146 773h0M3115 771h0M3437 587h0M3116 715h0M3159 755h0M3442 604h0M3393 584h0M3299 621h0M3417 632h0M3369 587h0M3100 722h0M3416 587h0M3155 759h0M3407 650h0M3294 707h0M3370 671h0M3452 590h0M3139 702h0M3077 735h0M3435 593h0M3427 583h0M3419 579h0M3316 705h0M3198 741h0M3095 719h0M3101 766h0M3135 759h0M3434 606h0M3450 602h0M3259 624h0M3269 717h0M3099 741h0M3099 745h0M3414 585h0M3112 722h0M3223 658h0M3332 602h0M3197 742h0M3392 591h0M3120 715h0M3225 732h0M3215 657h0M3137 762h0M3312 610h0M3422 588h0M3385 593h0M3134 707h0M3211 662h0M3100 742h0M3436 624h0M3426 582h0M3445 589h0M3384 682h0M3400 589h0M3136 697h0M3097 736h0M3101 741h0M3221 740h0M3291 708h0M3336 681h0M3432 593h0M3144 759h0M3094 735h0M3416 574h0M3437 601h0M3119 713h0M3338 598h0M3419 582h0M3128 769h0M3160 766h0M3411 634h0M3413 588h0M3101 759h0M3101 741h0M3117 762h0M3236 730h0M3101 740h0M3450 602h0M3425 580h0M3439 589h0M3349 599h0M3096 751h0M3094 755h0M3356 591h0M3369 672h0M3335 690h0M3369 586h0M3440 621h0M3391 590h0M3148 681h0M3170 685h0M3113 766h0M3115 721h0M3170 761h0M3124 704h0M3136 765h0M3178 680h0M3189 672h0M3202 742h0M3422 589h0M3100 751h0M3103 734h0M3113 770h0M3098 750h0M3112 726h0M3134 709h0M3443 594h0M3373 596h0M3098 744h0M3334 605h0M3314 700h0M3217 740h0M3160 760h0M3188 752h0M3164 768h0M3262 613h0M3266 624h0M3160 679h0M3431 595h0M3101 748h0M3193 660h0M3363 694h0M3129 692h0M3138 780h0M3222 650h0M3404 649h0M3287 624h0M3429 592h0M3091 760h0M3096 721h0M3116 764h0M3368 674h0M3435 597h0M3194 646h0M3097 743h0M3245 731h0M3296 613h0M3093 745h0M3120 710h0M3434 619h0M3113 723h0M3190 665h0M3227 653h0M3112 764h0M3121 717h0M3415 632h0M3350 674h0M3096 742h0M3220 737h0M3254 730h0M3085 746h0M3089 744h0M3201 652h0M3123 709h0M3278 621h0M3268 722h0M3096 755h0M3097 748h0M3328 581h0M3130 708h0M3323 609h0M3215 738h0M3169 681h0M3325 687h0M3173 672h0M3097 747h0M3394 591h0M3087 741h0M3331 609h0M3324 610h0M3158 670h0M3099 768h0M3108 762h0M3321 612h0M3193 660h0M3169 756h0M3301 618h0M3261 716h0M3282 623h0M3411 653h0M3133 761h0M3109 731h0M3389 669h0M3418 627h0M3416 589h0M3428 630h0M3157 657h0M3097 767h0M3125 712h0M3131 763h0M3326 693h0M3221 659h0M3367 595h0M3439 613h0M3246 620h0M3421 645h0M3124 711h0M3141 764h0M3278 738h0M3138 760h0M3341 583h0M3104 754h0M3344 603h0M3106 763h0M3132 762h0M3440 605h0M3439 602h0M3347 599h0M3160 688h0M3208 739h0M3435 577h0M3164 765h0M3152 697h0M3087 745h0M3108 723h0M3241 727h0M3098 747h0M3095 757h0M3101 732h0M3103 729h0M3135 708h0M3419 644h0M3169 761h0M3407 579h0M3221 645h0M3259 726h0M3105 728h0M3324 694h0M3430 584h0M3100 748h0M3431 618h0M3363 592h0M3314 709h0M3118 720h0M3401 590h0M3140 768h0M3133 776h0M3440 605h0M3219 735h0M3313 612h0M3172 755h0M3282 625h0M3369 592h0M3284 616h0M3432 574h0M3395 583h0M3430 590h0M3118 709h0M3116 711h0M3413 582h0M3099 740h0M3406 583h0M3124 766h0M3106 729h0M3384 666h0M3162 690h0M3248 726h0M3367 674h0M3090 734h0M3366 677h0M3101 743h0M3400 648h0M3091 734h0M3175 682h0M3451 623h0M3269 717h0M3370 662h0M3141 699h0M3213 741h0M3103 754h0M3412 646h0M3299 610h0M3386 658h0M3227 730h0M3285 704h0M3448 596h0M3319 604h0M3128 686h0M3397 644h0M3417 585h0M3120 716h0M3247 626h0M3430 589h0M3100 763h0M3119 712h0M3207 737h0M3156 675h0M3430 627h0M3123 763h0M3097 747h0M3341 689h0M3401 582h0M3129 766h0M3171 680h0M3377 588h0M3245 739h0M3135 771h0M3237 745h0M3137 763h0M3103 727h0M3113 723h0M3391 582h0M3312 693h0M3328 612h0M3097 747h0M3423 627h0M3280 623h0M3358 597h0M3117 718h0M3107 716h0M3446 611h0M3355 671h0M3400 582h0M3205 748h0M3115 768h0M3109 758h0M3275 717h0M3428 588h0M3423 580h0M3399 578h0M3160 683h0M3406 587h0M3294 620h0M3213 651h0M3420 589h0M3141 702h0M3445 617h0M3444 591h0M3399 645h0M3196 670h0M3412 638h0M3379 660h0M3382 581h0M3189 667h0M3121 761h0M3429 624h0M3422 627h0M3440 620h0M3098 733h0M3423 622h0M3132 768h0M3195 656h0M3221 742h0M3438 627h0M3108 761h0M3437 612h0M3220 745h0M3328 606h0M3137 699h0M3219 735h0M3173 754h0M3096 754h0M3145 761h0M3215 642h0M3417 578h0M3116 719h0M3416 581h0M3084 756h0M3279 630h0M3110 720h0M3110 763h0M3429 584h0M3185 757h0M3098 764h0M3118 712h0M3109 766h0M3096 728h0M3433 594h0M3416 639h0M3407 639h0M3434 607h0M3453 592h0M3356 671h0M3441 590h0M3434 623h0M3346 683h0M3186 750h0M3308 603h0M3191 671h0M3439 601h0M3160 687h0M3107 714h0M3128 769h0M3412 636h0M3228 731h0M3399 578h0M3370 593h0M3405 666h0M3236 642h0M3413 642h0M3090 757h0M3419 582h0M3290 617h0M3357 597h0M3209 652h0M3144 758h0M3159 760h0M3107 721h0M3388 658h0M3097 728h0M3096 759h0M3434 596h0M3225 740h0M3121 718h0M3217 737h0M3184 747h0M3104 769h0M3444 612h0M3200 741h0M3407 580h0M3415 586h0M3080 761h0M3119 708h0" stroke="#1432dc" stroke-width="8" stroke-linecap="round" fill="none" opacity="0.95"/>
<g filter="url(#rg2)"><path d="M3436.7 596.2L3438.1 600.6L3438.0 604.8L3436.7 609.3L3434.2 614.0L3430.5 619.1L3425.7 624.5L3419.8 630.2L3412.8 636.2L3404.8 642.4L3395.7 648.9L3385.7 655.6L3374.6 662.5L3362.7 669.5L3349.7 676.8L3335.8 684.2L3320.8 691.9L3304.4 699.9L3284.2 709.4L3263.9 718.7L3247.2 726.0L3231.6 732.6L3217.0 738.4L3203.1 743.6L3190.0 748.2L3177.6 752.2L3166.0 755.5L3155.2 758.3L3145.2 760.4L3136.2 761.9L3128.0 762.7L3120.8 762.9L3114.5 762.4L3109.3 761.3L3105.1 759.4L3101.8 756.7L3099.3 752.8L3097.9 748.4L3098.0 744.2L3099.3 739.7L3101.8 735.0L3105.5 729.9L3110.3 724.5L3116.2 718.8L3123.2 712.8L3131.2 706.6L3140.3 700.1L3150.3 693.4L3161.4 686.5L3173.3 679.5L3186.3 672.2L3200.2 664.8L3215.2 657.1L3231.6 649.1L3251.8 639.6L3272.1 630.3L3288.8 623.0L3304.4 616.4L3319.0 610.6L3332.9 605.4L3346.0 600.8L3358.4 596.8L3370.0 593.5L3380.8 590.7L3390.8 588.6L3399.8 587.1L3408.0 586.3L3415.2 586.1L3421.5 586.6L3426.7 587.7L3430.9 589.6L3434.2 592.3Z" fill="#1432dc" /></g>
<g filter="url(#b1)">
<path d="M3431.3 598.7L3432.3 602.3L3432.0 605.9L3430.4 609.6L3427.8 613.8L3424.1 618.2L3419.2 623.0L3413.3 628.1L3406.4 633.5L3398.4 639.2L3389.5 645.2L3379.7 651.4L3368.9 657.8L3357.2 664.5L3344.6 671.3L3331.1 678.4L3316.5 685.7L3300.6 693.4L3281.1 702.6L3261.4 711.6L3245.3 718.8L3230.3 725.2L3216.1 731.0L3202.8 736.1L3190.2 740.8L3178.3 744.9L3167.2 748.4L3156.9 751.4L3147.4 753.8L3138.8 755.6L3131.1 756.8L3124.3 757.4L3118.5 757.4L3113.6 756.7L3109.7 755.4L3106.8 753.4L3104.7 750.3L3103.7 746.7L3104.0 743.1L3105.6 739.4L3108.2 735.2L3111.9 730.8L3116.8 726.0L3122.7 720.9L3129.6 715.5L3137.6 709.8L3146.5 703.8L3156.3 697.6L3167.1 691.2L3178.8 684.5L3191.4 677.7L3204.9 670.6L3219.5 663.3L3235.4 655.6L3254.9 646.4L3274.6 637.4L3290.7 630.2L3305.7 623.8L3319.9 618.0L3333.2 612.9L3345.8 608.2L3357.7 604.1L3368.8 600.6L3379.1 597.6L3388.6 595.2L3397.2 593.4L3404.9 592.2L3411.7 591.6L3417.5 591.6L3422.4 592.3L3426.3 593.6L3429.2 595.6Z" fill="#1e50e0" />
<path d="M3429.5 599.6L3430.4 603.0L3430.0 606.4L3428.5 610.0L3425.8 614.0L3422.1 618.3L3417.2 623.0L3411.4 627.9L3404.5 633.2L3396.6 638.8L3387.8 644.6L3378.0 650.7L3367.3 657.0L3355.7 663.5L3343.2 670.3L3329.9 677.2L3315.4 684.5L3299.7 692.1L3280.4 701.2L3261.0 710.1L3245.0 717.2L3230.2 723.5L3216.2 729.2L3203.0 734.4L3190.6 739.0L3178.8 743.1L3167.9 746.7L3157.7 749.7L3148.4 752.1L3139.9 754.0L3132.3 755.2L3125.6 755.9L3119.9 756.0L3115.2 755.5L3111.4 754.3L3108.6 752.4L3106.5 749.4L3105.6 746.0L3106.0 742.6L3107.5 739.0L3110.2 735.0L3113.9 730.7L3118.8 726.0L3124.6 721.1L3131.5 715.8L3139.4 710.2L3148.2 704.4L3158.0 698.3L3168.7 692.0L3180.3 685.5L3192.8 678.7L3206.1 671.8L3220.6 664.5L3236.3 656.9L3255.6 647.8L3275.0 638.9L3291.0 631.8L3305.8 625.5L3319.8 619.8L3333.0 614.6L3345.4 610.0L3357.2 605.9L3368.1 602.3L3378.3 599.3L3387.6 596.9L3396.1 595.0L3403.7 593.8L3410.4 593.1L3416.1 593.0L3420.8 593.5L3424.6 594.7L3427.4 596.6Z" fill="#35c4ea" />
<path d="M3425.8 601.2L3426.6 604.3L3426.1 607.3L3424.5 610.6L3421.7 614.2L3418.0 618.2L3413.1 622.5L3407.3 627.2L3400.5 632.1L3392.7 637.4L3384.0 643.0L3374.4 648.8L3363.9 654.8L3352.5 661.1L3340.3 667.6L3327.1 674.3L3313.0 681.3L3297.6 688.8L3278.7 697.6L3259.8 706.3L3244.2 713.3L3229.7 719.6L3216.1 725.2L3203.2 730.4L3191.1 735.0L3179.7 739.1L3169.0 742.7L3159.2 745.8L3150.1 748.4L3141.9 750.4L3134.6 751.8L3128.2 752.7L3122.7 753.0L3118.2 752.7L3114.6 751.8L3112.0 750.3L3110.2 747.8L3109.4 744.7L3109.9 741.7L3111.5 738.4L3114.3 734.8L3118.0 730.8L3122.9 726.5L3128.7 721.8L3135.5 716.9L3143.3 711.6L3152.0 706.0L3161.6 700.2L3172.1 694.2L3183.5 687.9L3195.7 681.4L3208.9 674.7L3223.0 667.7L3238.4 660.2L3257.3 651.4L3276.2 642.7L3291.8 635.7L3306.3 629.4L3319.9 623.8L3332.8 618.6L3344.9 614.0L3356.3 609.9L3367.0 606.3L3376.8 603.2L3385.9 600.6L3394.1 598.6L3401.4 597.2L3407.8 596.3L3413.3 596.0L3417.8 596.3L3421.4 597.2L3424.0 598.7Z" fill="#7af090" />
<path d="M3422.2 602.9L3422.8 605.6L3422.2 608.3L3420.5 611.3L3417.8 614.7L3414.0 618.4L3409.3 622.5L3403.5 626.9L3396.8 631.6L3389.1 636.6L3380.5 641.9L3371.1 647.5L3360.8 653.3L3349.6 659.4L3337.6 665.7L3324.8 672.2L3311.0 679.0L3295.9 686.3L3277.5 694.9L3259.0 703.4L3243.7 710.3L3229.6 716.4L3216.3 722.0L3203.8 727.1L3192.0 731.7L3180.9 735.8L3170.5 739.4L3160.9 742.6L3152.2 745.2L3144.2 747.3L3137.1 748.8L3130.9 749.9L3125.6 750.3L3121.3 750.3L3117.9 749.6L3115.4 748.3L3113.8 746.1L3113.2 743.4L3113.8 740.7L3115.5 737.7L3118.2 734.3L3122.0 730.6L3126.7 726.5L3132.5 722.1L3139.2 717.4L3146.9 712.4L3155.5 707.1L3164.9 701.5L3175.2 695.7L3186.4 689.6L3198.4 683.3L3211.2 676.8L3225.0 670.0L3240.1 662.7L3258.5 654.1L3277.0 645.6L3292.3 638.7L3306.4 632.6L3319.7 627.0L3332.2 621.9L3344.0 617.3L3355.1 613.2L3365.5 609.6L3375.1 606.4L3383.8 603.8L3391.8 601.7L3398.9 600.2L3405.1 599.1L3410.4 598.7L3414.7 598.7L3418.1 599.4L3420.6 600.7Z" fill="#c6f23e" />
<path d="M3418.6 604.6L3419.1 607.0L3418.4 609.5L3416.7 612.3L3414.0 615.5L3410.2 619.0L3405.5 622.9L3399.8 627.0L3393.2 631.5L3385.7 636.3L3377.3 641.4L3368.0 646.8L3357.9 652.4L3347.0 658.3L3335.3 664.4L3322.7 670.7L3309.2 677.3L3294.5 684.4L3276.5 692.8L3258.4 701.1L3243.5 707.8L3229.8 713.9L3216.8 719.4L3204.6 724.4L3193.1 728.9L3182.3 733.0L3172.2 736.6L3162.9 739.8L3154.4 742.4L3146.7 744.6L3139.8 746.2L3133.8 747.3L3128.7 747.9L3124.5 748.0L3121.3 747.5L3118.9 746.4L3117.4 744.4L3116.9 742.0L3117.6 739.5L3119.3 736.7L3122.0 733.5L3125.8 730.0L3130.5 726.1L3136.2 722.0L3142.8 717.5L3150.3 712.7L3158.7 707.6L3168.0 702.2L3178.1 696.6L3189.0 690.7L3200.7 684.6L3213.3 678.3L3226.8 671.7L3241.5 664.6L3259.5 656.2L3277.6 647.9L3292.5 641.2L3306.2 635.1L3319.2 629.6L3331.4 624.6L3342.9 620.1L3353.7 616.0L3363.8 612.4L3373.1 609.2L3381.6 606.6L3389.3 604.4L3396.2 602.8L3402.2 601.7L3407.3 601.1L3411.5 601.0L3414.7 601.5L3417.1 602.6Z" fill="#f8e61e" />
<path d="M3405.9 610.5L3406.3 612.5L3405.6 614.6L3403.9 617.1L3401.4 619.8L3397.9 622.9L3393.5 626.3L3388.2 630.0L3382.1 634.0L3375.2 638.3L3367.4 642.9L3358.9 647.7L3349.6 652.8L3339.6 658.1L3328.9 663.6L3317.3 669.4L3305.0 675.4L3291.5 681.8L3275.0 689.6L3258.4 697.2L3244.8 703.3L3232.2 708.9L3220.4 713.9L3209.2 718.6L3198.7 722.8L3188.9 726.6L3179.7 730.0L3171.2 733.0L3163.4 735.5L3156.4 737.6L3150.2 739.2L3144.7 740.4L3140.1 741.1L3136.4 741.2L3133.5 740.9L3131.4 740.1L3130.1 738.5L3129.7 736.5L3130.4 734.4L3132.1 731.9L3134.6 729.2L3138.1 726.1L3142.5 722.7L3147.8 719.0L3153.9 715.0L3160.8 710.7L3168.6 706.1L3177.1 701.3L3186.4 696.2L3196.4 690.9L3207.1 685.4L3218.7 679.6L3231.0 673.6L3244.5 667.2L3261.0 659.4L3277.6 651.8L3291.2 645.7L3303.8 640.1L3315.6 635.1L3326.8 630.4L3337.3 626.2L3347.1 622.4L3356.3 619.0L3364.8 616.0L3372.6 613.5L3379.6 611.4L3385.8 609.8L3391.3 608.6L3395.9 607.9L3399.6 607.8L3402.5 608.1L3404.6 608.9Z" fill="#ff8a14" />
<path d="M3389.5 618.1L3389.8 619.8L3389.2 621.6L3387.7 623.6L3385.4 626.0L3382.3 628.7L3378.5 631.6L3373.8 634.8L3368.4 638.3L3362.2 642.1L3355.4 646.1L3347.9 650.3L3339.7 654.7L3330.8 659.4L3321.4 664.2L3311.2 669.3L3300.3 674.6L3288.4 680.3L3273.9 687.1L3259.3 693.8L3247.3 699.3L3236.2 704.2L3225.7 708.6L3215.9 712.8L3206.6 716.5L3198.0 719.9L3189.9 722.9L3182.4 725.6L3175.6 727.8L3169.4 729.7L3163.9 731.2L3159.2 732.3L3155.2 732.9L3151.9 733.1L3149.3 732.9L3147.6 732.2L3146.5 730.9L3146.2 729.2L3146.8 727.4L3148.3 725.4L3150.6 723.0L3153.7 720.3L3157.5 717.4L3162.2 714.2L3167.6 710.7L3173.8 706.9L3180.6 702.9L3188.1 698.7L3196.3 694.3L3205.2 689.6L3214.6 684.8L3224.8 679.7L3235.7 674.4L3247.6 668.7L3262.1 661.9L3276.7 655.2L3288.7 649.7L3299.8 644.8L3310.3 640.4L3320.1 636.2L3329.4 632.5L3338.0 629.1L3346.1 626.1L3353.6 623.4L3360.4 621.2L3366.6 619.3L3372.1 617.8L3376.8 616.7L3380.8 616.1L3384.1 615.9L3386.7 616.1L3388.4 616.8Z" fill="#f2300e" />
<path d="M3356.9 633.2L3357.1 634.4L3356.5 635.6L3355.4 637.0L3353.7 638.6L3351.4 640.5L3348.5 642.6L3345.1 644.8L3341.1 647.3L3336.6 650.0L3331.5 652.9L3326.0 655.9L3320.0 659.1L3313.5 662.5L3306.6 666.0L3299.1 669.7L3291.1 673.6L3282.4 677.7L3271.8 682.7L3261.1 687.6L3252.3 691.6L3244.2 695.2L3236.6 698.5L3229.4 701.5L3222.7 704.3L3216.4 706.8L3210.5 709.1L3205.0 711.1L3200.1 712.8L3195.6 714.2L3191.6 715.4L3188.2 716.2L3185.3 716.8L3182.9 717.1L3181.1 717.0L3179.9 716.6L3179.1 715.8L3178.9 714.6L3179.5 713.4L3180.6 712.0L3182.3 710.4L3184.6 708.5L3187.5 706.4L3190.9 704.2L3194.9 701.7L3199.4 699.0L3204.5 696.1L3210.0 693.1L3216.0 689.9L3222.5 686.5L3229.4 683.0L3236.9 679.3L3244.9 675.4L3253.6 671.3L3264.2 666.3L3274.9 661.4L3283.7 657.4L3291.8 653.8L3299.4 650.5L3306.6 647.5L3313.3 644.7L3319.6 642.2L3325.5 639.9L3331.0 637.9L3335.9 636.2L3340.4 634.8L3344.4 633.6L3347.8 632.8L3350.7 632.2L3353.1 631.9L3354.9 632.0L3356.1 632.4Z" fill="#c21408" />
<path d="M3318.8 650.9L3318.9 651.5L3318.6 652.2L3317.9 653.0L3316.9 653.9L3315.6 655.0L3314.0 656.2L3312.0 657.5L3309.7 658.9L3307.1 660.4L3304.3 662.0L3301.1 663.8L3297.7 665.6L3294.0 667.5L3290.0 669.5L3285.7 671.6L3281.2 673.8L3276.2 676.2L3270.1 679.0L3264.0 681.8L3259.0 684.1L3254.4 686.2L3250.0 688.1L3245.9 689.8L3242.1 691.4L3238.4 692.9L3235.1 694.2L3232.0 695.3L3229.1 696.3L3226.6 697.1L3224.3 697.8L3222.4 698.3L3220.7 698.6L3219.4 698.8L3218.3 698.8L3217.6 698.5L3217.2 698.1L3217.1 697.5L3217.4 696.8L3218.1 696.0L3219.1 695.1L3220.4 694.0L3222.0 692.8L3224.0 691.5L3226.3 690.1L3228.9 688.6L3231.7 687.0L3234.9 685.2L3238.3 683.4L3242.0 681.5L3246.0 679.5L3250.3 677.4L3254.8 675.2L3259.8 672.8L3265.9 670.0L3272.0 667.2L3277.0 664.9L3281.6 662.8L3286.0 660.9L3290.1 659.2L3293.9 657.6L3297.6 656.1L3300.9 654.8L3304.0 653.7L3306.9 652.7L3309.4 651.9L3311.7 651.2L3313.6 650.7L3315.3 650.4L3316.6 650.2L3317.7 650.2L3318.4 650.5Z" fill="#8e0c0a" />
</g>
</g>
<clipPath id="d1"><rect x="632" y="1964.4" width="697.4" height="522.3"/></clipPath><g clip-path="url(#d1)">
<g filter="url(#b1)">
<path d="M844.5 2410.4C844.9 2402.0 847.1 2384.3 853.7 2366.8C860.4 2349.3 874.2 2330.1 884.4 2305.4C894.7 2280.7 907.5 2239.7 915.2 2218.4C922.8 2197.0 924.5 2189.4 930.5 2177.4C936.5 2165.5 945.0 2155.2 951.0 2146.7C957.0 2138.2 960.4 2130.9 966.4 2126.2C972.3 2121.5 978.3 2121.1 986.8 2118.5C995.4 2116.0 1006.5 2116.4 1017.6 2110.9C1028.6 2105.3 1042.3 2094.6 1053.4 2085.3C1064.5 2075.9 1074.3 2063.2 1084.1 2054.5C1093.9 2045.8 1106.6 2033.0 1112.3 2033.0C1117.9 2033.0 1118.3 2045.0 1117.9 2054.5C1117.5 2064.1 1114.5 2076.7 1109.7 2090.4C1104.9 2104.0 1096.9 2120.2 1089.2 2136.5C1081.5 2152.7 1071.3 2172.3 1063.6 2187.7C1055.9 2203.0 1049.1 2215.8 1043.1 2228.6C1037.2 2241.4 1032.9 2252.5 1027.8 2264.4C1022.7 2276.4 1017.6 2292.1 1012.4 2300.3C1007.3 2308.5 1003.9 2310.2 997.1 2313.6C990.2 2317.0 980.9 2317.0 971.5 2320.8C962.1 2324.5 951.0 2329.3 940.8 2336.1C930.5 2342.9 919.4 2353.2 910.0 2361.7C900.7 2370.2 892.1 2379.1 884.4 2387.3C876.8 2395.5 869.5 2405.9 864.0 2410.9C858.4 2415.8 854.4 2417.1 851.2 2417.0C847.9 2416.9 844.1 2418.7 844.5 2410.4Z" fill="#74ee98" stroke="#1432dc" stroke-width="5"/>
<path d="M850.0 2402.9C850.4 2394.9 852.4 2377.9 858.8 2361.1C865.2 2344.3 878.5 2325.9 888.3 2302.2C898.1 2278.4 910.4 2239.1 917.8 2218.6C925.2 2198.1 926.8 2190.8 932.5 2179.3C938.3 2167.8 946.5 2158.0 952.2 2149.8C957.9 2141.6 961.2 2134.7 966.9 2130.1C972.7 2125.6 978.4 2125.2 986.6 2122.8C994.8 2120.3 1005.4 2120.7 1016.1 2115.4C1026.7 2110.1 1039.8 2099.8 1050.5 2090.8C1061.1 2081.8 1070.5 2069.7 1080.0 2061.3C1089.4 2053.0 1101.6 2040.7 1107.0 2040.7C1112.4 2040.7 1112.8 2052.2 1112.4 2061.3C1112.0 2070.5 1109.1 2082.6 1104.5 2095.7C1100.0 2108.9 1092.3 2124.4 1084.9 2140.0C1077.5 2155.5 1067.7 2174.4 1060.3 2189.1C1052.9 2203.9 1046.4 2216.2 1040.7 2228.4C1034.9 2240.7 1030.8 2251.4 1025.9 2262.8C1021.0 2274.3 1016.1 2289.4 1011.2 2297.2C1006.2 2305.1 1003.0 2306.8 996.4 2310.0C989.9 2313.3 980.9 2313.3 971.8 2316.9C962.8 2320.5 952.2 2325.1 942.4 2331.7C932.5 2338.2 921.9 2348.0 912.9 2356.2C903.9 2364.4 895.7 2372.9 888.3 2380.8C880.9 2388.7 874.0 2398.7 868.6 2403.4C863.3 2408.2 859.5 2409.4 856.3 2409.3C853.2 2409.2 849.5 2410.9 850.0 2402.9Z" fill="#9cf266"/>
<path d="M856.1 2394.6C856.5 2386.9 858.4 2370.7 864.5 2354.7C870.6 2338.7 883.3 2321.2 892.6 2298.5C902.0 2275.9 913.7 2238.4 920.7 2218.9C927.8 2199.4 929.3 2192.3 934.8 2181.4C940.2 2170.5 948.1 2161.1 953.5 2153.3C959.0 2145.5 962.1 2138.9 967.6 2134.6C973.0 2130.3 978.5 2129.9 986.3 2127.5C994.1 2125.2 1004.3 2125.6 1014.4 2120.5C1024.6 2115.4 1037.1 2105.7 1047.2 2097.1C1057.4 2088.5 1066.3 2077.0 1075.3 2069.0C1084.3 2061.0 1095.9 2049.3 1101.1 2049.3C1106.2 2049.3 1106.6 2060.2 1106.2 2069.0C1105.8 2077.7 1103.1 2089.3 1098.7 2101.8C1094.4 2114.3 1087.0 2129.1 1080.0 2143.9C1073.0 2158.8 1063.6 2176.7 1056.6 2190.8C1049.6 2204.8 1043.3 2216.5 1037.8 2228.3C1032.4 2240.0 1028.5 2250.1 1023.8 2261.0C1019.1 2272.0 1014.4 2286.3 1009.7 2293.8C1005.0 2301.3 1001.9 2302.9 995.7 2306.0C989.4 2309.1 980.8 2309.1 972.3 2312.6C963.7 2316.0 953.5 2320.4 944.2 2326.6C934.8 2332.9 924.6 2342.2 916.0 2350.1C907.5 2357.9 899.7 2366.0 892.6 2373.5C885.6 2381.0 879.0 2390.5 873.9 2395.0C868.8 2399.6 865.1 2400.7 862.2 2400.6C859.2 2400.6 855.7 2402.2 856.1 2394.6Z" fill="#c2f240"/>
<path d="M880.5 2365.3C881.4 2352.5 889.8 2315.6 897.3 2291.0C904.9 2266.4 915.2 2240.3 925.5 2217.8C935.8 2195.2 948.0 2168.9 959.3 2155.8C970.6 2142.7 979.9 2145.5 993.1 2138.9C1006.2 2132.3 1024.1 2125.8 1038.1 2116.4C1052.2 2107.0 1069.5 2084.5 1077.6 2082.6C1085.6 2080.7 1087.5 2092.9 1086.6 2105.1C1085.6 2117.3 1079.1 2137.0 1071.9 2155.8C1064.8 2174.6 1053.1 2198.0 1043.8 2217.8C1034.4 2237.5 1024.1 2259.1 1015.6 2274.1C1007.2 2289.1 1003.4 2299.4 993.1 2307.9C982.8 2316.3 966.8 2317.2 953.7 2324.8C940.5 2332.3 924.6 2345.8 914.2 2352.9C903.9 2360.0 897.3 2365.5 891.7 2367.6C886.1 2369.6 879.5 2378.1 880.5 2365.3Z" fill="#f4ea22"/>
<path d="M885.0 2358.9C885.9 2346.7 894.0 2311.4 901.1 2287.9C908.3 2264.5 918.2 2239.6 928.0 2218.1C937.9 2196.6 949.5 2171.5 960.3 2158.9C971.0 2146.4 980.0 2149.1 992.5 2142.8C1005.1 2136.5 1022.1 2130.3 1035.5 2121.3C1049.0 2112.3 1065.4 2090.8 1073.2 2089.0C1080.9 2087.3 1082.6 2098.9 1081.8 2110.6C1080.9 2122.2 1074.6 2141.0 1067.8 2158.9C1061.0 2176.8 1049.9 2199.2 1040.9 2218.1C1031.9 2236.9 1022.1 2257.5 1014.0 2271.8C1006.0 2286.2 1002.4 2296.0 992.5 2304.1C982.7 2312.1 967.4 2313.0 954.9 2320.2C942.3 2327.4 927.1 2340.3 917.3 2347.1C907.4 2353.9 901.1 2359.1 895.8 2361.0C890.4 2363.0 884.1 2371.1 885.0 2358.9Z" fill="#ff8a14"/>
<path d="M889.6 2352.5C890.4 2340.9 898.1 2307.3 904.9 2284.9C911.7 2262.6 921.1 2238.8 930.5 2218.4C939.9 2197.9 951.0 2174.0 961.2 2162.1C971.5 2150.1 980.0 2152.7 992.0 2146.7C1003.9 2140.7 1020.1 2134.7 1032.9 2126.2C1045.7 2117.7 1061.4 2097.2 1068.7 2095.5C1076.1 2093.8 1077.8 2104.9 1076.9 2116.0C1076.1 2127.1 1070.1 2145.0 1063.6 2162.1C1057.1 2179.1 1046.6 2200.4 1038.0 2218.4C1029.5 2236.3 1020.1 2255.9 1012.4 2269.6C1004.8 2283.2 1001.3 2292.6 992.0 2300.3C982.6 2308.0 968.1 2308.8 956.1 2315.6C944.2 2322.5 929.7 2334.8 920.3 2341.2C910.9 2347.7 904.9 2352.7 899.8 2354.5C894.7 2356.4 888.7 2364.1 889.6 2352.5Z" fill="#ee360f"/>
<path d="M915.1 2316.7C915.7 2308.3 921.2 2284.1 926.1 2268.0C931.1 2251.9 937.8 2234.8 944.6 2220.1C951.3 2205.3 959.3 2188.1 966.7 2179.5C974.1 2170.9 980.2 2172.8 988.8 2168.5C997.4 2164.2 1009.1 2159.9 1018.3 2153.7C1027.5 2147.6 1038.8 2132.9 1044.1 2131.6C1049.4 2130.4 1050.6 2138.4 1050.0 2146.4C1049.4 2154.4 1045.1 2167.3 1040.4 2179.5C1035.7 2191.8 1028.1 2207.2 1022.0 2220.1C1015.8 2233.0 1009.1 2247.1 1003.5 2256.9C998.0 2266.8 995.6 2273.5 988.8 2279.1C982.0 2284.6 971.6 2285.2 963.0 2290.1C954.4 2295.0 944.0 2303.9 937.2 2308.6C930.4 2313.2 926.1 2316.8 922.5 2318.1C918.8 2319.5 914.5 2325.0 915.1 2316.7Z" fill="#e42e0d" opacity=".9"/>
<ellipse cx="980.7" cy="2224.5" rx="85.0" ry="22.0" transform="rotate(-60 980.7 2224.5)" fill="#d4240b" opacity=".7"/>
</g>
<path d="M844.5 2410.4C844.9 2402.0 847.1 2384.3 853.7 2366.8C860.4 2349.3 874.2 2330.1 884.4 2305.4C894.7 2280.7 907.5 2239.7 915.2 2218.4C922.8 2197.0 924.5 2189.4 930.5 2177.4C936.5 2165.5 945.0 2155.2 951.0 2146.7C957.0 2138.2 960.4 2130.9 966.4 2126.2C972.3 2121.5 978.3 2121.1 986.8 2118.5C995.4 2116.0 1006.5 2116.4 1017.6 2110.9C1028.6 2105.3 1042.3 2094.6 1053.4 2085.3C1064.5 2075.9 1074.3 2063.2 1084.1 2054.5C1093.9 2045.8 1106.6 2033.0 1112.3 2033.0C1117.9 2033.0 1118.3 2045.0 1117.9 2054.5C1117.5 2064.1 1114.5 2076.7 1109.7 2090.4C1104.9 2104.0 1096.9 2120.2 1089.2 2136.5C1081.5 2152.7 1071.3 2172.3 1063.6 2187.7C1055.9 2203.0 1049.1 2215.8 1043.1 2228.6C1037.2 2241.4 1032.9 2252.5 1027.8 2264.4C1022.7 2276.4 1017.6 2292.1 1012.4 2300.3C1007.3 2308.5 1003.9 2310.2 997.1 2313.6C990.2 2317.0 980.9 2317.0 971.5 2320.8C962.1 2324.5 951.0 2329.3 940.8 2336.1C930.5 2342.9 919.4 2353.2 910.0 2361.7C900.7 2370.2 892.1 2379.1 884.4 2387.3C876.8 2395.5 869.5 2405.9 864.0 2410.9C858.4 2415.8 854.4 2417.1 851.2 2417.0C847.9 2416.9 844.1 2418.7 844.5 2410.4Z" fill="none" stroke="#1432dc" stroke-width="3" filter="url(#b0)"/>
<path d="M979 2328h0M984 2336h0M982 2344h0M971 2341h0M979 2354h0M987 2357h0M974 2364h0M951 2354h0M948 2367h0M1002 2321h0M1007 2313h0M931 2357h0M905 2375h0M884 2413h0M864 2423h0M851 2421h0M843 2428h0M836 2437h0M1120 2039h0M1126 2042h0" stroke="#1a30dc" stroke-width="5" stroke-linecap="round" fill="none" opacity="0.85"/>
<path d="M744 2455h0M746 2479h0M751 2479h0M872 2305h0" stroke="#7a7af0" stroke-width="5" stroke-linecap="round" fill="none" opacity="0.6"/>
</g>
<clipPath id="d2"><rect x="1389" y="1965.9" width="698.8" height="522.7"/></clipPath><g clip-path="url(#d2)">
<path d="M1822 2091h0M1827 2085h0M1838 2114h0M1972 2073h0M1727 2294h0M1573 2302h0M1618 2379h0M1872 2193h0M1929 2091h0M1861 2100h0M1573 2345h0M1707 2331h0M1520 2333h0M1874 2076h0M1878 2095h0M1797 2258h0M1591 2276h0M1548 2297h0M1672 2344h0M1651 2337h0M1570 2286h0M1925 2091h0M1815 2257h0M1573 2300h0M1551 2380h0M1869 2195h0M1707 2327h0M1565 2398h0M1755 2131h0M1910 2081h0M1602 2252h0M1561 2342h0M1746 2317h0M1692 2180h0M1786 2280h0M1774 2272h0M1524 2323h0M1728 2296h0M1777 2130h0M1897 2092h0M1918 2094h0M1724 2320h0M1935 2053h0M1672 2363h0M1579 2272h0M1554 2397h0M1546 2301h0M1910 2126h0M1853 2206h0M1719 2168h0M1566 2315h0M1572 2383h0M1812 2116h0M1917 2108h0M1563 2388h0M1850 2101h0M1852 2202h0M1724 2320h0M1788 2262h0M1838 2073h0M1567 2290h0M1721 2330h0M1956 2107h0M1808 2242h0M1755 2280h0M1696 2188h0M1676 2355h0M1928 2048h0M1702 2308h0M1733 2144h0M1906 2185h0M1815 2233h0M1729 2295h0M1849 2106h0M1891 2190h0M1954 2108h0M1743 2302h0M1890 2098h0M1936 2119h0M1926 2071h0M1946 2048h0M1814 2236h0M1569 2344h0M1885 2087h0M1862 2103h0M1564 2350h0M1587 2386h0M1558 2318h0M1926 2144h0M1710 2163h0M1737 2289h0M1927 2145h0M1883 2171h0M1699 2322h0M1939 2123h0M1725 2299h0M1611 2249h0M1625 2361h0M1767 2293h0M1752 2291h0M1820 2251h0M1616 2370h0M1782 2258h0M1756 2286h0M1821 2233h0M1756 2145h0M1752 2143h0M1930 2141h0M1727 2154h0M1915 2144h0M1614 2362h0M1553 2399h0M1659 2204h0M1900 2087h0M1660 2341h0M1891 2069h0M1844 2211h0M1871 2203h0M1670 2183h0M1760 2285h0M1715 2162h0M1515 2370h0M1879 2092h0M1779 2268h0M1676 2184h0M1757 2134h0M1833 2106h0M1725 2321h0M1705 2329h0M1853 2213h0M1574 2367h0M1911 2142h0M1551 2327h0M1692 2163h0M1593 2361h0M1780 2131h0M1555 2306h0M1700 2161h0M1540 2403h0M1598 2348h0M1743 2296h0M1556 2325h0M1899 2094h0M1544 2310h0M1809 2246h0M1844 2228h0M1688 2338h0M1849 2087h0M1550 2287h0M1593 2354h0M1772 2133h0M1718 2158h0M1562 2337h0M1793 2131h0M1744 2307h0M1603 2372h0M1833 2221h0M1919 2102h0M1694 2190h0M1640 2232h0M1851 2202h0M1800 2259h0M1594 2390h0M1958 2075h0M1890 2096h0M1814 2261h0M1603 2360h0M1797 2273h0M1583 2272h0M1826 2116h0M1649 2359h0M1645 2374h0M1639 2369h0M1751 2306h0M1733 2293h0M1727 2296h0M1551 2385h0M1786 2125h0M1519 2399h0M1830 2106h0M1779 2272h0M1915 2161h0M1786 2104h0M1823 2243h0M1539 2407h0M1554 2290h0M1820 2247h0M1615 2220h0M1690 2352h0M1623 2368h0M1864 2193h0M1744 2158h0M1598 2263h0M1611 2347h0M1816 2247h0M1865 2197h0M1824 2110h0M1873 2199h0M1796 2263h0M1812 2116h0" stroke="#1a30dc" stroke-width="5" stroke-linecap="round" fill="none" opacity="0.8"/>
<path d="M1839 2068h0M1582 2392h0M1548 2369h0M1619 2231h0M1861 2073h0M1783 2122h0M1661 2378h0M1476 2427h0M1756 2278h0M1520 2402h0M1608 2263h0M1921 2143h0M1985 2069h0M1747 2096h0M1542 2452h0M1980 2011h0M1664 2186h0M1776 2110h0M1586 2360h0M1810 2095h0M1666 2202h0M1965 2061h0M2004 1985h0M1974 2079h0M1819 2052h0M1619 2373h0M1829 2108h0M1934 2112h0M1763 2331h0M1710 2328h0M1657 2219h0M1486 2387h0M1606 2233h0M1657 2332h0M1611 2253h0M1693 2179h0M1882 2073h0M1660 2178h0M1825 2111h0M1671 2205h0M1953 2073h0M1694 2313h0M1686 2196h0M1529 2299h0M1867 2075h0M1553 2370h0M1599 2348h0M1606 2364h0M1547 2445h0M1519 2405h0M1862 2221h0M1893 2101h0M1822 2113h0M2000 2039h0M1846 2094h0M1662 2347h0M1555 2375h0M1962 2080h0M1792 2094h0M1977 2072h0M1525 2356h0M1654 2364h0M1567 2293h0M1953 2009h0M1807 2115h0M1539 2451h0M1525 2345h0M1664 2354h0M1797 2286h0M1943 2147h0M1882 2065h0M1640 2389h0M1560 2390h0M1722 2160h0M1495 2427h0M1910 2050h0M1627 2239h0M1673 2203h0M1693 2171h0M1863 2234h0M1723 2138h0M1509 2373h0M1701 2332h0M1639 2379h0M1818 2096h0M1908 2162h0M1674 2187h0M1676 2383h0M1878 2057h0M1900 2083h0M1581 2368h0M1529 2346h0M1800 2269h0M1693 2361h0M1819 2231h0M1574 2293h0M1730 2299h0M1960 2070h0M1867 2096h0M1675 2160h0M1552 2401h0M1646 2227h0M1608 2234h0M1622 2344h0M1766 2087h0M1934 2138h0M1989 1990h0M1818 2113h0M1674 2164h0M1626 2229h0M1538 2381h0M1649 2340h0M1868 2229h0M1820 2268h0M1684 2319h0M1749 2134h0M1688 2336h0M1665 2326h0M1893 2051h0M1576 2364h0M1696 2182h0M1710 2162h0M1762 2281h0M1958 2074h0M1659 2347h0M1701 2322h0M1503 2366h0M1601 2386h0M1962 2058h0M1499 2418h0M1527 2385h0M1615 2379h0M1896 2078h0M1773 2294h0M1776 2106h0M1911 2034h0M1704 2163h0M1891 2181h0M1767 2286h0M1672 2324h0M1912 2138h0M1694 2328h0M2004 2056h0M1619 2350h0M1697 2136h0M1562 2321h0M1651 2342h0M1658 2349h0M1734 2157h0M1866 2078h0" stroke="#6a6af0" stroke-width="5" stroke-linecap="round" fill="none" opacity="0.5"/>
<path d="M1566 2300h0M1574 2291h0M1884 2182h0M1723 2301h0M1910 2136h0M1709 2308h0M1610 2351h0M1732 2293h0M1569 2347h0M1829 2112h0M1856 2103h0M1759 2148h0M1558 2332h0M1901 2156h0M1881 2184h0M1570 2292h0M1732 2162h0M1647 2340h0M1591 2270h0M1912 2127h0M1677 2324h0M1700 2185h0M1654 2335h0M1559 2336h0M1766 2142h0M1865 2195h0M1914 2128h0M1604 2352h0M1864 2196h0M1606 2353h0M1563 2332h0M1737 2295h0M1577 2350h0M1623 2349h0M1892 2173h0M1800 2121h0M1841 2219h0M1857 2102h0M1717 2304h0M1761 2146h0M1697 2314h0M1566 2304h0M1611 2250h0M1692 2318h0M1573 2291h0M1720 2302h0M1614 2350h0M1885 2099h0M1605 2351h0M1798 2249h0M1652 2218h0M1577 2352h0M1900 2104h0M1572 2296h0M1876 2187h0M1591 2272h0M1736 2290h0M1896 2168h0M1869 2192h0M1800 2123h0M1574 2291h0M1885 2094h0M1566 2302h0M1891 2101h0M1569 2296h0M1690 2318h0M1760 2276h0M1908 2113h0M1895 2102h0M1566 2338h0M1903 2156h0M1563 2317h0M1807 2242h0M1601 2353h0M1800 2125h0M1589 2353h0M1561 2334h0M1679 2326h0M1851 2103h0M1600 2353h0M1562 2331h0M1846 2106h0M1909 2116h0M1762 2275h0M1619 2350h0M1905 2104h0M1792 2255h0M1774 2265h0M1652 2220h0M1682 2322h0M1813 2117h0M1831 2232h0M1606 2353h0M1564 2305h0M1599 2352h0M1747 2156h0M1905 2105h0M1912 2120h0M1868 2099h0M1681 2322h0M1566 2347h0M1642 2228h0M1814 2115h0M1909 2138h0M1570 2298h0M1643 2344h0M1716 2303h0M1565 2337h0M1560 2315h0M1579 2285h0M1593 2352h0M1786 2129h0M1646 2339h0M1849 2210h0M1677 2198h0M1703 2184h0M1822 2108h0M1911 2141h0M1666 2331h0M1667 2331h0M1603 2352h0M1897 2102h0M1830 2228h0M1775 2134h0M1635 2346h0M1619 2352h0M1692 2189h0M1577 2288h0M1666 2329h0M1668 2207h0M1597 2353h0M1910 2119h0M1895 2101h0M1867 2099h0M1657 2214h0M1912 2139h0M1563 2314h0M1642 2223h0M1560 2332h0M1677 2325h0M1623 2348h0M1677 2327h0M1660 2333h0M1575 2351h0M1909 2141h0M1693 2186h0M1661 2334h0M1800 2125h0M1811 2240h0M1862 2101h0M1911 2118h0M1672 2204h0M1555 2327h0M1579 2353h0M1600 2263h0M1568 2300h0M1887 2098h0M1585 2280h0M1623 2242h0M1565 2307h0M1842 2104h0M1564 2307h0M1802 2123h0M1621 2348h0M1911 2131h0M1841 2105h0M1904 2157h0M1826 2229h0M1559 2324h0M1824 2233h0M1589 2353h0M1907 2147h0M1864 2097h0M1615 2248h0M1908 2142h0M1702 2311h0M1733 2164h0M1722 2171h0M1916 2125h0M1901 2155h0M1580 2286h0M1796 2127h0M1653 2338h0M1571 2350h0M1578 2287h0M1572 2296h0M1579 2283h0M1772 2267h0M1617 2350h0M1654 2336h0M1911 2125h0M1907 2107h0M1578 2351h0M1582 2281h0M1565 2304h0M1874 2099h0M1686 2324h0M1894 2170h0M1889 2100h0M1692 2318h0M1714 2307h0M1564 2310h0M1901 2155h0M1907 2149h0M1629 2348h0M1870 2099h0M1702 2311h0M1821 2232h0M1855 2100h0M1912 2127h0M1911 2113h0M1844 2106h0M1739 2291h0M1727 2164h0M1750 2282h0M1914 2131h0M1898 2103h0M1692 2319h0M1571 2345h0M1726 2297h0" stroke="#1432dc" stroke-width="5.5" stroke-linecap="round" fill="none" opacity="0.9"/>
<path d="M1539 2424h0M1528 2439h0M1535 2409h0M1544 2468h0M1524 2431h0M1517 2432h0M1552 2361h0M1542 2474h0M1523 2465h0M1568 2410h0M1532 2461h0M1558 2378h0M1492 2474h0M1560 2434h0M1536 2442h0M1548 2379h0M1551 2417h0M1529 2387h0M1501 2462h0M1570 2373h0M1541 2406h0M1563 2397h0M1526 2444h0M1577 2431h0M1576 2408h0M1521 2435h0M1558 2355h0M1537 2407h0M1550 2425h0M1545 2359h0M1551 2387h0M1558 2414h0M1558 2359h0M1571 2393h0M1525 2425h0M1519 2429h0M1550 2394h0M1517 2435h0M1526 2426h0M1544 2422h0" stroke="#3a3ae6" stroke-width="5" stroke-linecap="round" fill="none" opacity="0.6"/>
<path d="M1899 2100h0M1891 2084h0M1886 2114h0M1889 2107h0M1894 2101h0M1872 2101h0M1886 2108h0M1903 2093h0M1890 2093h0M1887 2111h0M1881 2102h0M1897 2081h0M1884 2097h0M1897 2094h0M1898 2087h0M1879 2117h0M1886 2112h0M1885 2113h0M1887 2098h0M1902 2096h0M1895 2090h0M1903 2090h0M1880 2102h0M1911 2092h0M1897 2114h0M1886 2108h0M1882 2100h0M1911 2082h0M1906 2094h0M1897 2101h0M1886 2102h0M1889 2113h0M1889 2104h0M1896 2091h0M1893 2098h0M1907 2082h0M1903 2093h0M1900 2097h0M1895 2105h0M1905 2105h0M1890 2097h0M1905 2102h0M1900 2095h0M1900 2091h0M1864 2120h0" stroke="#1432dc" stroke-width="6.5" stroke-linecap="round" fill="none" opacity="0.9"/>
<g filter="url(#rg)"><path d="M1907.5 2111.7L1911.0 2118.1L1912.5 2123.9L1912.6 2129.9L1911.4 2136.4L1909.0 2143.2L1905.4 2150.5L1900.6 2158.3L1894.7 2166.4L1887.6 2175.0L1879.3 2183.9L1870.0 2193.2L1859.6 2202.8L1848.1 2212.8L1835.4 2223.1L1821.6 2233.8L1806.3 2245.0L1789.2 2257.1L1766.9 2272.2L1744.4 2287.0L1726.7 2298.2L1710.5 2307.9L1695.2 2316.6L1680.9 2324.3L1667.2 2331.1L1654.3 2337.0L1642.2 2342.1L1630.8 2346.2L1620.2 2349.5L1610.3 2351.8L1601.4 2353.3L1593.2 2353.8L1586.0 2353.4L1579.6 2352.0L1574.0 2349.6L1569.3 2346.0L1564.7 2340.3L1561.2 2333.9L1559.7 2328.1L1559.6 2322.1L1560.8 2315.6L1563.2 2308.8L1566.8 2301.5L1571.6 2293.7L1577.5 2285.6L1584.6 2277.0L1592.9 2268.1L1602.2 2258.8L1612.6 2249.2L1624.1 2239.2L1636.8 2228.9L1650.6 2218.2L1665.9 2207.0L1683.0 2194.9L1705.3 2179.8L1727.8 2165.0L1745.5 2153.8L1761.7 2144.1L1777.0 2135.4L1791.3 2127.7L1805.0 2120.9L1817.9 2115.0L1830.0 2109.9L1841.4 2105.8L1852.0 2102.5L1861.9 2100.2L1870.8 2098.7L1879.0 2098.2L1886.2 2098.6L1892.6 2100.0L1898.2 2102.4L1902.9 2106.0Z" fill="#1432dc" /></g>
<g filter="url(#b1)">
<path d="M1906.2 2112.5L1909.6 2118.8L1911.0 2124.4L1911.1 2130.3L1909.9 2136.6L1907.5 2143.4L1903.8 2150.6L1899.0 2158.2L1893.1 2166.2L1886.0 2174.7L1877.8 2183.5L1868.5 2192.6L1858.2 2202.2L1846.7 2212.0L1834.1 2222.3L1820.4 2232.9L1805.2 2244.0L1788.2 2255.9L1766.1 2270.9L1743.7 2285.6L1726.1 2296.7L1710.0 2306.4L1695.0 2315.1L1680.7 2322.7L1667.2 2329.5L1654.4 2335.4L1642.4 2340.5L1631.1 2344.7L1620.6 2348.0L1610.9 2350.4L1602.0 2351.9L1594.0 2352.5L1586.8 2352.1L1580.5 2350.8L1575.1 2348.5L1570.4 2345.0L1566.0 2339.5L1562.6 2333.2L1561.2 2327.6L1561.1 2321.7L1562.3 2315.4L1564.7 2308.6L1568.4 2301.4L1573.2 2293.8L1579.1 2285.8L1586.2 2277.3L1594.4 2268.5L1603.7 2259.4L1614.0 2249.8L1625.5 2240.0L1638.1 2229.7L1651.8 2219.1L1667.0 2208.0L1684.0 2196.1L1706.1 2181.1L1728.5 2166.4L1746.1 2155.3L1762.2 2145.6L1777.2 2136.9L1791.5 2129.3L1805.0 2122.5L1817.8 2116.6L1829.8 2111.5L1841.1 2107.3L1851.6 2104.0L1861.3 2101.6L1870.2 2100.1L1878.2 2099.5L1885.4 2099.9L1891.7 2101.2L1897.1 2103.5L1901.8 2107.0Z" fill="#1e50e0" />
<path d="M1903.3 2114.5L1906.5 2120.5L1907.9 2125.9L1907.9 2131.6L1906.6 2137.7L1904.2 2144.2L1900.5 2151.2L1895.8 2158.6L1889.9 2166.4L1882.9 2174.7L1874.8 2183.3L1865.6 2192.2L1855.4 2201.6L1844.1 2211.2L1831.7 2221.2L1818.2 2231.6L1803.3 2242.5L1786.6 2254.3L1764.8 2269.0L1742.8 2283.5L1725.5 2294.4L1709.8 2303.9L1694.9 2312.5L1680.9 2320.0L1667.7 2326.7L1655.2 2332.6L1643.4 2337.6L1632.3 2341.8L1622.0 2345.1L1612.5 2347.5L1603.9 2349.1L1596.0 2349.7L1589.1 2349.5L1582.9 2348.3L1577.7 2346.1L1573.2 2342.8L1568.9 2337.5L1565.7 2331.5L1564.3 2326.1L1564.3 2320.4L1565.6 2314.3L1568.0 2307.8L1571.7 2300.8L1576.4 2293.4L1582.3 2285.6L1589.3 2277.3L1597.4 2268.7L1606.6 2259.8L1616.8 2250.4L1628.1 2240.8L1640.5 2230.8L1654.0 2220.4L1668.9 2209.5L1685.6 2197.7L1707.4 2183.0L1729.4 2168.5L1746.7 2157.6L1762.4 2148.1L1777.3 2139.5L1791.3 2132.0L1804.5 2125.3L1817.0 2119.4L1828.8 2114.4L1839.9 2110.2L1850.2 2106.9L1859.7 2104.5L1868.3 2102.9L1876.2 2102.3L1883.1 2102.5L1889.3 2103.7L1894.5 2105.9L1899.0 2109.2Z" fill="#35c4ea" />
<path d="M1899.2 2117.3L1902.2 2122.9L1903.4 2128.1L1903.3 2133.6L1902.0 2139.4L1899.6 2145.7L1896.0 2152.4L1891.3 2159.6L1885.5 2167.1L1878.6 2175.1L1870.7 2183.4L1861.7 2192.1L1851.7 2201.1L1840.7 2210.5L1828.6 2220.2L1815.4 2230.3L1800.9 2241.0L1784.5 2252.4L1763.3 2266.8L1741.9 2280.9L1725.0 2291.5L1709.6 2300.9L1695.2 2309.2L1681.6 2316.6L1668.7 2323.2L1656.5 2329.0L1645.0 2333.9L1634.3 2338.0L1624.3 2341.3L1615.1 2343.7L1606.7 2345.3L1599.1 2346.1L1592.4 2345.9L1586.5 2344.9L1581.4 2342.8L1577.1 2339.7L1573.0 2334.7L1570.0 2329.1L1568.8 2323.9L1568.9 2318.4L1570.2 2312.6L1572.6 2306.3L1576.2 2299.6L1580.9 2292.4L1586.7 2284.9L1593.6 2276.9L1601.5 2268.6L1610.5 2259.9L1620.5 2250.9L1631.5 2241.5L1643.6 2231.8L1656.8 2221.7L1671.3 2211.0L1687.7 2199.6L1708.9 2185.2L1730.3 2171.1L1747.2 2160.5L1762.6 2151.1L1777.0 2142.8L1790.6 2135.4L1803.5 2128.8L1815.7 2123.0L1827.2 2118.1L1837.9 2114.0L1847.9 2110.7L1857.1 2108.3L1865.5 2106.7L1873.1 2105.9L1879.8 2106.1L1885.7 2107.1L1890.8 2109.2L1895.1 2112.3Z" fill="#7af090" />
<path d="M1890.8 2122.8L1893.7 2128.1L1894.8 2133.0L1894.7 2138.1L1893.5 2143.7L1891.1 2149.6L1887.7 2155.9L1883.2 2162.7L1877.7 2169.8L1871.1 2177.4L1863.6 2185.2L1855.1 2193.5L1845.6 2202.0L1835.1 2210.9L1823.6 2220.1L1811.1 2229.7L1797.3 2239.8L1781.8 2250.6L1761.6 2264.3L1741.3 2277.7L1725.3 2287.8L1710.7 2296.6L1697.0 2304.5L1684.1 2311.6L1671.9 2317.9L1660.3 2323.3L1649.5 2328.1L1639.3 2332.0L1629.8 2335.1L1621.1 2337.5L1613.2 2339.0L1606.0 2339.7L1599.6 2339.6L1594.0 2338.7L1589.3 2336.8L1585.2 2333.9L1581.4 2329.2L1578.5 2323.9L1577.4 2319.0L1577.5 2313.9L1578.7 2308.3L1581.1 2302.4L1584.5 2296.1L1589.0 2289.3L1594.5 2282.2L1601.1 2274.6L1608.6 2266.8L1617.1 2258.5L1626.6 2250.0L1637.1 2241.1L1648.6 2231.9L1661.1 2222.3L1674.9 2212.2L1690.4 2201.4L1710.6 2187.7L1730.9 2174.3L1746.9 2164.2L1761.5 2155.4L1775.2 2147.5L1788.1 2140.4L1800.3 2134.1L1811.9 2128.7L1822.7 2123.9L1832.9 2120.0L1842.4 2116.9L1851.1 2114.5L1859.0 2113.0L1866.2 2112.3L1872.6 2112.4L1878.2 2113.3L1882.9 2115.2L1887.0 2118.1Z" fill="#c6f23e" />
<path d="M1881.7 2128.9L1884.4 2134.0L1885.5 2138.6L1885.4 2143.5L1884.3 2148.7L1882.1 2154.3L1878.9 2160.3L1874.7 2166.7L1869.5 2173.4L1863.3 2180.5L1856.3 2187.9L1848.2 2195.7L1839.3 2203.8L1829.5 2212.1L1818.7 2220.8L1806.9 2229.8L1793.9 2239.3L1779.3 2249.5L1760.3 2262.4L1741.2 2275.0L1726.2 2284.5L1712.5 2292.8L1699.6 2300.2L1687.4 2306.9L1675.9 2312.7L1665.0 2317.9L1654.8 2322.3L1645.2 2326.0L1636.3 2328.9L1628.1 2331.1L1620.6 2332.5L1613.8 2333.2L1607.8 2333.1L1602.5 2332.1L1598.0 2330.3L1594.1 2327.5L1590.5 2323.1L1587.8 2318.0L1586.7 2313.4L1586.8 2308.5L1587.9 2303.3L1590.1 2297.7L1593.3 2291.7L1597.5 2285.3L1602.7 2278.6L1608.9 2271.5L1615.9 2264.1L1624.0 2256.3L1632.9 2248.2L1642.7 2239.9L1653.5 2231.2L1665.3 2222.2L1678.3 2212.7L1692.9 2202.5L1711.9 2189.6L1731.0 2177.0L1746.0 2167.5L1759.7 2159.2L1772.6 2151.8L1784.8 2145.1L1796.3 2139.3L1807.2 2134.1L1817.4 2129.7L1827.0 2126.0L1835.9 2123.1L1844.1 2120.9L1851.6 2119.5L1858.4 2118.8L1864.4 2118.9L1869.7 2119.9L1874.2 2121.7L1878.1 2124.5Z" fill="#f8e61e" />
<path d="M1872.5 2135.0L1874.9 2139.5L1875.8 2143.7L1875.7 2148.1L1874.5 2152.9L1872.4 2158.0L1869.3 2163.5L1865.3 2169.4L1860.3 2175.6L1854.5 2182.1L1847.8 2189.0L1840.3 2196.2L1831.9 2203.7L1822.6 2211.5L1812.4 2219.6L1801.4 2228.0L1789.2 2236.9L1775.5 2246.4L1757.7 2258.4L1739.8 2270.3L1725.7 2279.2L1712.9 2287.0L1700.8 2294.0L1689.5 2300.3L1678.7 2305.8L1668.6 2310.7L1659.0 2314.9L1650.1 2318.5L1641.8 2321.3L1634.2 2323.5L1627.2 2324.9L1621.0 2325.7L1615.4 2325.7L1610.6 2324.9L1606.4 2323.4L1602.9 2321.0L1599.7 2317.0L1597.3 2312.5L1596.4 2308.3L1596.5 2303.9L1597.7 2299.1L1599.8 2294.0L1602.9 2288.5L1606.9 2282.6L1611.9 2276.4L1617.7 2269.9L1624.4 2263.0L1631.9 2255.8L1640.3 2248.3L1649.6 2240.5L1659.8 2232.4L1670.8 2224.0L1683.0 2215.1L1696.7 2205.6L1714.5 2193.6L1732.4 2181.7L1746.5 2172.8L1759.3 2165.0L1771.4 2158.0L1782.7 2151.7L1793.5 2146.2L1803.6 2141.3L1813.2 2137.1L1822.1 2133.5L1830.4 2130.7L1838.0 2128.5L1845.0 2127.1L1851.2 2126.3L1856.8 2126.3L1861.6 2127.1L1865.8 2128.6L1869.3 2131.0Z" fill="#ff8a14" />
<path d="M1865.1 2140.0L1867.2 2144.2L1868.0 2148.0L1867.8 2152.1L1866.6 2156.5L1864.6 2161.3L1861.6 2166.4L1857.8 2171.9L1853.1 2177.7L1847.5 2183.8L1841.2 2190.3L1834.0 2197.0L1826.0 2204.1L1817.3 2211.4L1807.6 2219.0L1797.2 2227.0L1785.6 2235.3L1772.7 2244.3L1755.9 2255.7L1739.0 2266.9L1725.7 2275.3L1713.5 2282.7L1702.2 2289.4L1691.4 2295.3L1681.3 2300.6L1671.7 2305.3L1662.7 2309.3L1654.3 2312.7L1646.5 2315.4L1639.4 2317.5L1632.8 2319.0L1627.0 2319.7L1621.8 2319.8L1617.2 2319.2L1613.4 2317.8L1610.1 2315.6L1607.1 2312.0L1605.0 2307.8L1604.2 2304.0L1604.4 2299.9L1605.6 2295.5L1607.6 2290.7L1610.6 2285.6L1614.4 2280.1L1619.1 2274.3L1624.7 2268.2L1631.0 2261.7L1638.2 2255.0L1646.2 2247.9L1654.9 2240.6L1664.6 2233.0L1675.0 2225.0L1686.6 2216.7L1699.5 2207.7L1716.3 2196.3L1733.2 2185.1L1746.5 2176.7L1758.7 2169.3L1770.0 2162.6L1780.8 2156.7L1790.9 2151.4L1800.5 2146.7L1809.5 2142.7L1817.9 2139.3L1825.7 2136.6L1832.8 2134.5L1839.4 2133.0L1845.2 2132.3L1850.4 2132.2L1855.0 2132.8L1858.8 2134.2L1862.1 2136.4Z" fill="#ee340f" />
<path d="M1831.8 2162.2L1833.1 2164.8L1833.4 2167.3L1833.0 2169.9L1831.9 2172.9L1830.2 2176.1L1827.8 2179.7L1824.8 2183.5L1821.2 2187.6L1816.9 2191.9L1812.1 2196.5L1806.6 2201.3L1800.6 2206.4L1794.0 2211.7L1786.8 2217.3L1779.0 2223.1L1770.4 2229.2L1760.8 2235.9L1748.3 2244.3L1735.7 2252.6L1725.9 2258.9L1716.9 2264.5L1708.6 2269.5L1700.7 2274.0L1693.2 2278.0L1686.2 2281.7L1679.7 2284.8L1673.6 2287.5L1667.9 2289.8L1662.8 2291.6L1658.1 2292.9L1653.9 2293.7L1650.3 2294.1L1647.1 2293.9L1644.5 2293.3L1642.3 2292.0L1640.4 2289.8L1639.1 2287.2L1638.8 2284.7L1639.2 2282.1L1640.3 2279.1L1642.0 2275.9L1644.4 2272.3L1647.4 2268.5L1651.0 2264.4L1655.3 2260.1L1660.1 2255.5L1665.6 2250.7L1671.6 2245.6L1678.2 2240.3L1685.4 2234.7L1693.2 2228.9L1701.8 2222.8L1711.4 2216.1L1723.9 2207.7L1736.5 2199.4L1746.3 2193.1L1755.3 2187.5L1763.6 2182.5L1771.5 2178.0L1779.0 2174.0L1786.0 2170.3L1792.5 2167.2L1798.6 2164.5L1804.3 2162.2L1809.4 2160.4L1814.1 2159.1L1818.3 2158.3L1821.9 2157.9L1825.1 2158.1L1827.7 2158.7L1829.9 2160.0Z" fill="#e42c0d" />
<path d="M1794.3 2187.2L1795.0 2188.6L1795.1 2190.0L1794.8 2191.5L1794.1 2193.2L1793.0 2195.1L1791.5 2197.2L1789.6 2199.4L1787.3 2201.8L1784.7 2204.4L1781.7 2207.1L1778.4 2210.0L1774.7 2213.1L1770.6 2216.2L1766.2 2219.6L1761.4 2223.1L1756.2 2226.8L1750.4 2230.9L1742.8 2236.0L1735.1 2241.0L1729.1 2244.9L1723.7 2248.3L1718.6 2251.4L1713.8 2254.1L1709.3 2256.7L1705.1 2258.9L1701.1 2260.9L1697.5 2262.6L1694.1 2264.0L1691.0 2265.2L1688.2 2266.1L1685.7 2266.7L1683.5 2267.0L1681.7 2267.0L1680.1 2266.7L1678.9 2266.0L1677.9 2264.8L1677.2 2263.4L1677.1 2262.0L1677.4 2260.5L1678.1 2258.8L1679.2 2256.9L1680.7 2254.8L1682.6 2252.6L1684.9 2250.2L1687.5 2247.6L1690.5 2244.9L1693.8 2242.0L1697.5 2238.9L1701.6 2235.8L1706.0 2232.4L1710.8 2228.9L1716.0 2225.2L1721.8 2221.1L1729.4 2216.0L1737.1 2211.0L1743.1 2207.1L1748.5 2203.7L1753.6 2200.6L1758.4 2197.9L1762.9 2195.3L1767.1 2193.1L1771.1 2191.1L1774.7 2189.4L1778.1 2188.0L1781.2 2186.8L1784.0 2185.9L1786.5 2185.3L1788.7 2185.0L1790.5 2185.0L1792.1 2185.3L1793.3 2186.0Z" fill="#d4220b" />
</g>
</g>
<clipPath id="d3"><rect x="2149" y="1967" width="698.8" height="523.0"/></clipPath><g clip-path="url(#d3)">
<path d="M2528 2306h0M2568 2120h0M2313 2312h0M2715 2140h0M2434 2348h0M2503 2304h0M2527 2148h0M2665 2122h0M2316 2322h0M2667 2114h0M2263 2382h0M2696 2053h0M2387 2239h0M2403 2340h0M2660 2111h0M2493 2164h0M2650 2109h0M2627 2083h0M2405 2222h0M2497 2154h0M2410 2350h0M2613 2100h0M2484 2144h0M2506 2283h0M2496 2307h0M2551 2110h0M2638 2068h0M2620 2078h0M2385 2362h0M2701 2055h0M2733 2086h0M2670 2104h0M2424 2327h0M2328 2340h0M2641 2204h0M2319 2315h0M2290 2393h0M2603 2116h0M2639 2093h0M2639 2179h0M2676 2095h0M2692 2167h0M2653 2193h0M2324 2279h0M2570 2263h0M2640 2068h0M2264 2361h0M2345 2255h0M2409 2224h0M2535 2284h0M2482 2167h0M2369 2348h0M2588 2236h0M2557 2266h0M2693 2115h0M2452 2190h0M2482 2158h0M2549 2129h0M2333 2298h0M2682 2137h0M2370 2254h0M2628 2078h0M2648 2087h0M2498 2320h0M2297 2323h0M2734 2093h0M2554 2137h0M2374 2378h0M2643 2085h0M2329 2288h0M2438 2319h0M2689 2123h0M2666 2110h0M2525 2123h0M2454 2331h0M2498 2160h0M2366 2248h0M2699 2083h0M2363 2373h0M2330 2344h0M2252 2380h0M2642 2097h0M2345 2385h0M2494 2140h0M2365 2354h0M2623 2228h0M2364 2343h0M2443 2202h0M2700 2085h0M2512 2279h0M2504 2163h0M2405 2332h0M2623 2199h0M2661 2084h0M2525 2293h0M2604 2083h0M2634 2110h0M2711 2089h0M2723 2087h0M2389 2352h0M2569 2092h0M2435 2208h0M2588 2090h0M2524 2281h0M2521 2283h0M2623 2201h0M2318 2339h0M2482 2164h0M2563 2126h0M2724 2115h0M2479 2312h0M2519 2301h0M2602 2229h0M2578 2257h0M2569 2114h0M2484 2301h0M2331 2367h0M2523 2121h0M2388 2377h0M2337 2277h0M2731 2111h0M2667 2124h0M2318 2370h0M2328 2293h0M2485 2320h0M2384 2360h0M2686 2146h0M2484 2175h0M2586 2117h0M2648 2094h0M2308 2344h0M2416 2328h0M2428 2357h0M2333 2376h0M2539 2262h0M2578 2113h0M2339 2273h0M2394 2351h0M2665 2113h0M2657 2103h0M2417 2218h0M2577 2104h0M2313 2323h0M2615 2204h0M2424 2338h0M2536 2128h0M2398 2211h0M2526 2291h0M2700 2140h0M2387 2349h0M2323 2382h0M2580 2124h0M2509 2150h0M2314 2334h0M2443 2339h0M2599 2253h0M2644 2189h0M2330 2300h0M2551 2133h0M2272 2340h0M2449 2161h0M2516 2147h0M2663 2104h0M2701 2050h0M2575 2240h0M2600 2118h0M2671 2134h0M2329 2285h0M2673 2063h0M2354 2257h0M2604 2117h0M2452 2192h0M2423 2341h0M2477 2154h0M2531 2130h0M2706 2145h0M2377 2246h0M2665 2103h0M2320 2350h0M2616 2113h0M2747 2080h0M2297 2371h0M2577 2262h0M2400 2337h0M2389 2338h0M2629 2210h0M2605 2090h0M2746 2064h0M2580 2248h0M2696 2068h0M2331 2263h0M2376 2369h0M2493 2164h0M2287 2356h0M2513 2284h0M2302 2335h0M2635 2096h0M2700 2095h0M2728 2075h0M2565 2101h0M2315 2281h0M2315 2288h0M2436 2170h0M2657 2156h0M2639 2222h0M2621 2102h0M2701 2078h0M2464 2323h0M2435 2343h0M2672 2119h0M2593 2222h0M2566 2249h0M2321 2367h0M2547 2259h0M2692 2151h0M2502 2160h0M2555 2266h0M2686 2122h0M2693 2113h0M2354 2349h0" stroke="#1a30dc" stroke-width="5" stroke-linecap="round" fill="none" opacity="0.8"/>
<path d="M2264 2458h0M2254 2356h0M2678 2003h0M2569 2114h0M2309 2358h0M2465 2186h0M2422 2346h0M2728 2107h0M2543 2113h0M2264 2373h0M2641 2057h0M2431 2355h0M2678 2063h0M2479 2343h0M2202 2479h0M2570 2123h0M2338 2338h0M2389 2233h0M2731 1992h0M2310 2402h0M2333 2405h0M2408 2338h0M2381 2410h0M2342 2402h0M2272 2354h0M2304 2391h0M2492 2310h0M2676 2054h0M2574 2243h0M2424 2348h0M2617 2080h0M2695 2137h0M2177 2443h0M2360 2349h0M2404 2372h0M2649 2080h0M2270 2429h0M2332 2309h0M2528 2271h0M2321 2327h0M2288 2355h0M2719 2015h0M2651 2179h0M2416 2329h0M2618 2226h0M2301 2367h0M2607 2113h0M2433 2321h0M2681 2178h0M2372 2341h0M2677 2104h0M2740 2015h0M2374 2355h0M2687 2073h0M2543 2265h0M2344 2237h0M2515 2152h0M2533 2096h0M2308 2415h0M2521 2290h0M2374 2248h0M2560 2087h0M2378 2433h0M2705 1984h0M2313 2257h0M2547 2256h0M2436 2333h0M2374 2399h0M2662 2172h0M2253 2481h0M2224 2417h0M2749 2131h0M2412 2350h0M2384 2341h0M2299 2397h0M2415 2190h0M2337 2287h0M2442 2331h0M2775 2022h0M2380 2373h0M2316 2343h0M2515 2297h0M2629 2232h0M2206 2474h0M2245 2341h0M2169 2454h0M2644 2229h0M2591 2077h0M2787 2046h0M2588 2108h0M2307 2392h0M2512 2286h0M2301 2410h0M2471 2161h0M2318 2356h0M2686 2126h0M2668 2105h0M2359 2356h0M2590 2086h0M2377 2252h0M2716 2164h0M2345 2372h0M2589 2118h0M2286 2366h0M2629 2063h0M2626 2230h0M2330 2327h0M2308 2328h0M2430 2386h0M2346 2289h0M2630 2109h0M2266 2369h0M2564 2101h0M2748 1971h0M2670 2084h0M2334 2286h0M2468 2179h0M2361 2208h0M2355 2258h0M2496 2313h0M2615 2077h0M2478 2361h0M2383 2363h0M2416 2335h0M2568 2111h0M2681 2020h0M2790 2051h0M2526 2129h0M2677 2208h0M2469 2371h0M2606 2224h0M2320 2394h0M2688 2081h0M2609 2255h0M2708 2068h0M2462 2160h0M2558 2098h0M2451 2342h0M2727 2098h0M2351 2344h0M2424 2332h0M2344 2374h0M2293 2421h0M2306 2282h0M2778 1998h0M2382 2192h0M2602 2073h0M2304 2335h0M2310 2327h0M2614 2206h0M2360 2350h0M2739 1994h0M2307 2351h0M2717 2103h0M2642 2214h0M2492 2325h0M2319 2389h0M2573 2128h0M2704 2127h0M2528 2297h0M2281 2330h0M2708 2123h0M2650 2231h0M2544 2309h0M2384 2356h0M2463 2335h0M2532 2272h0M2575 2097h0M2753 1998h0M2252 2386h0M2276 2372h0M2777 2025h0M2679 2051h0M2555 2119h0M2373 2367h0M2408 2354h0M2305 2328h0M2314 2240h0M2521 2105h0M2723 2078h0M2525 2314h0M2327 2253h0M2290 2324h0M2486 2312h0M2539 2277h0M2344 2213h0M2750 2048h0M2685 2172h0M2587 2077h0M2257 2358h0" stroke="#6a6af0" stroke-width="5" stroke-linecap="round" fill="none" opacity="0.5"/>
<path d="M2661 2174h0M2380 2354h0M2421 2336h0M2670 2161h0M2668 2123h0M2632 2097h0M2332 2287h0M2610 2100h0M2656 2180h0M2322 2315h0M2594 2108h0M2642 2194h0M2337 2343h0M2322 2307h0M2430 2208h0M2345 2272h0M2583 2113h0M2484 2172h0M2673 2133h0M2676 2151h0M2408 2342h0M2391 2354h0M2361 2356h0M2665 2120h0M2450 2319h0M2648 2188h0M2667 2165h0M2676 2133h0M2397 2350h0M2638 2098h0M2655 2103h0M2619 2099h0M2676 2142h0M2511 2154h0M2385 2354h0M2344 2353h0M2337 2348h0M2363 2357h0M2650 2184h0M2339 2275h0M2673 2155h0M2322 2297h0M2599 2105h0M2377 2242h0M2675 2137h0M2676 2131h0M2581 2112h0M2362 2356h0M2586 2112h0M2343 2271h0M2414 2345h0M2577 2116h0M2636 2095h0M2636 2195h0M2612 2098h0M2325 2297h0M2403 2225h0M2325 2323h0M2490 2295h0M2413 2346h0M2629 2202h0M2423 2337h0M2383 2237h0M2336 2280h0M2351 2266h0M2324 2320h0M2433 2333h0M2346 2351h0M2320 2295h0M2386 2237h0M2343 2273h0M2673 2154h0M2338 2278h0M2485 2300h0M2514 2280h0M2436 2328h0M2391 2354h0M2659 2104h0M2326 2290h0M2444 2199h0M2451 2322h0M2474 2309h0M2619 2212h0M2321 2311h0M2351 2354h0M2640 2094h0M2631 2093h0M2637 2096h0M2677 2134h0M2676 2138h0M2677 2131h0M2467 2312h0M2663 2111h0M2345 2353h0M2660 2177h0M2340 2347h0M2674 2138h0M2641 2094h0M2362 2253h0M2335 2278h0M2392 2350h0M2550 2131h0M2423 2336h0M2673 2155h0M2652 2184h0M2659 2106h0M2403 2345h0M2675 2142h0M2379 2242h0M2322 2307h0M2343 2349h0M2392 2351h0M2322 2301h0M2384 2352h0M2478 2174h0M2665 2168h0M2501 2289h0M2317 2313h0M2409 2345h0M2661 2109h0M2677 2141h0M2675 2137h0M2322 2313h0M2656 2177h0M2323 2322h0M2381 2354h0M2332 2284h0M2487 2168h0M2403 2344h0M2338 2273h0M2655 2178h0M2543 2135h0M2373 2246h0M2539 2265h0M2640 2095h0M2440 2326h0M2667 2167h0M2676 2164h0M2640 2096h0M2383 2356h0M2674 2135h0M2675 2144h0M2648 2186h0M2323 2302h0M2398 2347h0M2671 2128h0M2545 2134h0M2679 2152h0M2596 2105h0M2322 2326h0M2674 2148h0M2589 2236h0M2523 2145h0M2666 2120h0M2666 2173h0M2592 2108h0M2423 2207h0M2618 2211h0M2346 2268h0M2367 2356h0M2508 2156h0M2637 2092h0M2453 2323h0M2323 2319h0M2676 2146h0M2542 2136h0M2646 2189h0M2353 2265h0M2651 2102h0M2323 2323h0M2351 2266h0M2325 2328h0M2651 2182h0M2350 2266h0M2636 2093h0M2323 2297h0M2366 2360h0M2549 2132h0M2322 2318h0M2633 2199h0M2321 2314h0M2674 2154h0M2331 2288h0M2675 2134h0M2397 2350h0M2327 2328h0M2353 2356h0M2401 2222h0M2375 2359h0M2341 2273h0M2656 2178h0M2452 2318h0M2645 2097h0M2324 2300h0M2334 2284h0M2367 2248h0M2466 2310h0M2474 2306h0M2420 2337h0M2358 2260h0M2562 2122h0M2604 2220h0M2550 2131h0M2417 2340h0M2556 2127h0M2673 2151h0M2612 2096h0M2554 2128h0M2322 2317h0M2676 2147h0M2326 2289h0M2339 2346h0M2488 2299h0M2432 2333h0M2615 2214h0M2404 2345h0M2330 2334h0M2646 2190h0M2567 2121h0M2653 2180h0" stroke="#1432dc" stroke-width="5.5" stroke-linecap="round" fill="none" opacity="0.9"/>
<g filter="url(#rg)"><rect x="2298.5" y="2172.0" width="400.0" height="109.0" rx="92.6" ry="54.5" transform="rotate(-33 2498.5 2226.5)" fill="#1432dc" /></g>
<g filter="url(#b1)">
<rect x="2300.0" y="2173.5" width="397.0" height="106.0" rx="90.1" ry="53.0" transform="rotate(-33 2498.5 2226.5)" fill="#1e50e0" />
<rect x="2303.5" y="2177.4" width="390.0" height="98.2" rx="83.5" ry="49.1" transform="rotate(-33 2498.5 2226.5)" fill="#35c4ea" />
<rect x="2308.5" y="2180.8" width="380.0" height="91.4" rx="77.7" ry="45.7" transform="rotate(-33 2498.5 2226.5)" fill="#7af090" />
<rect x="2315.5" y="2183.5" width="366.0" height="86.0" rx="73.1" ry="43.0" transform="rotate(-33 2498.5 2226.5)" fill="#c6f23e" />
<rect x="2322.5" y="2185.5" width="352.0" height="82.0" rx="69.7" ry="41.0" transform="rotate(-33 2498.5 2226.5)" fill="#f8e61e" />
<rect x="2330.5" y="2189.5" width="336.0" height="74.0" rx="62.9" ry="37.0" transform="rotate(-33 2498.5 2226.5)" fill="#ff8a14" />
<rect x="2337.5" y="2192.9" width="322.0" height="67.2" rx="57.1" ry="33.6" transform="rotate(-33 2498.5 2226.5)" fill="#ee340f" />
<rect x="2380.5" y="2206.5" width="236.0" height="40.0" rx="34.0" ry="20.0" transform="rotate(-33 2498.5 2226.5)" fill="#e42c0d" />
<rect x="2428.5" y="2216.5" width="140.0" height="20.0" rx="17.0" ry="10.0" transform="rotate(-33 2498.5 2226.5)" fill="#d4220b" />
</g>
</g>
<clipPath id="d4"><rect x="2908" y="1966" width="698.3" height="524.0"/></clipPath><g clip-path="url(#d4)">
<path d="M3478 2144h0M3189 2301h0M3285 2165h0M3491 2108h0M3175 2319h0M3372 2118h0M3269 2274h0M3436 2182h0M2980 2311h0M3463 2101h0M2952 2368h0M3314 2270h0M3043 2263h0M3385 2217h0M3409 2106h0M3498 2149h0M3455 2106h0M3486 2103h0M3466 2107h0M3125 2334h0M3044 2294h0M3265 2282h0M3021 2277h0M3397 2213h0M3495 2116h0M3258 2300h0M3113 2327h0M3527 2102h0M3272 2263h0M3294 2254h0M3225 2186h0M3577 2103h0M3446 2197h0M3364 2240h0M3272 2291h0M3414 2119h0M3350 2242h0M3277 2276h0M3568 2097h0M3491 2077h0M3279 2157h0M3122 2239h0M3427 2113h0M2959 2332h0M2938 2376h0M3200 2304h0M2994 2337h0M3463 2169h0M2998 2354h0M2978 2359h0M3387 2112h0M3077 2366h0M3460 2179h0M3030 2344h0M3182 2189h0M3019 2345h0M3199 2300h0M2932 2399h0M2973 2308h0M3497 2112h0M3535 2109h0M3304 2250h0M3229 2318h0M3342 2249h0M3305 2285h0M3323 2114h0M3333 2242h0M3196 2315h0M3248 2307h0M3161 2210h0M3089 2345h0M3012 2339h0M3153 2212h0M3044 2381h0M3126 2326h0M3421 2197h0M2987 2348h0M3395 2118h0M3085 2233h0M3286 2266h0M2968 2353h0M3066 2369h0M3236 2181h0M3477 2104h0M3091 2262h0M3307 2134h0M3484 2113h0M3463 2096h0M3433 2181h0M3168 2309h0M3318 2244h0M3126 2334h0M3136 2317h0M3163 2318h0M3021 2350h0M2990 2347h0M3340 2122h0M3289 2259h0M3382 2125h0M3390 2091h0M3557 2111h0M3153 2314h0M3426 2095h0M3598 2066h0M2933 2383h0M3248 2180h0M3335 2144h0M3125 2340h0M3491 2116h0M3438 2099h0M3032 2305h0M3490 2143h0M3266 2271h0M3005 2388h0M3227 2299h0M3575 2063h0M3295 2258h0M3553 2100h0M3470 2110h0M3123 2332h0M3088 2260h0M3369 2127h0M3197 2300h0M3393 2120h0M3516 2129h0M3040 2290h0M3240 2159h0M3058 2268h0M3028 2289h0M3000 2394h0M3191 2306h0M3228 2186h0M3463 2199h0M3367 2252h0M3022 2289h0M3330 2117h0M2991 2357h0M3384 2090h0M2980 2372h0M3339 2131h0M3553 2075h0M3526 2105h0M2993 2295h0M3408 2230h0M3356 2229h0M3020 2352h0M2936 2363h0M3278 2265h0M3414 2113h0M3065 2258h0M3500 2123h0M3528 2127h0M3526 2079h0M3054 2281h0M3276 2136h0M2978 2354h0M3015 2374h0M3476 2149h0M3446 2112h0M3010 2329h0M3333 2141h0M3370 2128h0M3212 2177h0M2914 2362h0M3495 2175h0M3571 2059h0M3469 2102h0M3061 2276h0M3231 2163h0M3330 2139h0M3445 2203h0M3014 2355h0M3548 2098h0M3273 2263h0M3045 2277h0M3403 2218h0M3295 2262h0M3027 2367h0M3249 2288h0M3420 2209h0M3301 2126h0M3376 2229h0M3123 2326h0M3218 2293h0M3035 2259h0M2989 2355h0M3416 2189h0M3310 2257h0M2934 2348h0M3425 2183h0M3298 2146h0M3154 2221h0M3471 2180h0M3546 2122h0M3224 2189h0M3183 2205h0M3374 2225h0M3337 2254h0M3476 2103h0M3498 2134h0M3184 2307h0M3457 2187h0M2990 2357h0M3282 2154h0M3449 2098h0M3512 2088h0M3097 2353h0M3265 2171h0M3090 2251h0M2985 2344h0M3105 2245h0M3212 2185h0M3474 2091h0M2950 2353h0M3303 2156h0M3275 2162h0M3529 2130h0M3146 2210h0M3472 2182h0M3027 2357h0M3049 2289h0M3456 2097h0M3307 2277h0M3040 2255h0M3045 2279h0M3525 2093h0M3541 2110h0M3508 2072h0M3220 2297h0M3049 2381h0M3566 2117h0M2954 2339h0M3369 2114h0M3014 2334h0M3227 2189h0M3402 2118h0M3242 2150h0M3434 2177h0M3108 2244h0M3146 2217h0M3032 2301h0M3238 2180h0M3016 2285h0M3446 2191h0M3281 2135h0M3523 2081h0M3365 2131h0M3077 2250h0M3369 2243h0M3377 2218h0M3025 2301h0M3140 2323h0M3358 2135h0M3097 2245h0M3039 2294h0M3107 2232h0M3447 2074h0M3546 2125h0M3042 2297h0M3443 2210h0" stroke="#1a30dc" stroke-width="5" stroke-linecap="round" fill="none" opacity="0.8"/>
<path d="M3110 2248h0M3203 2347h0M3556 2090h0M3117 2325h0M3068 2264h0M3494 2071h0M3396 2224h0M2985 2323h0M3524 2086h0M3520 2108h0M3339 2129h0M3260 2160h0M3109 2341h0M3364 2087h0M3008 2400h0M3191 2316h0M3113 2224h0M3178 2187h0M3282 2307h0M3194 2161h0M3238 2281h0M3099 2380h0M2994 2341h0M3191 2310h0M3361 2242h0M3379 2102h0M3503 2134h0M3494 2180h0M3430 2084h0M3048 2248h0M3035 2220h0M3386 2104h0M3166 2177h0M3209 2149h0M3441 2188h0M3034 2296h0M3527 2062h0M3131 2322h0M3551 2153h0M3402 2112h0M3216 2162h0M3101 2252h0M3090 2253h0M3499 2066h0M3041 2381h0M3139 2222h0M3379 2219h0M3341 2114h0M3457 2052h0M3166 2340h0M3065 2355h0M3223 2178h0M3329 2140h0M3039 2283h0M3058 2345h0M3380 2244h0M3265 2275h0M3450 2200h0M3064 2254h0M3445 2083h0M3504 2076h0M3050 2386h0M3294 2296h0M3435 2081h0M2950 2396h0M3149 2223h0M2954 2390h0M3096 2333h0M3265 2120h0M3274 2277h0M3192 2303h0M3161 2219h0M3113 2244h0M3299 2147h0M3459 2105h0M3586 2143h0M3094 2355h0M3027 2283h0M3147 2215h0M2998 2359h0M2982 2339h0M2945 2328h0M2918 2430h0M3361 2260h0M3528 2044h0M3562 2068h0M3584 1993h0M3173 2207h0M3129 2231h0M3053 2378h0M3450 2109h0M3284 2260h0M3189 2346h0M3154 2326h0M3467 2085h0M3123 2223h0M3193 2189h0M3408 2073h0M3294 2279h0M3496 2125h0M3546 2088h0M3448 2212h0M2979 2298h0M3167 2337h0M3168 2178h0M2975 2390h0M3027 2430h0M3531 2016h0M2996 2369h0M3110 2190h0M2984 2379h0M3596 2092h0M3188 2331h0M3333 2147h0M3334 2114h0M2955 2355h0M3327 2243h0M3005 2316h0M2937 2356h0M3378 2107h0M3064 2411h0M2944 2272h0M3135 2227h0M2967 2364h0M2989 2324h0M3369 2228h0M3479 2178h0M3000 2341h0M3163 2354h0M3167 2147h0M2952 2383h0M3601 2108h0M3313 2154h0M3188 2181h0M3283 2268h0M3149 2221h0M3256 2330h0M3576 2080h0M2996 2388h0M3046 2399h0M3543 2030h0M3551 2111h0M3418 2062h0M3487 2121h0M2974 2288h0M3576 2110h0M2955 2372h0M3227 2293h0M3246 2166h0M3018 2388h0M3555 2049h0M3576 2062h0M3318 2113h0M3520 2068h0M3586 2098h0M3190 2194h0M3534 2062h0M3039 2364h0M3549 2187h0M3278 2283h0M3036 2370h0M3515 2061h0M3542 2167h0M3166 2206h0M3557 2167h0M3196 2204h0M3169 2357h0M3293 2262h0M3265 2148h0M2924 2459h0M3223 2180h0M3215 2165h0M3426 2101h0M3222 2192h0M3370 2129h0M3356 2243h0M3283 2278h0M3387 2239h0M3455 2191h0M3010 2354h0M3362 2136h0M3024 2303h0M3086 2254h0M3077 2256h0M3358 2116h0M3071 2357h0M2922 2447h0M3256 2168h0M3101 2204h0M3028 2393h0M3306 2283h0M3146 2344h0M2972 2353h0M3365 2131h0M3167 2333h0M3208 2182h0M3554 2062h0M3153 2317h0M3043 2422h0M3292 2134h0M3019 2291h0M3434 2070h0M3114 2326h0M3268 2122h0M3428 2204h0M2938 2414h0M3166 2197h0M3349 2119h0M3502 2158h0M3439 2085h0M3291 2148h0M3279 2294h0M3082 2254h0M3276 2115h0M3477 2148h0M3125 2228h0M3387 2112h0M3022 2277h0M3261 2101h0M3491 2125h0M3384 2247h0M3343 2105h0M3435 2064h0M3174 2200h0M3233 2181h0M3476 2079h0M3564 2001h0M3489 2146h0M3002 2291h0M3207 2180h0M3048 2238h0M2985 2336h0M3549 2063h0M2926 2399h0M3197 2204h0M3302 2279h0M3152 2217h0M3303 2292h0M3532 2143h0M3344 2281h0" stroke="#6a6af0" stroke-width="5" stroke-linecap="round" fill="none" opacity="0.5"/>
<path d="M3361 2225h0M3432 2111h0M3023 2309h0M3013 2339h0M3479 2143h0M3237 2182h0M3438 2111h0M3462 2109h0M3310 2251h0M3489 2120h0M3203 2199h0M3190 2206h0M3165 2310h0M3083 2337h0M3039 2294h0M3289 2261h0M3183 2306h0M3109 2247h0M3481 2143h0M3325 2243h0M3065 2343h0M3011 2336h0M3344 2139h0M3113 2243h0M3441 2176h0M3012 2334h0M3402 2202h0M3341 2234h0M3043 2291h0M3233 2186h0M3226 2189h0M3491 2128h0M3167 2215h0M3248 2177h0M3150 2318h0M3382 2212h0M3070 2268h0M3027 2345h0M3484 2139h0M3330 2239h0M3469 2108h0M3484 2141h0M3023 2343h0M3060 2278h0M3056 2277h0M3010 2333h0M3045 2346h0M3302 2253h0M3343 2136h0M3377 2125h0M3182 2207h0M3483 2142h0M3443 2111h0M3054 2281h0M3131 2325h0M3026 2344h0M3452 2168h0M3065 2343h0M3122 2241h0M3253 2277h0M3288 2161h0M3057 2346h0M3016 2339h0M3469 2109h0M3486 2134h0M3012 2335h0M3040 2292h0M3428 2185h0M3308 2251h0M3036 2297h0M3034 2345h0M3482 2142h0M3012 2323h0M3090 2337h0M3281 2164h0M3083 2337h0M3064 2275h0M3217 2293h0M3454 2105h0M3390 2206h0M3179 2307h0M3097 2333h0M3193 2300h0M3357 2133h0M3347 2138h0M3030 2301h0M3465 2106h0M3010 2334h0M3028 2344h0M3318 2251h0M3317 2245h0M3102 2251h0M3490 2122h0M3083 2264h0M3014 2337h0M3414 2193h0M3483 2112h0M3394 2204h0M3355 2226h0M3489 2118h0M3488 2112h0M3490 2121h0M3448 2172h0M3453 2108h0M3482 2109h0M3489 2129h0M3039 2292h0M3192 2300h0M3011 2337h0M3482 2144h0M3377 2214h0M3230 2186h0M3102 2332h0M3169 2311h0M3480 2111h0M3492 2124h0M3021 2311h0M3326 2142h0M3493 2117h0M3013 2322h0M3378 2214h0M3065 2272h0M3148 2317h0M3113 2245h0M3456 2167h0M3202 2198h0M3145 2226h0M3063 2341h0M3064 2273h0M3484 2111h0M3481 2109h0M3346 2230h0M3020 2342h0M3122 2328h0M3151 2226h0M3429 2114h0M3015 2318h0M3256 2172h0M3446 2172h0M3310 2250h0M3492 2118h0M3328 2240h0M3476 2106h0M3203 2195h0M3177 2309h0M3090 2335h0M3267 2170h0M3132 2326h0M3404 2118h0M3055 2281h0M3014 2342h0M3329 2143h0M3053 2282h0M3144 2224h0M3369 2128h0M3022 2343h0M3110 2247h0M3021 2343h0M3450 2169h0M3493 2125h0M3354 2134h0M3129 2232h0M3026 2306h0M3390 2123h0M3351 2136h0M3098 2248h0M3290 2161h0M3065 2342h0M3242 2280h0M3093 2337h0M3345 2139h0M3487 2133h0M3010 2340h0M3095 2256h0M3263 2168h0M3038 2294h0M3323 2245h0M3477 2146h0M3009 2335h0M3488 2131h0M3474 2110h0M3490 2121h0M3475 2108h0M3015 2342h0M3327 2146h0M3217 2294h0M3472 2153h0M3443 2111h0M3014 2322h0M3387 2208h0M3472 2107h0M3462 2109h0M3013 2339h0M3059 2344h0M3085 2338h0M3478 2144h0M3135 2234h0M3044 2344h0M3488 2132h0M3041 2292h0M3406 2200h0M3223 2189h0M3364 2132h0M3027 2305h0M3042 2292h0M3009 2327h0M3351 2227h0M3125 2325h0M3196 2200h0M3043 2290h0M3469 2158h0M3268 2166h0M3431 2184h0M3350 2228h0M3411 2117h0M3011 2328h0M3481 2111h0M3010 2323h0M3490 2126h0M3246 2179h0M3151 2223h0M3322 2146h0M3392 2208h0M3040 2294h0M3331 2238h0M3481 2109h0M3331 2237h0M3105 2249h0M3051 2346h0M3401 2200h0M3074 2266h0M3394 2121h0M3393 2205h0M3188 2206h0M3050 2344h0M3158 2220h0M3335 2142h0M3081 2340h0M3079 2265h0M3407 2196h0M3491 2122h0M3115 2244h0M3408 2116h0M3301 2254h0M3103 2249h0M3336 2141h0M3465 2159h0M3128 2235h0M3451 2168h0M3013 2337h0M3490 2131h0M3381 2125h0M3468 2155h0M3069 2340h0M3028 2300h0M3125 2330h0M3312 2149h0M3274 2270h0M3275 2164h0M3447 2110h0" stroke="#1432dc" stroke-width="5.5" stroke-linecap="round" fill="none" opacity="0.9"/>
<g filter="url(#rg)"><path d="M3489.8 2117.4L3491.1 2122.4L3490.4 2127.6L3488.0 2133.2L3483.9 2139.4L3478.2 2146.1L3470.8 2153.3L3461.8 2161.1L3451.2 2169.2L3439.2 2177.8L3425.8 2186.7L3411.0 2196.0L3394.9 2205.5L3377.5 2215.3L3359.0 2225.4L3339.2 2235.6L3318.2 2246.0L3295.8 2256.8L3269.8 2268.8L3243.7 2280.5L3220.8 2290.4L3199.1 2299.4L3178.5 2307.6L3158.8 2315.0L3140.0 2321.7L3122.2 2327.6L3105.5 2332.7L3089.9 2337.0L3075.6 2340.4L3062.5 2343.0L3050.8 2344.7L3040.5 2345.6L3031.6 2345.5L3024.2 2344.6L3018.4 2342.7L3014.1 2339.8L3011.2 2335.6L3009.9 2330.6L3010.6 2325.4L3013.0 2319.8L3017.1 2313.6L3022.8 2306.9L3030.2 2299.7L3039.2 2291.9L3049.8 2283.8L3061.8 2275.2L3075.2 2266.3L3090.0 2257.0L3106.1 2247.5L3123.5 2237.7L3142.0 2227.6L3161.8 2217.4L3182.8 2207.0L3205.2 2196.2L3231.2 2184.2L3257.3 2172.5L3280.2 2162.6L3301.9 2153.6L3322.5 2145.4L3342.2 2138.0L3361.0 2131.3L3378.8 2125.4L3395.5 2120.3L3411.1 2116.0L3425.4 2112.6L3438.5 2110.0L3450.2 2108.3L3460.5 2107.4L3469.4 2107.5L3476.8 2108.4L3482.6 2110.3L3486.9 2113.2Z" fill="#1432dc" /></g>
<g filter="url(#b1)">
<path d="M3488.5 2118.1L3489.6 2122.8L3488.9 2127.8L3486.5 2133.3L3482.3 2139.3L3476.5 2145.8L3469.1 2152.9L3460.1 2160.5L3449.6 2168.5L3437.6 2176.9L3424.2 2185.7L3409.5 2194.9L3393.4 2204.3L3376.1 2214.0L3357.7 2223.9L3338.0 2234.0L3317.1 2244.4L3294.8 2255.1L3269.0 2267.0L3243.0 2278.7L3220.2 2288.5L3198.7 2297.5L3178.2 2305.7L3158.6 2313.1L3140.0 2319.8L3122.3 2325.7L3105.8 2330.8L3090.3 2335.2L3076.1 2338.7L3063.1 2341.4L3051.5 2343.2L3041.3 2344.2L3032.6 2344.2L3025.3 2343.4L3019.6 2341.7L3015.4 2339.0L3012.5 2334.9L3011.4 2330.2L3012.1 2325.2L3014.5 2319.7L3018.7 2313.7L3024.5 2307.2L3031.9 2300.1L3040.9 2292.5L3051.4 2284.5L3063.4 2276.1L3076.8 2267.3L3091.5 2258.1L3107.6 2248.7L3124.9 2239.0L3143.3 2229.1L3163.0 2219.0L3183.9 2208.6L3206.2 2197.9L3232.0 2186.0L3258.0 2174.3L3280.8 2164.5L3302.3 2155.5L3322.8 2147.3L3342.4 2139.9L3361.0 2133.2L3378.7 2127.3L3395.2 2122.2L3410.7 2117.8L3424.9 2114.3L3437.9 2111.6L3449.5 2109.8L3459.7 2108.8L3468.4 2108.8L3475.7 2109.6L3481.4 2111.3L3485.6 2114.0Z" fill="#1e50e0" />
<path d="M3484.4 2119.9L3485.4 2124.3L3484.5 2128.8L3482.0 2133.9L3477.8 2139.6L3472.0 2145.8L3464.6 2152.5L3455.6 2159.7L3445.2 2167.3L3433.3 2175.4L3420.1 2183.9L3405.5 2192.7L3389.7 2201.8L3372.6 2211.2L3354.4 2220.9L3335.1 2230.8L3314.6 2240.9L3292.6 2251.4L3267.2 2263.1L3241.7 2274.5L3219.3 2284.3L3198.2 2293.1L3178.1 2301.3L3158.9 2308.7L3140.6 2315.4L3123.3 2321.3L3107.1 2326.5L3092.0 2331.0L3078.1 2334.6L3065.5 2337.5L3054.2 2339.5L3044.3 2340.7L3035.8 2341.0L3028.8 2340.5L3023.3 2339.1L3019.3 2336.7L3016.6 2333.1L3015.6 2328.7L3016.5 2324.2L3019.0 2319.1L3023.2 2313.4L3029.0 2307.2L3036.4 2300.5L3045.4 2293.3L3055.8 2285.7L3067.7 2277.6L3080.9 2269.1L3095.5 2260.3L3111.3 2251.2L3128.4 2241.8L3146.6 2232.1L3165.9 2222.2L3186.4 2212.1L3208.4 2201.6L3233.8 2189.9L3259.3 2178.5L3281.7 2168.7L3302.8 2159.9L3322.9 2151.7L3342.1 2144.3L3360.4 2137.6L3377.7 2131.7L3393.9 2126.5L3409.0 2122.0L3422.9 2118.4L3435.5 2115.5L3446.8 2113.5L3456.7 2112.3L3465.2 2112.0L3472.2 2112.5L3477.7 2113.9L3481.7 2116.3Z" fill="#35c4ea" />
<path d="M3478.0 2122.8L3478.9 2126.8L3477.9 2131.1L3475.4 2135.8L3471.2 2141.1L3465.5 2147.0L3458.2 2153.3L3449.4 2160.2L3439.2 2167.5L3427.6 2175.2L3414.7 2183.3L3400.4 2191.8L3385.0 2200.6L3368.4 2209.7L3350.7 2219.0L3331.8 2228.5L3311.8 2238.3L3290.4 2248.5L3265.7 2259.9L3240.9 2271.1L3219.2 2280.5L3198.7 2289.2L3179.1 2297.2L3160.4 2304.4L3142.7 2311.0L3125.9 2316.9L3110.2 2322.1L3095.6 2326.5L3082.1 2330.2L3069.9 2333.1L3059.0 2335.2L3049.4 2336.6L3041.3 2337.1L3034.5 2336.7L3029.3 2335.5L3025.5 2333.4L3023.0 2330.2L3022.1 2326.2L3023.1 2321.9L3025.6 2317.2L3029.8 2311.9L3035.5 2306.0L3042.8 2299.7L3051.6 2292.8L3061.8 2285.5L3073.4 2277.8L3086.3 2269.7L3100.6 2261.2L3116.0 2252.4L3132.6 2243.3L3150.3 2234.0L3169.2 2224.5L3189.2 2214.7L3210.6 2204.5L3235.3 2193.1L3260.1 2181.9L3281.8 2172.5L3302.3 2163.8L3321.9 2155.8L3340.6 2148.6L3358.3 2142.0L3375.1 2136.1L3390.8 2130.9L3405.4 2126.5L3418.9 2122.8L3431.1 2119.9L3442.0 2117.8L3451.6 2116.4L3459.7 2115.9L3466.5 2116.3L3471.7 2117.5L3475.5 2119.6Z" fill="#7af090" />
<path d="M3468.9 2127.0L3469.7 2130.7L3468.8 2134.7L3466.3 2139.2L3462.3 2144.3L3456.7 2149.8L3449.7 2155.9L3441.3 2162.4L3431.5 2169.4L3420.3 2176.8L3407.9 2184.5L3394.2 2192.6L3379.4 2201.0L3363.4 2209.7L3346.4 2218.6L3328.3 2227.8L3309.1 2237.2L3288.5 2247.0L3264.8 2257.9L3241.0 2268.6L3220.1 2277.7L3200.4 2286.0L3181.7 2293.7L3163.8 2300.7L3146.8 2307.0L3130.7 2312.7L3115.6 2317.7L3101.6 2322.0L3088.7 2325.6L3077.0 2328.5L3066.5 2330.5L3057.3 2331.9L3049.5 2332.4L3043.1 2332.1L3038.0 2331.0L3034.4 2329.1L3032.1 2326.0L3031.3 2322.3L3032.2 2318.3L3034.7 2313.8L3038.7 2308.7L3044.3 2303.2L3051.3 2297.1L3059.7 2290.6L3069.5 2283.6L3080.7 2276.2L3093.1 2268.5L3106.8 2260.4L3121.6 2252.0L3137.6 2243.3L3154.6 2234.4L3172.7 2225.2L3191.9 2215.8L3212.5 2206.0L3236.2 2195.1L3260.0 2184.4L3280.9 2175.3L3300.6 2167.0L3319.3 2159.3L3337.2 2152.3L3354.2 2146.0L3370.3 2140.3L3385.4 2135.3L3399.4 2131.0L3412.3 2127.4L3424.0 2124.5L3434.5 2122.5L3443.7 2121.1L3451.5 2120.6L3457.9 2120.9L3463.0 2122.0L3466.6 2123.9Z" fill="#c6f23e" />
<path d="M3458.0 2131.9L3458.7 2135.5L3457.9 2139.3L3455.5 2143.6L3451.7 2148.3L3446.4 2153.6L3439.7 2159.3L3431.7 2165.5L3422.4 2172.1L3411.8 2179.2L3399.9 2186.5L3386.9 2194.2L3372.8 2202.2L3357.7 2210.4L3341.5 2218.9L3324.3 2227.6L3306.1 2236.5L3286.5 2245.8L3264.0 2256.2L3241.4 2266.3L3221.6 2275.0L3202.9 2282.9L3185.0 2290.2L3168.0 2296.8L3151.9 2302.9L3136.6 2308.3L3122.3 2313.0L3109.0 2317.1L3096.7 2320.6L3085.6 2323.3L3075.7 2325.3L3067.0 2326.5L3059.5 2327.0L3053.4 2326.8L3048.6 2325.8L3045.2 2324.0L3043.0 2321.1L3042.3 2317.5L3043.1 2313.7L3045.5 2309.4L3049.3 2304.7L3054.6 2299.4L3061.3 2293.7L3069.3 2287.5L3078.6 2280.9L3089.2 2273.8L3101.1 2266.5L3114.1 2258.8L3128.2 2250.8L3143.3 2242.6L3159.5 2234.1L3176.7 2225.4L3194.9 2216.5L3214.5 2207.2L3237.0 2196.8L3259.6 2186.7L3279.4 2178.0L3298.1 2170.1L3316.0 2162.8L3333.0 2156.2L3349.1 2150.1L3364.4 2144.7L3378.7 2140.0L3392.0 2135.9L3404.3 2132.4L3415.4 2129.7L3425.3 2127.7L3434.0 2126.5L3441.5 2126.0L3447.6 2126.2L3452.4 2127.2L3455.8 2129.0Z" fill="#f8e61e" />
<path d="M3448.9 2136.1L3449.5 2139.3L3448.6 2142.7L3446.2 2146.7L3442.5 2151.1L3437.4 2155.9L3431.0 2161.3L3423.3 2167.1L3414.3 2173.3L3404.1 2179.9L3392.7 2186.8L3380.2 2194.0L3366.7 2201.6L3352.2 2209.4L3336.7 2217.4L3320.2 2225.7L3302.8 2234.2L3284.1 2243.1L3262.6 2253.0L3240.9 2262.7L3222.0 2271.0L3204.1 2278.6L3187.1 2285.6L3170.9 2292.0L3155.5 2297.9L3140.9 2303.1L3127.2 2307.8L3114.5 2311.8L3102.9 2315.2L3092.3 2317.9L3082.9 2319.9L3074.6 2321.3L3067.6 2321.9L3061.8 2321.8L3057.3 2321.0L3054.1 2319.5L3052.1 2316.9L3051.5 2313.7L3052.4 2310.3L3054.8 2306.3L3058.5 2301.9L3063.6 2297.1L3070.0 2291.7L3077.7 2285.9L3086.7 2279.7L3096.9 2273.1L3108.3 2266.2L3120.8 2259.0L3134.3 2251.4L3148.8 2243.6L3164.3 2235.6L3180.8 2227.3L3198.2 2218.8L3216.9 2209.9L3238.4 2200.0L3260.1 2190.3L3279.0 2182.0L3296.9 2174.4L3313.9 2167.4L3330.1 2161.0L3345.5 2155.1L3360.1 2149.9L3373.8 2145.2L3386.5 2141.2L3398.1 2137.8L3408.7 2135.1L3418.1 2133.1L3426.4 2131.7L3433.4 2131.1L3439.2 2131.2L3443.7 2132.0L3446.9 2133.5Z" fill="#ff8a14" />
<path d="M3440.7 2139.8L3441.2 2142.7L3440.3 2145.9L3438.0 2149.5L3434.3 2153.6L3429.4 2158.1L3423.2 2163.1L3415.7 2168.6L3407.0 2174.4L3397.2 2180.7L3386.3 2187.2L3374.3 2194.1L3361.3 2201.3L3347.4 2208.7L3332.5 2216.4L3316.7 2224.2L3299.9 2232.4L3282.0 2240.8L3261.4 2250.3L3240.6 2259.7L3222.5 2267.7L3205.4 2275.0L3189.1 2281.7L3173.5 2287.9L3158.8 2293.6L3144.8 2298.7L3131.8 2303.2L3119.6 2307.1L3108.5 2310.5L3098.4 2313.2L3089.4 2315.2L3081.6 2316.7L3074.9 2317.4L3069.4 2317.5L3065.2 2316.8L3062.2 2315.5L3060.3 2313.2L3059.8 2310.3L3060.7 2307.1L3063.0 2303.5L3066.7 2299.4L3071.6 2294.9L3077.8 2289.9L3085.3 2284.4L3094.0 2278.6L3103.8 2272.3L3114.7 2265.8L3126.7 2258.9L3139.7 2251.7L3153.6 2244.3L3168.5 2236.6L3184.3 2228.8L3201.1 2220.6L3219.0 2212.2L3239.6 2202.7L3260.4 2193.3L3278.5 2185.3L3295.6 2178.0L3311.9 2171.3L3327.5 2165.1L3342.2 2159.4L3356.2 2154.3L3369.2 2149.8L3381.4 2145.9L3392.5 2142.5L3402.6 2139.8L3411.6 2137.8L3419.4 2136.3L3426.1 2135.6L3431.6 2135.5L3435.8 2136.2L3438.8 2137.5Z" fill="#ee340f" />
<path d="M3387.0 2164.3L3387.2 2166.1L3386.5 2168.1L3384.7 2170.5L3382.0 2173.2L3378.3 2176.3L3373.8 2179.7L3368.4 2183.4L3362.1 2187.4L3354.9 2191.7L3347.0 2196.3L3338.4 2201.1L3329.0 2206.1L3319.0 2211.4L3308.2 2216.8L3296.9 2222.4L3284.8 2228.2L3272.0 2234.2L3257.1 2241.1L3242.3 2247.8L3229.3 2253.5L3217.0 2258.8L3205.3 2263.7L3194.2 2268.2L3183.6 2272.4L3173.7 2276.2L3164.4 2279.5L3155.7 2282.5L3147.8 2285.1L3140.6 2287.2L3134.3 2288.8L3128.7 2290.0L3124.0 2290.8L3120.2 2291.0L3117.2 2290.8L3115.2 2290.1L3114.0 2288.7L3113.8 2286.9L3114.5 2284.9L3116.3 2282.5L3119.0 2279.8L3122.7 2276.7L3127.2 2273.3L3132.6 2269.6L3138.9 2265.6L3146.1 2261.3L3154.0 2256.7L3162.6 2251.9L3172.0 2246.9L3182.0 2241.6L3192.8 2236.2L3204.1 2230.6L3216.2 2224.8L3229.0 2218.8L3243.9 2211.9L3258.7 2205.2L3271.7 2199.5L3284.0 2194.2L3295.7 2189.3L3306.8 2184.8L3317.4 2180.6L3327.3 2176.8L3336.6 2173.5L3345.3 2170.5L3353.2 2167.9L3360.4 2165.8L3366.7 2164.2L3372.3 2163.0L3377.0 2162.2L3380.8 2162.0L3383.8 2162.2L3385.8 2162.9Z" fill="#e42c0d" />
<path d="M3332.4 2189.2L3332.5 2190.1L3332.0 2191.3L3330.9 2192.6L3329.2 2194.1L3327.0 2195.9L3324.2 2197.9L3320.9 2200.0L3317.1 2202.4L3312.8 2204.9L3308.1 2207.6L3302.8 2210.4L3297.2 2213.4L3291.2 2216.5L3284.7 2219.7L3277.9 2223.1L3270.7 2226.5L3262.9 2230.1L3254.0 2234.2L3245.1 2238.3L3237.3 2241.7L3229.9 2244.9L3223.0 2247.9L3216.3 2250.6L3210.0 2253.2L3204.0 2255.5L3198.5 2257.5L3193.3 2259.4L3188.6 2261.0L3184.3 2262.3L3180.5 2263.4L3177.2 2264.2L3174.4 2264.7L3172.2 2264.9L3170.5 2264.9L3169.3 2264.5L3168.6 2263.8L3168.5 2262.9L3169.0 2261.7L3170.1 2260.4L3171.8 2258.9L3174.0 2257.1L3176.8 2255.1L3180.1 2253.0L3183.9 2250.6L3188.2 2248.1L3192.9 2245.4L3198.2 2242.6L3203.8 2239.6L3209.8 2236.5L3216.3 2233.3L3223.1 2229.9L3230.3 2226.5L3238.1 2222.9L3247.0 2218.8L3255.9 2214.7L3263.7 2211.3L3271.1 2208.1L3278.0 2205.1L3284.7 2202.4L3291.0 2199.8L3297.0 2197.5L3302.5 2195.5L3307.7 2193.6L3312.4 2192.0L3316.7 2190.7L3320.5 2189.6L3323.8 2188.8L3326.6 2188.3L3328.8 2188.1L3330.5 2188.1L3331.7 2188.5Z" fill="#d4220b" />
</g>
</g>
</svg>
</body></html>
